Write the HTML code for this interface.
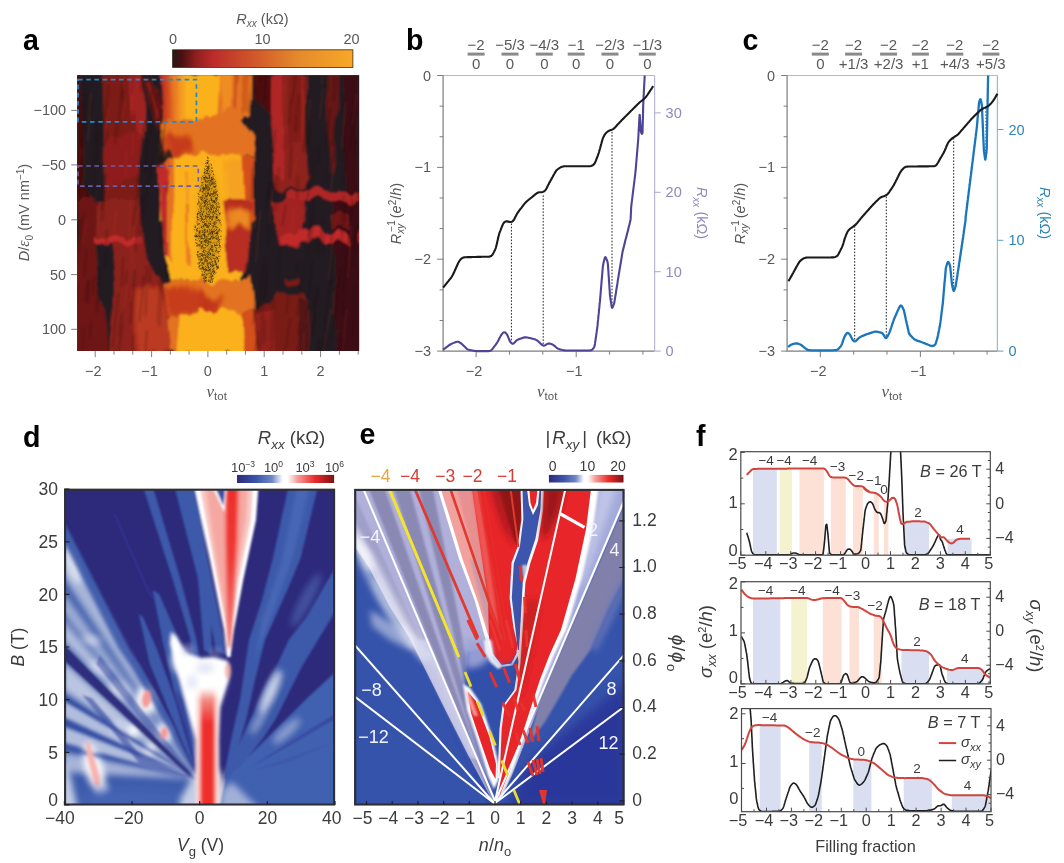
<!DOCTYPE html>
<html lang="en"><head><meta charset="utf-8"><title>Figure</title>
<style>
html,body{margin:0;padding:0;background:#fff;}
body{width:1064px;height:863px;overflow:hidden;}
svg{display:block;font-family:"Liberation Sans",sans-serif;}
</style></head><body>
<svg width="1064" height="863" viewBox="0 0 1064 863">
<rect width="1064" height="863" fill="#fff"/>
<g id="pa"><text transform="translate(23.0 49.5) scale(0.97 1)" font-size="29.5" font-weight="bold" fill="#000">a</text><defs><linearGradient id="cba" x1="0" x2="1" y1="0" y2="0"><stop offset="0" stop-color="#241a1b"/><stop offset="0.05" stop-color="#4a0f10"/><stop offset="0.13" stop-color="#8f1f1f"/><stop offset="0.22" stop-color="#bb2a2b"/><stop offset="0.45" stop-color="#d1572a"/><stop offset="0.7" stop-color="#e58a2c"/><stop offset="1" stop-color="#f8a827"/></linearGradient></defs><rect x="172.6" y="49.8" width="180.3" height="17.6" fill="url(#cba)" stroke="#3a2a1a" stroke-width="0.8"/><text x="262.5" y="23.5" text-anchor="middle" font-size="14.5" fill="#58595b"><tspan font-style="italic">R</tspan><tspan font-style="italic" dy="3.5" font-size="10">xx</tspan><tspan dy="-3.5"> (kΩ)</tspan></text><text x="173" y="44.3" text-anchor="middle" font-size="14.5" fill="#58595b">0</text><text x="262.5" y="44.3" text-anchor="middle" font-size="14.5" fill="#58595b">10</text><text x="351.5" y="44.3" text-anchor="middle" font-size="14.5" fill="#58595b">20</text><defs><clipPath id="ca"><rect x="77.2" y="75.2" width="281.90000000000003" height="275.90000000000003"/></clipPath><filter id="ba1" x="-20%" y="-20%" width="140%" height="140%"><feGaussianBlur stdDeviation="0.9"/></filter><filter id="bat" x="-5%" y="-5%" width="110%" height="110%"><feTurbulence type="fractalNoise" baseFrequency="0.09 0.012" numOctaves="2" seed="4" result="n"/><feDisplacementMap in="SourceGraphic" in2="n" scale="14" xChannelSelector="R" yChannelSelector="G" result="d"/><feGaussianBlur in="d" stdDeviation="0.8"/></filter><filter id="ba2" x="-20%" y="-20%" width="140%" height="140%"><feGaussianBlur stdDeviation="2.2"/></filter><filter id="ba3" x="-30%" y="-30%" width="160%" height="160%"><feGaussianBlur stdDeviation="4"/></filter><linearGradient id="ga_l" x1="0" x2="1" y1="0" y2="0"><stop offset="0" stop-color="#c02a2a"/><stop offset="0.35" stop-color="#d5501f"/><stop offset="0.7" stop-color="#f19422"/><stop offset="1" stop-color="#fbb11e"/></linearGradient></defs><g clip-path="url(#ca)"><rect x="76.2" y="74.2" width="283.90000000000003" height="277.90000000000003" fill="#241f20"/><g filter="url(#bat)"><rect x="40" y="40" width="360" height="350" fill="#241f20"/><path d="M76.3 73 L83.2 73 L83.7 189.8 L87.8 193.5 L95.2 220 L76.3 220Z" fill="#4e1011"/><path d="M76.3 200 L95.2 200 L94.3 242.6 L100.8 292.7 L106.3 329.8 L108.2 353.9 L76.3 353.9Z" fill="#6e1917"/><path d="M104.5 73 L141.6 73 L141.6 134.2 L138.8 163.8 L141.6 189.8 L141.6 220 L104.5 220 L106.3 143.4Z" fill="#7d1b19"/><path d="M131.4 73 L141.6 73 L141.6 134.2 L134.2 134.2Z" fill="#a22421"/><path d="M107.3 137.9 L139.7 134.2 L137.9 174.9 L106.3 189.8Z" fill="#8f1f1d"/><path d="M95.2 200 L141.6 200 L143.4 237.1 L147.1 261.2 L160.1 283.4 L178.7 313.1 L178.7 353.9 L108.2 353.9 L115.6 283.4 L111.9 242.6 L93.4 242.6Z" fill="#8c201d"/><path d="M89.7 237.1 L141.6 238 L141.6 244.5 L91.5 243Z" fill="#c02a2a"/><path d="M134.2 289 L156.4 285.3 L171.2 314.9 L174.9 353.9 L134.2 353.9Z" fill="#bf3d20" opacity="0.9" filter="url(#ba2)"/><path d="M93.7 243.6 L112.8 244.5 L116 283.4 L114.1 305.7 L107.5 334.4 L101.9 305.7 L96.7 277.9Z" fill="#241f20"/><path d="M143 79 L151 77 L162 112 L161 130 L153 122 L146 100Z" fill="#6b1414" opacity="0.85"/><path d="M146 82 L149 82 L158 118 L156 120Z" fill="#8e1f1c" opacity="0.8"/><path d="M160.1 73 L240 73 L240 123 L163.8 121.2Z" fill="#fbb11e"/><path d="M159.7 73 L187.9 73 L187.9 122.1 L164.7 121.2 L161 106.3Z" fill="url(#ga_l)"/><path d="M200 73 L219.5 73 L217.6 110.1 L222.2 123 L200 126.7Z" fill="#fbb11e"/><path d="M219.5 73 L250.1 73 L249.7 113.8 L242.6 119.3 L251.9 134.2 L253.8 156.4 L200 156.4 L200 125.8 L217.6 111.9Z" fill="#e37320"/><path d="M220.4 73 L232.4 73 L231.5 108.2 L222.2 111.9Z" fill="#f19422" opacity="0.8"/><path d="M234.3 73 L238 73 L237.1 111.9 L234.3 108.2Z" fill="#c5481f" opacity="0.8"/><path d="M241.7 73 L248.6 73 L248.6 110.1 L243.6 113.8Z" fill="#cf5a1f" opacity="0.9"/><path d="M161 121.2 L208.3 122.1 L240 124.9 L240 153.6 L200.9 155.5 L171.2 160.1 L165.7 149Z" fill="#e37320"/><path d="M163.8 134.2 L189.8 139.7 L193.5 152.7 L171.2 160.1 L165.7 150.8Z" fill="#c2351f" opacity="0.9" filter="url(#ba2)"/><path d="M160.1 163.8 L171.2 159.2 L200.9 154.9 L240 153.6 L240 220 L160.1 220Z" fill="#fbb11e"/><path d="M200 153.6 L242.6 155.5 L244.5 220 L200 220Z" fill="#fbb11e"/><path d="M224.1 160.1 L243.6 157.3 L244.5 220 L226 220Z" fill="#f19422" opacity="0.55" filter="url(#ba2)"/><path d="M241.7 156.4 L253.8 157.3 L254.1 220 L243.6 220Z" fill="#d5501f"/><path d="M160.1 200 L240 200 L240 281.6 L200.9 282.5 L171.2 277.9 L163.8 255.6Z" fill="#fbb11e"/><path d="M200 200 L224.1 200 L227.8 224.1 L244.5 226 L246.3 270.4 L237.1 281.6 L200 281.6Z" fill="#fbb11e"/><path d="M224.1 200 L253.8 200 L251.9 211.1 L248.2 270.4 L227.8 274.2 L223.2 246.3 L227.8 226Z" fill="#b82d20"/><path d="M226 209.3 L250.1 210.2 L249.1 227.8 L227.8 227.8Z" fill="#f19422" opacity="0.9" filter="url(#ba2)"/><path d="M159.7 163.8 L166.6 161 L167.5 220 L161 220Z" fill="#c02a2a"/><path d="M166.6 161 L173.1 159.2 L173.5 220 L167.5 220Z" fill="#e37320"/><path d="M160.1 200 L167.5 200 L168.5 253.8 L163.8 255.6Z" fill="#c02a2a"/><path d="M167.5 200 L173.5 200 L174 261.2 L168.5 253.8Z" fill="#e37320"/><path d="M184.6 171.2 L188.3 171.2 L188.3 220 L184.6 220Z" fill="#f19422" opacity="0.8"/><path d="M185.3 200 L189 200 L189 266.7 L186.1 266.7Z" fill="#e37320" opacity="0.8"/><path d="M160.1 282.5 L171.2 277.9 L200.9 282.5 L240 281.6 L240 311.2 L182.4 314 L171.2 318.7Z" fill="#e37320"/><path d="M200 281.6 L237.1 281.6 L251.9 276 L255.6 311.2 L242.6 311.2 L200 311.2Z" fill="#e37320"/><path d="M160.1 283.4 L189.8 287.1 L219.4 303.8 L208.3 313.1 L178.7 313.1 L171.2 318.7Z" fill="#c3361f" opacity="0.85" filter="url(#ba2)"/><path d="M200 296.4 L222.2 298.3 L218.5 311.2 L207.4 313.1 L200 307.5Z" fill="#c3361f" opacity="0.85" filter="url(#ba2)"/><path d="M178.7 313.5 L208.3 313.5 L240 310.9 L240 353.9 L175.9 353.9Z" fill="#fbb11e"/><path d="M200 310.9 L239.9 311.2 L244.5 329.8 L245.4 353.9 L200 353.9Z" fill="#fbb11e"/><path d="M168.5 318.7 L179.6 313.5 L177.7 353.9 L171.2 353.9Z" fill="#e37320"/><path d="M239.9 311.2 L253.8 311.2 L257.5 353.9 L245.4 353.9 L244.5 329.8Z" fill="#d5501f"/><path d="M252.8 73 L271.4 73 L271.4 115.6 L261.2 106.3 L253.8 97.1Z" fill="#4e1011"/><path d="M272.3 73 L305.7 73 L306.6 143.4 L309.4 178.7 L303.8 189.8 L277.9 189.8 L274.2 174.9 L271.4 134.2Z" fill="#8e201d"/><path d="M272.3 73 L284.4 73 L285.3 137.9 L281.6 178.7 L274.2 171.2 L271.4 134.2Z" fill="#b02826"/><path d="M289 73 L300.1 73 L300.1 139.7 L290.8 141.6Z" fill="#7d1b19" opacity="0.8"/><path d="M271.4 200 L303.8 200 L305.7 222.2 L300.1 246.3 L281.6 246.3 L274.2 222.2Z" fill="#a22421"/><path d="M281.6 237.1 L296.4 233.4 L311.2 229.7 L329.8 233.4 L344.6 230.6 L361.3 232.4 L361.3 243.6 L329.8 242.3 L311.2 240.4 L296.4 244.5 L283.4 246.3Z" fill="#c02a2a"/><path d="M283.4 193.5 L318.7 189.8 L329.8 193.5 L348.3 189.8 L361.3 193.5 L361.3 201.3 L318.7 199.4 L283.4 202.8Z" fill="#b02826"/><path d="M272.3 200.9 L303.8 202.8 L303.8 220 L272.3 220Z" fill="#a22421"/><path d="M329.8 73 L337.2 73 L336.8 163.8 L333.5 178.7 L330.7 163.8Z" fill="#651314"/><path d="M342.8 73 L359.1 73 L359.1 220 L346.5 220 L344.6 152.7Z" fill="#3d1112"/><path d="M333.5 200 L359.1 200 L359.1 353.9 L337.2 353.9 L333.5 274.2Z" fill="#3d1112"/><path d="M329.8 213 L348.3 211.1 L350.2 226 L333.5 227.8Z" fill="#7d1b19" opacity="0.8"/><path d="M311.2 230.6 L329.8 233.7 L344.6 231 L348.3 231.5 L350.2 243 L329.8 241.9 L311.2 240Z" fill="#c02a2a"/><path d="M318.7 190.1 L329.8 193.5 L348.3 189.8 L361.3 193.5 L361.3 200.9 L318.7 199Z" fill="#b02826"/><path d="M253.8 311.2 L263 308.5 L274.2 296.4 L281.6 292.7 L300.1 292.7 L307.5 303.8 L308.5 353.9 L257.5 353.9Z" fill="#7a1b19"/><path d="M255.6 314.9 L270.4 311.2 L277.9 353.9 L257.5 353.9Z" fill="#9a2320" opacity="0.8"/><path d="M296.4 296.4 L306.6 303.8 L307.5 353.9 L300.1 353.9Z" fill="#4a1213" opacity="0.8"/><path d="M287.1 277.9 L296.4 276.9 L298.3 282.5 L287.1 283.4Z" fill="#7d1b19"/></g><path d="M87.8 184.8l-0.5 15M319.2 145.1l-0.7 18.2M307.3 115.1l-4.1 37M269 183.2l-2.6 25.5M353.5 97.8l-3.8 30M259.6 339.2l-2.8 47.3M265.7 71.4l-1.4 31.9M93.8 277.2l-1 17.6M308.2 303.6l-1.9 24M326.5 329.4l-0.8 18.5M143 199l-2.1 37.3M271.9 207.4l-4.4 38.6M330.8 280.4l-6.5 49.6M96.2 122.8l-1.3 19M77.3 106.9l-1.2 16.4M323.7 234.6l-1 18.4M317.6 287.6l-5.8 47.2M156 136.7l-6.4 41.8M341.3 337.8l-3.8 53.1M314.1 197.5l-5.3 40.1M263.4 316.2l-5.7 45.6M118.4 293.2l-6.1 54.2M310.1 123.4l-1.4 22.8M298.3 94.5l-2 36.1M343.1 297l-0.7 17.9M330.1 107.8l-4.8 42.8M326.1 332.1l-3.3 21.4M167 264.4l-1.3 12.8M82.3 156.7l-3.6 38.8M354.9 282.7l-1.9 53.8M88.4 280.1l-0.9 23.6M152.7 100.9l-1.9 34.7M122.7 79.1l-1.3 20.7M291.3 145.2l-1.5 33.5M311.8 260.2l-3 39.3M92.5 101l-1.9 15M156.7 132l-2.1 24.6M151.7 90l-0.8 29.2M262.6 262.7l-3.7 49.8M354.8 106.4l-4.7 43.1M142 73.8l-1.2 17.7M135.1 269.3l-4.8 54M163 221.8l-0.4 12.5M133.4 335.1l-1.2 52.3M308.3 332.3l-1.8 31.3M275.5 129l-4.5 50.6M78.2 200.9l-2 31.4M147.5 138.5l-1.6 34M91 320.9l-1.5 17.5M162 219l-1.3 29M358.1 189.3l-0.8 18M254.7 303.3l-1.2 21.3M338.5 293l-7.6 48.8M108.8 84.6l-3.5 34.6M140.2 231l-0.8 12.4M347.5 243l-4.3 50M146.8 330.2l-2.7 42.3M265.3 320.5l-0.5 21.8M285.6 204.5l-3.2 20.8M308.4 128.9l-2.7 21.5M345.5 202l-1 20.1M264.7 327l-1.4 18.3M351.8 104.4l-0.4 14.2M86.2 248.5l-2 28.3M308.9 184.5l-1.2 14.1M336.4 118.5l-4 27.7M151.1 262.9l-1.5 25.6M290.2 318.1l-6 39.3M143.1 196.3l-8.2 53.1M148 183.8l-5 33.2M99.5 119.6l-2.4 44.4M355.7 138.3l-0.5 15.6M267.2 271.6l-5.5 48.4M335 76.3l-0.9 24.6M107 229.7l-2 38.7M134.6 68.3l-3 26.1M165.2 121.3l-4.5 46.2M105.8 174.3l-3.9 35.7M123.3 257.1l-1.8 29.6M345.9 151.4l-2.5 36.4M81.4 217.4l-5.8 39.5M252.6 167.5l-1.4 33.7M352.2 198.4l-2.1 14.3M139.8 176.8l-6.6 48.4M138.7 175.5l-2.5 34.3M143.5 275.9l-3.8 45.5M100.4 267.6l-4.2 45.4M318.8 340l-5.8 43.5M353.9 200.9l-7.9 53.1M122 312.6l-3.2 23.8M122.7 323.6l-6 41.2M298.5 97l-3.8 34.8M323.3 218.4l-5.3 36.9M357.1 239l-3.8 29M356.4 224.5l-3.5 27.5M127 270.4l-1.9 14.1M257.4 336.7l-4.2 37.2M77.7 74.5l-2 18.4M261.3 71.3l-0.8 12.1M341.4 267.6l-3.3 22.7M296.8 68.6l-5.4 35.7M258.2 331.5l-3.1 21.3M137 237l-2.3 15.3M84.8 94.6l-3.5 51.9M343.4 94.8l-0.7 20.8M158.2 92.8l-2 16.2M167.2 182.1l-0.7 12.9M317.2 235.8l-1 13.3" stroke="#1c0808" stroke-width="1.8" opacity="0.22" fill="none" filter="url(#ba1)"/><path d="M161.7 284.4l-2.3 42.1M343.5 196l-1.2 40.6M83.7 327.6l-1.4 34.7M84.8 210.9l-7.6 54.1M150.8 166.4l-2.5 19.2M78.3 285.7l-1.7 19.4M274.3 307l-3 52.5M97.7 131.6l-1.7 15.1M271.2 182.5l-2.3 15.1M82.3 134.3l-1.6 12.7M123.2 88.5l-6.8 48.2M163 129.4l-3.5 37.2M310.2 226.3l-5.8 50.4M312.8 219.3l-4.2 39M284.9 134.8l-0.9 15.2M258.4 86.6l-1 18.3M266.6 256.2l-2.5 41.1M343.8 123.3l-1.5 37M288.8 296.7l-2.6 17.2M342.4 216.7l-1.2 42.9M161.1 269.1l-3 54M94.7 141.8l-2 53.6M280.7 243.8l-3.8 44.9M88.3 281l-3.3 22M162.8 100.5l-2.5 22.8M87 82.5l-2.9 51.6M330.5 158.7l-3.7 23.7M303.4 268.9l-6.1 47.4M277.3 188.5l-1.7 22.1M314.2 146.3l-2.6 36.4M117.1 121.5l-2.4 23M320.8 340.2l-1.3 27.6M332.1 236.4l-2 47.5M146.8 265.2l-1.3 50.6M290.7 75.7l-1.8 48M103.1 187.1l-0.9 33.9M299.4 321.9l-1 14.8M297.7 176.1l-0.5 23.4M297.9 262.6l-1.7 12.3M106.9 129.3l-0.9 13.7M273.2 298.4l-2.4 42.6M150.6 130.3l-6.7 44M85.3 76.7l-4.5 41.8M316.2 289.2l-5.3 39.3M279 166.7l-4 25.8" stroke="#2a0c0c" stroke-width="3" opacity="0.16" fill="none" filter="url(#ba1)"/><path d="M310.3 99.4l-2.3 21.6M322.9 87.4l-3 31.3M296.8 156.2l-2.9 21.6M141.1 119.5l-2.2 20.8M127.5 282.9l-3.5 26.3M125.1 100.2l-2.7 18.5M260.3 210.5l-4.2 52.1M333.7 162.8l-3.2 31.7M294.9 205.3l-4.6 36.2M272.5 190l-3 34.9M334.1 291.2l-0.9 23.1M303.2 88.3l-1.4 48.8M130.6 196.2l-1.8 52.2M312.7 311.3l-4.8 39M116.5 209.7l-4.6 33.7M345.8 101.8l-4.3 47.3M331.4 145.2l-2.1 28M90.8 93.3l-2.9 47.9M346.7 309.2l-5.1 46.9M135.8 315.2l-1.7 33.4M323.3 71.2l-1.6 13.4M107.9 107.8l-4 34.5M330.4 309l-6.9 43.5M124.9 66l-1.7 24M112.1 331.2l-1.5 20.9M86.7 217.7l-4.1 26M133.4 133.5l-0.9 22.5M356.6 93.4l-4.4 32.4M351.5 226.1l-3.7 52M134.6 66.8l-4 50.8M304.1 332l-0.8 20.5M134.8 237.3l-1.3 32.4M145.9 106.4l-1.8 16.1M133.4 233l-3.7 33.8M126.4 150.6l-0.7 24.9M333 239.2l-4.7 41.8M284.9 83.3l-2.7 37.4M308.2 311.1l-2.1 14.8" stroke="#d84a30" stroke-width="1.6" opacity="0.14" fill="none" filter="url(#ba1)"/><ellipse cx="208.5" cy="225" rx="11" ry="56" fill="#8a6a10" opacity="0.3" filter="url(#ba2)"/><path d="M209.2 185.6l-0 0.5M216.4 215l0.1 -1.3M218.2 235.8l0.3 0.6M218.9 245.8l0.5 -0.2M213.8 273.9l-1.2 -1M208.6 193.6l-0.7 0.3M219.2 229.4l0.8 1.3M210 280.9l0.6 1.7M200.8 207.4l0.4 1.3M209 161.1l0.3 -0.6M217.7 266.9l1 -0.7M209.2 165.2l-1.1 -0.3M199.3 232.7l0.7 -0.7M213.2 276.8l-0.4 0.1M211 237l0 1.6M206.8 219.6l-1 -0.7M204.8 241.4l0.3 -1.7M207.8 187.3l-0.8 -0.5M206 195.1l-0.8 -0.4M197.4 253.2l0.3 -0.7M213.1 183.7l-1.1 -0.2M198.5 243.8l-0.7 1.2M216.6 211l-0.7 0.5M207.6 267.4l-1.3 0.1M216.5 236.7l-1.3 -0.7M203.2 255.9l-0.5 -0.3M217.7 207.3l-1.6 1.6M217.8 266.8l0.9 1.5M209 239.4l-0.7 -1M219.1 243.3l0.7 0.3M211.6 193.4l-0.5 1.6M204.3 232.9l0.6 -0.1M205 254.5l-0.2 1.1M215.9 257.5l0 1.3M206.6 222.2l0.4 -1.8M206.5 162.4l-1.4 1.7M199.6 263.6l-0.8 -0.7M211.5 199.9l-0.7 -1.1M201.1 197.1l0.3 -0.4M216.1 232l0.5 0.4M205.6 210.1l0.2 -0.3M207.5 243.3l-0.2 0.7M216.9 266.8l0.7 1M207.9 188.7l0.5 0.6M213.9 267.7l0.3 0.2M209.3 168.5l-1.2 1M206.6 161.1l0.7 -1.2M198.8 246l0.8 -1.6M203.3 186.1l0 0.9M205.7 205.3l-0.7 -0.3M213.9 207.7l0.2 0.9M208.9 240.7l0.1 1.4M208.8 271.5l0.3 -1.1M203.3 189.3l-0.8 -1M219.9 242.9l0.2 -0.3M210.3 263.5l-1 -1.7M205.7 216.2l-0.7 -0.6M210.9 216.2l0.6 1.2M208 226l0.6 -0.4M219.7 248.3l-1 -1M202.9 263.5l-0.9 -1.1M217.4 244.6l-0.9 1.3M205.8 192.4l0.2 -1.8M207.2 197.9l-1.1 0.3M214.6 253.2l0.2 0.6M203.1 257.5l0.9 0.6M198.7 223.3l-0.7 0.8M210.2 241.3l0.1 0.5M212.9 171.1l-0.7 0.8M210 231.1l-0.4 -0.7M209.5 250.9l-0.7 -0.8M216.4 204l-0.3 -0.9M205.1 252.8l-0.6 0.1M205 253.1l-1.3 -0.8M200.8 247.5l-0.5 0.9M214.1 258.7l-1.2 -0.4M212 229.3l0.2 -0.7M208.2 264.3l0.3 -1.8M212.3 253l-0.2 -0.1M208.9 180l-0.3 0.5M196.6 234.3l-1 -1.5M219.4 223.7l0.7 0.7M207.2 264.5l-0.3 -1.4M206.5 223.5l-0.8 -0.1M206.1 251.3l0.7 0.8M205.8 201.9l-0 -1M208.1 173.6l-1.1 -1.2M201.3 206.6l-1.3 -1.2M197.9 217.5l-0.4 -0.3M197.3 244.5l-0.6 -1.7M205.3 277.6l-0.4 -1.2M204.4 234.2l-1.5 0.8M213.6 190.3l0.8 -0.7M204.4 235.1l0.2 1.7M195.2 230.4l-1.4 -1.2M202.2 274.4l-0 1.6M207.4 170l0.2 1.5M206.7 201.4l0.4 -0.1M214.2 232.1l-0.3 -1.2M196.7 245.4l0.4 0.6M218.4 236.8l-0.4 1.4M204.5 248.2l-1.4 -0.4M201.3 185.9l0.1 0.3M209.4 183.3l0.4 0.4M209.3 255.3l-1.1 -1.5M199.8 259.9l0.9 -1.1M201.1 268.5l-1 1.2M212.3 233.4l0.7 -0.6M207 231.8l0.6 0.3M201.8 258.6l-0.4 0.8M211.8 209l-1 -0.5M206.4 166.1l0.8 0.8M218.1 266.2l0.8 0.1M216.6 192.4l-1.4 0.8M208.9 192.7l-1.5 0.9M207.3 190.4l0.3 0.9M201.2 191.8l-0.5 -1.5M201.4 202.6l-0.4 0.1M204.9 224.1l-0.9 -0.1M214.2 267.7l-1 1.1M200 223.3l-1.1 1M219.7 214.4l0.9 -1.7M202 178.9l-0.7 -1.6M198.1 224.6l-1 1.1M203.2 208.4l-0.5 0.5M219 240.9l-1 -1.3M215.4 251.4l0.6 0.2M202.5 190.9l0.1 1.4M208.9 207.9l-1.1 0.7M219.1 212.7l-0.8 0.1M210.1 273.3l-0.1 0.2M203.2 217.2l0.8 -1.4M205.2 240.1l0.7 1.7M200.5 236.9l-1.1 -0.4M204.4 260.3l0.9 1.6M206.4 195.7l-1.3 -0.9M204.4 279.5l-1.1 -1.5M214.6 222.1l0 1.1M209.3 189.4l-1 1.6M213 173.7l1 0.6M199.2 237.3l0.4 -1.2M200.2 203.9l1 -0.8M204.8 172.1l-0.7 1.5M212.5 281.6l-0.7 1.6M213.4 216.9l-1.5 -0.6M215.3 250.1l-0.4 0.1M209.3 211.4l-1.1 0.3M213.5 273.5l0.9 1.2M205.6 176.7l-1.5 1.7M216.7 207.3l-1.6 1.3M219.9 255.9l-0.2 1M209.6 174l-0.3 -0.5M205.7 195.7l0.9 1.6M215.5 264.6l0.9 -0.8M211.4 198.6l0.9 -0.2M209.2 215.9l1 0.1M211.2 211.4l-0.5 1.3M198.2 253.8l-0.6 1.7M202.6 201.9l0.7 -0.2M212.8 265.2l-0.8 0M205.7 206l0.7 0.3M205.3 174l-0 -1.3M214.5 223.1l0.6 1.5M212.7 211.3l0.7 -0.4M217.7 215.6l-1.1 1.2M197.3 231.3l-0.7 -1.8M201.4 260.8l-0.6 0M211.4 210.2l-0.5 -1.5M210.4 279.4l-0.5 0.9M204.7 281l-0.4 -0.3M214.3 268.6l-0.5 0.3M202.9 267.3l-1.4 0.5M197.6 228.1l-0.4 1.3M209.2 239.2l-0.8 1.4M213.6 264l-1.4 -0.2M203.9 182.3l-0.3 -0.4M215.8 263.2l-0.6 -0.4M205.3 178l0.2 -0.6M201.9 227l-1 0.6M199.8 232.6l-0.6 0.1M212 231.1l-1.5 1M208.3 264.2l-0.9 1.4M201.5 242.2l1 -0.6M208.4 281.4l0.3 -0.6M210.5 248.1l-0.2 1.3M209.4 215.9l-0.4 -0M217.1 229.2l-1.4 0.9M203.4 225.4l0.7 0.1M199.4 192.3l0.3 -0.5M210.1 216.1l0.2 0.2M200.2 204.3l-0.8 0.8M207.2 177.3l-0.5 0.3M208.6 181l-1.3 0.1M214.1 272.3l-0.6 -1.6M213.7 196.8l0.1 -0.8M205.4 219.9l0.3 0M206.7 242.4l-0.9 0.2M205.5 229.6l-1.2 0.5M212.3 182.2l0.9 1.3M205.4 247.5l-0.2 0.9M203.9 272l0.9 0.9M214.2 216.8l-0.2 0.6M199.4 231.9l0 1.4M203.1 173l0.4 -0.4M219.9 213.2l-0.9 0.7M217.8 197l0.5 -0.4M207.2 257.4l-0.8 -1M215.4 212.7l-1 -0.3M211 224.5l-1.5 -1.7M202.4 198.4l-0.9 0.9M212.9 231.6l-0.2 -0.3M211.8 229.1l-1.3 1.8M215.5 186.8l-1.6 -0.1M208 194l-0.8 -1.3M197.6 234.7l-1.5 1.7M215.3 222.7l0 -1.5M205.7 226.4l-0 -1.7M213.1 194.2l-0.4 -0.9M211.6 200.7l0.9 -0.1M206.2 181.1l-1 0.3M201.6 232.8l-1.3 -1.2M202.5 218.9l-0.1 -0.6M198.2 210l0.4 -0.5M202.9 247.3l-1 -1.1M212.3 232.1l-1.3 1M205.6 216l-0.5 -1.1M211.6 205.5l0.8 -1.1M201.9 269.3l0.9 -0.7M217.2 263.7l-1.2 -1M206.8 260.5l-0.4 1.5M214.7 184.5l-0.8 -1M210 224.1l-0.3 -0.7M218.2 261.5l0.5 -1.5M203.6 187.2l0.9 1.5M209.4 271.1l-0.5 -1.6M204.5 269.9l0.9 -1.1M211.6 199.1l-0.9 -1.4M196 228.3l-0.7 -1.2M200.9 197l-0.2 -0.3M204.3 197.8l0.4 -0.2M208.1 252.6l-1.2 1.3M205.7 216.1l0.6 -0.4M205.7 201.2l-0.2 -0.1M207.3 218.2l0.3 -1.1M212.3 177.6l-1.4 0.1M218.1 241.1l-1.4 1.4M211.4 191l-1.1 0.8M215.6 233.9l-1.6 -1.1M220.4 223.4l-0.1 -1.3M207.3 262.6l0.1 -1.3M215.8 247.7l-0.9 -1M213.4 176.4l-0.6 0.1M203.9 243.9l0.4 1M210.8 247.8l0.9 -0.2M202.6 182.9l-0 -0.5M210.4 275.3l0.1 0.4M208.4 233.6l-0.3 1.2M212.4 179.8l0.6 -1.5M207.1 216.9l-1.1 -0.9M195.7 240.4l-0.3 -1.6M204.3 255.4l0 0.3M217.2 218.3l-0.7 -1.6M205 225.4l-0.7 -1.8M207 160.3l0.6 0.3M205.5 281.7l-1 1.3M210.3 259.1l-0.5 0.7M206.1 278.8l-1.3 -1.2M199.2 256.5l-0.6 1.4M212.9 251.6l-1.5 -0.8M207 202.1l0.7 0.9M211.4 273l-0.3 0.9M205.5 258.6l-0 -1M199 267.2l-0.3 -1.1M207.8 227.6l0.7 0.3M216.2 265.7l0.6 1.2M210.7 181.6l0.4 0.3M205.3 260l0.8 0.6M209.8 203.3l0.1 0.1M203.2 251.5l0.3 1.2M201.1 238.1l-0.2 -0.5M207.1 230l0.4 1.7M210.6 238.6l-1.5 1.1M210.7 234.3l0 -1.3M207.9 257.3l-0.6 0.1M198.6 251.6l-1.6 0.2M197.9 217.2l0.7 0.4M214.6 195.3l0.7 -0.4M211.8 165.3l-0.9 1M204.4 230.1l0.5 0.3M203.8 234.8l1 1.7M201.6 255.8l0.4 -1.2M201.9 259.2l-0.5 -1M214.9 193.9l-0.4 -1.5M216.3 199.8l-1.2 -0.9M202.7 237l-1.4 1.3M217.1 234.2l-1.4 -1.2M196 234.8l0.4 1.4M215.7 263.8l0.7 0.7M206.6 226l-1.4 -0.9M214.8 228.4l-1 1.4M205.7 276.7l0.5 1.4M206.4 256.5l-1.3 -1M213.9 208.5l0.8 -1.7M218.8 259l0.2 -0.7M196.8 230.4l-0.8 -1.6M200.5 188.3l0.2 1.8M217.8 235.4l0.3 -0.4M202.8 187.4l-1.1 0.9M210 196l0 -1.2M211.7 187.9l0.1 1.7M218.4 204.7l0.9 0.1M212.9 250.7l-0.3 0.3M215.7 256.1l0.2 0.5M201.7 274.2l0.9 -0.5M210.8 244.8l-0.5 0.2M212.5 193.9l0.3 1.4M207.9 188.4l-1 1.2M217.6 245.5l-1.3 -0.4M213.6 218.2l0.3 0.3M213.8 192l-0.1 -1.1M205.2 233l0.4 -1.2M211.5 255.8l-0.8 0.5M210.8 237.6l0.4 -1.1M220.3 245.7l-0.9 1.7M209.3 164.3l0.6 -0.7M214.5 272.4l-0.6 -1.3M198.9 251.4l-1.3 1.3M205.6 186.8l-0.2 -0.3M206.4 275.3l0.6 -0.9M212.8 177.5l0.7 1.2M205 202.7l0.7 -0.2M202 198.8l0.7 -1.3M211.7 225.7l-0.3 -0.4M202 226.8l-1.1 -1.2M217.3 234.7l-1.3 1.7M214.4 255.7l0.6 -0.4M212.9 264.1l0.2 0.3M210.1 216.6l-1.1 1.5M212.8 220.1l-1.2 -0.6M216.1 194l-0.4 -1.3M208.8 174.3l-0.2 -1M205.2 169.2l-0.5 1.3M208.7 166.7l-0 1.3M203.3 212.8l0.2 -1.6M206.5 185.8l-0.9 0.6M215.3 187.8l-1 -1.5M211.5 277.8l-0.7 0M205.9 188.2l-1 0.9M207 231.8l-0 0.7M198.8 199.8l-0.5 -0.5M209.1 167.9l0.4 0.1M214.6 192.5l-1.4 -0.8M210.6 274.5l-1 -1.1M211.4 202.7l-0.3 -0.3M216.9 239.2l-0 -0.8M211.6 213l-0.3 0M202.3 199.7l-0.2 -0.4M204.9 199.9l-0.3 0.4M212.9 279.3l0.2 -0.6M213 225.8l0.6 1.3M202.9 194l-0.1 -0.5M215.8 264.4l-0.2 0.7M212.7 180.2l0.7 0.5M203 190.6l-0.4 0.7M213.9 211.1l-0.4 -0.7M197.5 214.4l0.5 -1.4M210.7 222.5l-0.8 1M203.3 234.6l-0.6 0.4M213.9 193.1l-0.4 -1.4M213.7 238l-1.5 -1.5M212.9 268.8l-0.6 1.6M215 245.4l-0.5 -1.7M199.1 195l-0.1 -0.8M201.9 186.9l-0.3 0.3M202.8 274.8l-1.4 1.5M212.6 235.4l-1.6 1.5M211.1 197.5l0.3 -0.7M200.5 213.2l-0.1 -0.5M217.7 230.5l0.5 -0.7M217.4 265.5l-1.5 -1.5M217.3 251.3l-0.3 0.1M204.6 237.7l0.3 1.5M205.7 258.1l-0.6 -1.1M211.8 181.9l-0.1 0.2M215.7 199.6l-0.3 0.6M209.6 250.6l0 -0.7M210.7 281.8l-1 1.4M215.7 224.2l0.6 -0.8M218.7 260.1l-1.6 -1.1M206.6 237.9l0.1 0.7M214.8 271.5l-0.3 1.7M205.1 166.9l0.3 -0.6M216.6 245l-1.5 0.7M198.5 224.4l0.8 -0.6M217.3 215.1l0.5 -0.1M198.1 219.7l-1.2 0.1M197.8 222.1l-1.3 -0.4M204.6 211.4l-0.9 0.1M221.5 236.4l-1.5 -0.2M212.9 276l-1.3 -0.8M209.1 189.5l0.9 -0.8M218.4 217.1l-0.3 -0.1M207.9 180.6l-0.6 1M212.8 280.3l-0.6 1.6M205.5 166l0.9 0M203.6 227.3l-0.8 -1.3M199.1 202.1l0.7 1.3M205.1 258.6l-0.2 1M208.7 193.9l0.6 -0.5M210.1 177.6l-0.9 0.4M211 230.9l0.3 0.7M217.7 214l-0.2 0.2M200 231.8l-1.3 0.1M208.6 215.2l0.6 -1M205 190.6l-0.8 -0.8M205 222.9l0.8 1.6M212.3 203l0.3 -0.4M211.9 199.9l0.4 1.4M200.1 254.4l-1.1 -1M216.4 229.7l-1.2 1.3M211.1 268.8l-1.1 -0.2M203.5 202.6l0.1 -0.9M212.1 239.7l0.4 -0.2M212.5 249.8l-1.2 -0.4M214.7 246.3l-0.2 -1.5M207.1 231.1l0.6 -1.6M205.9 280.1l-1.2 1.5M219.6 251.2l-0.7 1M205 200.6l0.2 -0.7M210.3 226.4l-0.4 -0.3M207.5 225.8l-1.3 -1.2M212.2 231.4l0.5 -0.7M209.1 183.6l-0 -1.5M213.3 204.9l-1.2 0.9M209.1 267.9l-0.9 -1.6M205 276.1l0.8 0.1M219.6 229l-0.9 -0.8M213.2 238.5l-1 0M213.8 213.1l1 0.6M195.8 226.1l-1.6 -0.2M205.2 177.9l-1.2 -0.8M199.6 219.2l0.9 0.8M215.5 186l0.3 1M207 259.1l-1.5 1.1M205.3 243.4l0.5 -1.8M220 249.8l0.7 -0.2M198.1 232.2l0.1 -0.3M205.2 179.2l-0.9 1.1M204.8 202.1l-0.4 1.4M216.8 243.5l-0.6 -0.2M198.2 217.9l-0 -0.3M204.4 189.5l-0.3 -1.8M198.2 203.8l-1.1 1M215.9 184.3l-1.1 -1.7M208.9 217.7l0.1 0.2M203.7 238.3l-1.6 0.3M199.1 245.5l0.4 0.8M201.3 261.1l-1.1 -1.4M209.3 267.5l-0.6 -0M213.6 210.8l0.7 1.2M213.6 265.3l-0.5 1.2M210 200.6l0.5 -0.6M215.1 201.3l-1.6 -0.3M199.6 211.8l0.4 1.4M213 272.1l-0.6 -0.2M212.6 254.2l-0.7 -0.2M201.8 180.2l-1 -0.9M214.1 255.1l-1.5 0.9M204.4 270l0.7 0.1M201.5 199.6l0.7 1.1M210.4 178.5l0.3 -0.4M209.4 243.6l-0.1 0.6M220.2 246.8l0.6 0.8M208.6 216.5l-1.2 -0.1M210.2 221.3l-0.9 -0.1M199.3 213.8l0.9 0.2M205.6 207.5l-0.6 -0.8M206.8 275.5l0.1 -1.8M207.2 280.4l-0.9 -0.4M203.1 248.4l0.8 -1M196.5 231.7l-0.2 -0.6M206.2 269.9l-0.5 1.2M209.6 269.9l-0.2 -0.9M198.3 201.2l0.8 1M210.4 186.3l0.6 0.4M206.8 246.6l0.5 -0.7M200.7 190.6l-1.3 -0.3M202.2 253.3l0.8 1.3M213.4 171.1l-1.4 -0.1M210.8 232.5l-1.3 0.8M217.4 196.1l0.2 -1.3M205.1 271.1l-0.5 1M207.9 196.3l-1 -1.4M213.1 206.9l-1 0.6M213 261.3l-1.5 1.7M202.9 245.3l-0.1 0.5M212 200.9l-0.6 -0.6M217.2 248.7l-1.4 -0.9M205.1 251.1l0.6 -0.2M212.2 218.1l0 -1.5M201.7 264.4l0.6 1.2M206.9 263.7l1 -0.7M206.6 264.9l-0.2 0.2M210.5 254.2l-0.2 -1.5M201.5 263.5l-0.1 -0.6M213.7 268.7l-0.5 0.9M211.9 220.1l-0.1 0.3M205.4 182.6l0.8 -1.5M198.7 239.2l0.3 -1.3M211.8 170.9l-1.4 -1.1M205.1 261.1l-0.2 1.4M198.9 236.7l-0.1 -1.6M209.7 184.6l1 0.2M202 200.2l0.4 0.8M207.9 255.4l0.4 -0.7M214.1 206.1l-0.7 0.1M213.5 187l-0.8 0.1M208.9 256l-1.6 0.7M207.6 242.2l-0.9 -0.5M211 208.4l-0.7 -1M219.8 239.1l0.4 0.5M204.1 174.3l0.5 -0.4M200.2 215.6l0.2 -0.8M203.7 195.8l-0 -0.8M217.2 239.1l-0.9 -0.5M197.8 215.7l-0.8 -1.4M212.9 261l-1.4 0.8M216.6 203.5l-1 0.9M204.6 230.3l-0.7 -1.3M217.7 234.3l-0.8 -0.4M204.8 268.9l-1.5 0.2M217.1 194.3l-0.6 0.8M217.4 232.3l0.7 1.7M210.6 264.6l-0.2 -1M208.8 187.7l-0.6 -1.5M207.9 201.9l0.9 -1.3M212.6 184l-1.4 -0.5M207.4 214.2l-0.7 -0.8M208.6 177.7l-1.1 1.5M206.3 267.6l-1.3 -1.7M219.5 220.4l-0.4 1.1M216.2 250.9l0.4 -1.5M210 238.6l-1.1 -0.1M214 184.7l0.2 -0.2M208 205.3l-1 -0.3M213.7 235.1l-1.6 -1.5M206.2 196.5l0.6 -0.3M205.1 216.6l0.8 1.5M214.3 214.2l-1.4 0.9M212.4 168.9l-0.7 -1.8M210.7 183.3l-1.3 -1.6M212.8 250.7l0.8 1.7M213.8 194.4l-1.1 1M213.6 237.9l-0.5 -1.4M217.5 266.8l0.7 1.5M208.6 158.1l-1.4 -0.2M200.5 244.7l-0.3 0.2M205.2 171.1l-0.8 1.8M214.9 264.3l-0.7 1.2M217.8 237.2l0.6 -0.4M210.4 255.2l-0.2 -1.7M214.7 237.3l-1 0.5M206.2 176.3l-0.1 1.4M210.7 234l-1.1 -0.8M201.6 242.4l-1.5 -1.7M202.4 183.4l-1.6 -1.3M201.6 198l0 -1.3M211.4 172.7l0 -0.8M196.2 243.6l0.6 -0.7M200.9 236l-0.5 -0.2M204.2 207.1l0.4 0M204.3 233.2l-0.1 1.3M216.5 229.6l0.4 -0.5M210.9 264.9l-1.2 -1.5M205.7 184.6l0 1.7M212.8 226.8l0.2 0.1M205 253.9l-0.3 1M208.5 222.5l-0.3 1.7M211.2 254.4l-1 -0.1M210.7 270.3l-1.1 -1.5M204.4 210l-0.9 -0.6M205.1 204.7l0.6 -0.4M203.8 258.9l0.5 -1.5M214.9 202.4l0.7 -0.3M198.2 204.3l-0.6 -1.4M221.3 239.1l0.4 0.3M215.9 233.8l0.6 -1.2M209.2 241.8l-1 1.6M208.4 236l0.6 0.5M213.4 254.3l-0.8 1.7M200.2 245.6l-0.5 -1.6M203.3 267.1l-1.4 0.1M211.7 267.5l0.8 -1M209.8 195.5l-0.1 -1.4M200.7 186.5l-1 1.1M209.6 194.4l0.9 1.8M208.7 208.5l-1.6 -1.7M206.7 269l-0.1 0.9M201 268.3l-1.6 0.2M208 258.7l0.6 0.7M209.2 271.2l0.2 -0M196.3 237.1l0.4 -1.6M208.2 245.5l-0.4 0.5M208 257.3l0.8 1.5M213.9 193.6l-1.5 -0.1M215.1 262l0.8 -1.5M198.3 219.4l0.7 1.1M215.6 198.5l0.5 -1.1M204.1 277.4l-0.1 1M206.2 245.4l-1.1 -0.6M203.5 192l-1 0.2M204.1 232.4l-0.7 1.1M209.4 247l-0.5 -0.1M200.1 266.4l-1.4 1.2M213.6 188.7l0 0M201.5 198.8l0.3 1.5M220.7 230.5l0.7 1M202.5 182.6l-0.5 -0M201.8 246.7l-0.7 -1.2M210.8 211.3l-1.2 0.8M201 242.8l-0.9 0.3M209.6 277.6l-1 -0.3M215.2 260.5l-0.1 -0.5M204.7 202.6l-1 -1.4M216 211.8l-0.9 -0.8M202.3 231.8l-0.3 -1.7M214.8 196.2l0.4 -1.5M206.6 217.3l-1.6 -1.4M217.6 206.6l0.6 0.1M203.8 187.9l-0.5 1.8M211.6 273.9l-1 -0.2M203 196.1l-0.9 -0.7M202.9 274.3l-0.7 0.1M203 255.8l0.7 -1.5M207.8 238.7l-1.2 0.6M207.1 199.4l1 -0.3M205.1 218.5l-1.2 1.6M213.6 179.7l-0 -1M202.2 259l0.1 1.4M211.2 280.6l0.5 -1.4M218.1 258.1l-1.5 1.1M212.9 270.8l0.8 -0.3M206.5 269.5l-1.5 -1.4M213.8 215.5l-1.2 -0.7M199.5 235.8l-1.4 0.2M213.1 265.7l-1.3 0.7M199.7 207.3l0.1 -1.7M216.6 192.1l0.6 -1.7M215.5 227.3l0.3 -1.4M197.7 213.4l-0.6 -0.1M217.4 268.3l-0.6 1.3M202.2 262.3l0.9 1.7M208.3 271.1l0.7 -1.1M205.5 231.7l-0.6 -0.4M218 218.4l-1.5 -0.1M200.4 264.8l-1.1 1.7M209.7 180.9l-1.5 -0.8M204.9 272.5l0.2 -0.7M214 201.3l-0.8 -0.8M203.2 184.4l0.5 0.6M206.9 281.1l-1 -0M209.3 281.8l-1.5 -0.6M207.3 185.9l-0.9 -1.2M215.9 244.9l-0.7 1.1M203.8 268.9l-1.6 -0.9M204.6 178.4l-0.8 -1.2M203.5 277l0.8 -0.4M204.2 250.1l-1.5 1.5M205.3 237l-1 0.1M210.2 281.6l0.4 -1.2M214.5 222.3l-1.4 1.2M212 179.4l-1.1 1.3M206.8 186.4l0.2 -0.3M212.2 209.7l-1.4 -0M203.1 265l0.8 -1.2M206.2 276.9l0.3 1.4M203.1 214.5l-1.6 0.7M204 249.2l0.4 0.7M219.1 241.6l0.9 0.5M212 195.9l-0.5 1.2M210.7 257.5l0.7 -0.4M211.5 165.1l-0.4 -1.4M215.6 223.6l-0.3 -0.3M218.7 240.2l-1.4 -0.5M200.6 214.3l-0.7 -0.5M208.5 169.6l-1.4 -0.4M219.2 244.4l0.2 1.4M213.8 264.9l-0.9 1.3M208.5 192.6l0.1 1.2M219 207.7l-0.3 -1.2M202.5 242.6l-1.4 1.5M202.6 254.7l-0.7 -0.1M218.1 208.8l0.7 0.3M205.9 273.3l0.4 0.6M204.6 180.3l0.7 0.6M210.1 210.1l-0.6 -1.1M196.6 243.5l-1.4 -1.3M217.1 251.6l0.9 0.8M211.2 223.7l-1.3 0.9M218.3 202.9l-0.9 -1M209.2 273.2l-1.4 0.3M217.1 251.9l-0.1 0.7M209.6 187.9l-0.1 1.7M213.6 205.5l-0.6 -0.4M205.2 266.9l-0.2 0.3M207.7 232.1l0.3 -0.9M203 188.6l-1.1 0.6M207.6 205.7l-0.9 0.7M212.2 178.4l-1 -1.5M213.3 201.4l0.6 -1.1M206.9 192.9l-0.4 0.2M204.9 264.1l-0.9 -0.2M218.4 230.3l-0.9 1.6M201.9 206.4l0.2 -0.8M202 185l-0.6 1.1M209.8 175.7l-1.1 -1.4M214.5 237.1l0.5 1.1M211.5 265l-0.5 1.1M204.3 192.9l0.8 0.9M205.6 189.5l0.7 -0.8M212.4 228.3l0.6 -1M199.7 264.8l0.3 1.4M212.1 199.4l-1.5 0.9M200.5 261.4l-0.5 1.6M204.7 276.6l-1.3 -1.6M216.5 212.1l-0.9 -1.4M213.4 270.6l-1.4 1.3M208.3 239.5l-1.2 1.2M217.3 206.3l-1 -0M211.8 200.4l-0.3 -1.5M201.8 264.4l0.5 -0.2M208.8 161.8l-1.2 -1.1M218.8 211.3l-0.7 -0.6M212.8 223.5l-0.5 -0.4M213 208.4l0.7 0.5M199.6 191.4l0.7 -0.4M205.4 203.4l-1.1 -0.8M207.5 215l-1.3 -1.7M210.8 206.1l-0.2 0.1M211.6 193.8l-1.3 -0.6M205.6 224.7l0.9 0.7M210.7 277.9l-0.4 -0.4M199.5 228.6l0.2 -0.8M204.4 234.5l-0.4 1.7M197.8 214.4l0.2 -1.5M208.4 252.2l-0.5 1.2M206.4 223.8l-0.1 -0.2M206.2 245.3l-1.3 -0.2M204.5 178.5l-0.7 1.5M203 220.2l-0.4 -1.6M205.4 169.6l-1.2 -1.3M202.3 269.4l-1.2 -0.7M207.5 167l0.3 1.8M208.5 206.6l0.2 -0.4M210.3 258.5l-1.1 -1.1M216.8 258.2l-0.1 -1.5M207 209.8l-0.6 -0.8M206.8 177.9l-1.2 0.4M198.1 227.7l-0.8 1.1M219 207.9l0.7 -1.2M212.7 243.4l0.7 -1M209.1 170.6l0.9 1.5M215.8 216.3l0.8 0.2M215.5 181.4l-1.3 1M218 238l0.8 1.2M195.8 236.8l-0.6 -1.3M217.3 196.9l-0.4 1.4M205.3 245.5l-0.2 0.1M212 247.2l0.7 1.1M199.9 218.9l0.6 -0.8M206.2 260.7l-1 -1.6M201.9 242.7l-0.8 -0.6M199.4 197.1l-1.3 -0.9M210 219l1 -1.3M206.4 169l0.7 -1.2M208.2 170.6l-1.4 0M206 185.7l1 0.4M203.3 227.4l-0.9 1.2M213.4 273.1l0.3 -0.7M218.9 255.7l-1.4 1.8M216 227.9l0.5 -1.4M201.6 248l0.5 1.4M208 158.4l-0.5 -1.7M201.5 204.5l0.9 -1.3M211.8 272.8l-0.6 -0.5M209.8 190.3l-0.1 -0M214.6 179.3l0 0.8M210.4 248.8l-0.5 0.9M208.1 212.8l0.4 -0.6M217 231.6l-1.1 1.8M211.5 198.9l0.2 0.2M204 270.3l-0.7 -0.3M203.7 242.1l0.6 -1.7M204.5 280.2l-1.4 1.1M211.5 277.5l-0.4 1.5M208.2 265.8l-1.4 -0.4M198 257.5l-0.1 -1.7M211.8 178.2l-0.3 1.6M213.2 222.1l-0.2 0.1M208 216.6l0 -0.5M202.4 244.5l-0.4 1.2M203.1 221.5l-0.9 0.1M211.5 259.4l-0.3 1.1M208 163.7l-0.1 -1.7M200.1 211.1l0.9 -1M214.9 202.6l-1 -0.3M200.6 233.1l-1.4 -0.8M210.5 204.9l-0.2 1M205.4 236.2l-1.1 -0.5M195.9 236.8l-1.5 -1.1M197.1 216.1l0.2 1.7M206.7 237.3l-0.8 0.5M201.5 260.8l0.1 -1M203.1 245.2l-1.1 1.6M201.7 219.6l-0.4 0.2M200.9 211.7l-0.7 1.1M215.8 197.9l0.1 1.7M214.3 193.4l-1.6 0.3M219.5 243.7l-0.7 0.3M200.9 199.2l-0.5 -0M206.7 211.3l0.2 -0.9M216.7 216.3l0.4 1.5M216.6 217.2l-0.7 1M210.1 216.8l0.3 -0.6M209.1 209.9l0.9 1.3M203.2 239.8l0 -0.5M205.4 270.4l0.9 -1M213.1 211.7l-1.4 1.5M216.7 266.2l-0.2 1.2M216.1 264.1l0.2 -0.6M208.6 173.3l-0.8 -0.2M204.7 206.1l-0.3 -1.3M205.9 184.8l-0.2 1.4M214.8 186.7l-0.4 1M209.7 218.3l-0.8 1.5M198.2 256.2l-0.4 -0.6M205.3 241.8l-1.3 -0.9M200 215.3l0.2 -0.9M211.8 233l0.8 1M209.4 257.5l-0.4 -0.4M199 234.3l-0.2 -1.3M209 176l0.5 1.7M212.2 225.8l-0 -0.4M208.7 265.7l-0.5 1.2M203.1 219.2l-0.7 0.8M208.5 235.3l-0.5 -1.3M212.5 203.1l0.9 -1.7M203.8 212l-0.9 0.4M212.5 265.7l0 0.3M207.6 256.4l-0.8 -1.7M214.3 175.2l-1.2 -1.2M212.3 276.1l-1.5 1.1M198.5 200.9l0.7 -0.2M202.3 266.3l-0.5 -1.1M208.6 280.7l0.1 -1.3M215 200.2l-0.9 1.3M216.2 188.8l-1.4 1.8M210 233.5l-0.8 1.3M215 191l0.7 1.7M200.3 256.7l0.8 -0.2M208 182l-1.4 0.3M205.3 256.4l0.1 -1.2M201.2 216l0.5 1.6M212.2 275.9l-0.5 -0.5M207.7 203.1l-1.6 0.3M209 216.4l-1.6 -0.6M212.7 235.2l-0.6 -0.6M207 166.6l-0.5 -0.5M218 194.4l-0.6 1.2M199.2 201.6l-0.7 1.1M205.2 197.4l0 -1.3M206.8 165.5l-0.1 0.2M205.1 247.3l0.7 0.7M219 219.3l-1.6 1.4M210.7 263.9l1 1.4M206.7 237l0.7 0.7M200.9 253.3l-1 0.5M211.1 243l-1.4 -0.6M205.7 229.7l-1.1 -0.7M206.6 207.3l-0.2 1.4M203.9 226.9l0.2 -1.3M220 245.1l0.2 1.2M207.1 178.5l0.2 -1.4M209.2 185.1l-0.8 -0.3M208.3 159.9l-0.5 1M213.2 181.5l0 1.7M201.9 218.6l-0.4 -1.7M196.5 235l-1 0M207.3 221.1l-0.3 0.3M203.2 195.3l-1.1 0.5M214.6 225.2l0 -1M199.7 208.3l0.8 0.6M204 219.5l0.4 -0M197.3 229.8l-0.2 1.4M208.6 191.1l-1.3 -0.8M205.2 241.9l-0.2 0.4M213.6 233.6l0.1 0.2M207.6 270.2l-1.4 0.5M219.9 229.5l-1 0.9M212.5 254.9l0.8 0.2M215.7 262.1l-0.3 0.6M212.4 232.8l0.1 -1.3M215 261.4l-0.2 -1.4M206.4 186.7l0.4 1.6M204.1 251.2l-1.4 0.2M209.8 203.7l0.1 0.9M208.4 208.5l-1.1 0.5M205.8 218.1l-0.9 1.1M201.3 247.4l0.3 0.2M218.2 232.1l-1.1 1.8M210.7 194.6l-1.3 1.1M203.5 251l0.4 -0.8M206.7 172.9l0 1M213.3 205.5l-0.8 1.4M207.7 256.9l-1.3 1.3M209 227.6l-1.6 -1.1M211.2 208.1l0.9 1.7M214.4 200.9l0.5 1.4M207.6 161.8l-0.1 1.8M216.4 217.8l-0.5 1.7M205.6 277.4l-0.9 1.6M206.1 170.7l-0.4 1M215.8 220.8l0.5 -0.5M205.1 231.8l-1.1 1.3M217.4 199.6l-1.3 1.4M210.6 262.6l0.6 -0.8M214.7 270.4l-0.7 1.7M202.4 256.9l0.7 -1.7M210.9 174.4l0.1 -0.3M212.5 218.7l-1.3 0.3M213.2 279l-0.2 -1.1M217.6 206.4l-0.2 0.4M211.7 259.7l-0.4 -0.9M208.9 188.9l-1.6 0.6M210.9 277.4l-1.3 -1.6M215.2 230.5l-1.5 1.6M200.9 254.2l0.8 -0.7M195.7 226.2l-1.1 1.6M202.4 248l-1.3 -1.6M204.4 193.5l-0.6 0.7M202.5 215.3l-0.2 -1.5M204.5 177.6l-1.5 0.1M203 235l-0.8 -0M212.1 236.9l-1.5 -1.5M215.4 224.5l-0.1 0.1M201.9 212.2l-0.7 -1.4M201.8 234.6l-0.7 0.9M203.8 188.7l-0.2 1.7M202.6 177l0.6 -1.6M216.8 199.4l-0.6 -1.8M217.1 220.9l0 0.4M201.5 208.2l-0.5 1.6M202.4 214.1l0.3 1.3M208.1 171.1l-0.8 -0.1M212.3 182.6l-1.2 -1.1M199.1 258.1l-0 -0.2M204.5 267.1l0.2 -0.3M202.6 254.2l-1.3 1.7M207.5 172.4l-0.3 0.4M216 184.9l-0.1 1.6M198.9 194.4l-1.3 -1.5M210.9 270.3l-0.6 -0.5M206.2 170.1l0.8 -0.2M216.8 222.1l-0.4 0.8M204.2 222.3l-1.4 0.3M208.6 176l-0.2 -0.5M203.9 242.3l-0 -0.3M211.8 247.6l-0.1 -1.7M209.7 270.4l-0.7 -1.6M204.6 194.2l0.9 -0.9M202 219.9l-1.3 1.7M205.5 176.4l-0.8 -1.5M198.1 255.7l-1.6 -1.6M209.8 203l-0.4 -0.5M197.1 245.4l0.7 1.3M199.8 230.5l-1 1.4M201.1 238l-0.2 1.8M211.4 210.2l-0.5 -0.7M214.2 187.2l-0.8 -1.7M201.5 218.1l0.4 1.6M215.4 263.3l-0.3 -1.6M212.7 180.7l-0.4 0.7M203.4 206.7l0.8 -0.2M212.9 249.9l-0.6 0M210.8 221.1l-0.5 0.9M210.6 238.2l0.2 0.9M215.4 213.6l0.7 0.3M211.4 184.1l-1 1.8M206.8 173.7l-0.3 -0.4M207.8 187.6l0.1 -1.4M212.1 245.1l-1.2 1.5M204.9 221l-1 1.7M201.8 243.7l-0.3 -0.8M217.8 209.9l-0.1 1.3M217.1 237.9l-1.1 0.4M213.1 249.6l-1.5 0.3M217.3 258.4l-0.3 -1M212.8 180l-0.5 -0.8M219.3 206.3l0.3 0.8M203.4 230.6l-0.8 -0M209.7 210.7l-0 -0.3M206.3 200.3l-1.5 0.5M201.1 237.5l0.1 1.2M218.7 209.7l-0.2 0.1M213.6 223.6l0.6 1.1M208.8 244.7l-1.1 -0.7M214.1 220.9l0.1 0.5M215.9 202.5l0.4 -1M207.3 252l0.6 -0.4M208.4 254.6l-0.8 -1M213.1 218.7l-1.5 1.3M216.6 250.1l-0.9 1.6M208.8 165.7l-0.8 1.6M208.6 267.1l-0.3 1.5M199.2 263.9l-0.3 -1.6M209.9 203.2l0.4 1.6M199.5 246.2l-0.3 0.2M210.4 216.8l-0.5 1.3M206.6 181.2l-1.6 -1.5M220 214.4l-1 -1.7M216.6 191.3l0.6 0.4M199.4 233.7l0.8 1.2M208.8 279.9l0.8 0.6M212 168.7l-0.5 -0.3M210.5 174.5l-1.2 1.5M210.1 181.7l0.9 -1.6M211.7 180l0.1 -0.6M212.2 237.6l0.8 -1.2M207.4 162.7l-0.6 1.7M206.6 183.2l0.3 -0.3M219.4 222.3l0 -0.9M215.5 273.5l0.8 -1.2M205.9 180.8l-0.7 0.7M198.6 219.8l-1.3 -0.8M213.3 246.8l-1.5 0.3M207.5 225.2l-1.4 -0.3M207.2 226l0.9 -1.3M201.7 184.6l-0.2 -0.5M196.2 237.7l-0.4 -0.7M211.5 208l-1.5 -1.5M207.4 261.4l-0.1 -1.5M205.5 237.2l-1 0M209.6 214.5l0.3 -1.5M203.1 268.8l-0.9 -1.8M203.5 266.7l0.2 1M208 271.1l-1.4 -1.1M208.1 168.8l0.6 -1.3M203.2 232.7l-1.1 -0.3M209.3 254.8l-1 -0.7M199.1 262l0.5 0.1M203.1 198l0.1 -1.2M214.7 197.2l0.7 0.4M214.6 181.3l0.1 -0.1M206.8 172.8l0.3 1.6M206.4 227.8l1 -1.3M208.5 251.2l1 1.4M218.7 202.9l0.5 1.1M213.6 238.6l-0.2 -0.5M206.9 192.8l0.5 -0.2M211.1 271.1l-1.3 1.6M206.6 239.6l-1.4 1.2M197.7 263.2l0.9 1.4M217.3 227l-0.2 1.5M204.6 178l0.7 -1.4M220.4 220.7l-0.6 -1.3M213.2 177.3l-0.4 -0M214 254.6l0.5 1.5M214.9 242.3l-0 0.6M211.5 181.2l0.4 -0.4M208.8 204.4l-1.4 -0.1M214 212l-1.5 1.2M196.7 246.4l0.5 -0.6M196.4 239.9l1 0.5M213.2 230.8l-1.5 1.3M208 179l-1.5 -1.2M213.8 216.1l-0.5 1.2M212.9 233.1l-0.9 1.6M214.2 212.4l-1 -0.4M207.2 200l-1.6 -1.1M208.3 243.5l0.4 -1M217.4 267.8l-0.5 1.4M197 236.5l0.6 0.9M205.2 251.4l-0.5 -1M216.8 232.6l0.5 1.7M219 253.6l-0.8 -0.6M206 200.8l-1.4 0.2M204.4 230.1l1 1.1M213.2 257.3l-0.8 0.8M200.8 254.6l0.3 1.2M212.6 275.3l-0.5 1.7M207.4 228l-0.3 -1.5M211 181.3l0.2 -1.6M213.7 202.3l-0.6 -1.2M210.1 257.7l0.6 0.8M206.7 240.8l-1.3 -1M206.8 240.3l-1.6 -1.1M197.8 252.2l-0.6 -0.4M215.8 216.5l0.5 1.7M210.2 196.4l0.3 -0.9M218.2 262.3l0.1 -1.6M201.8 210.9l0.5 -0.1M219.1 239.2l1 0.9M209 184l0.3 0.3M207.6 185l0.5 -1.1M206.1 189l0.3 -1.5M211.1 265.8l-0.9 1.1M202.9 263.5l0.9 -1M219.7 239.8l-1.2 0.2M215.4 181.1l0.8 0.7M203.9 189.6l-0.4 1.6M205.2 188.8l0.4 0.7M200 230.3l-0.2 1.1M207.2 254.1l-0.8 0.4M217.3 266.7l0.6 1.2M211.1 274.6l0 0.3M199.7 240.1l-0.7 1.8M202.5 238.5l0.7 0.2M209.5 226.6l-1.5 0.1M214.3 183.2l-0.7 1.5M216.3 238.6l0.2 1.1M209.2 201.5l0.6 -0.3M212.3 205l-1.5 1.4M209.7 176.7l-0.4 -0.9M196.4 236.2l0.5 0.8M202.3 226.4l-1.3 1.6M215.9 210.5l0.7 -1.7M200.9 216l-0.6 1M213.2 227l-0 -1.8M217 266.1l-0.8 -0.4M211.1 253.3l0.1 0.1M207.6 194.7l-0.6 1.7M207.5 166.6l0.8 0.4M207.8 236.5l-1.6 -0.3M207.2 202.3l-1 -1.1M205.3 178.3l-0.6 0.1M203.3 270.3l0.7 -1.3M202.5 219.2l0.3 0.6M202.8 178.9l0.2 -0M207.1 161.8l0.2 1.6M204.2 200.3l-1 -0.6M216.5 205.6l0.5 -1.3M217.5 236.8l0.2 -0.3M206.3 212.5l0.9 0.5M214.7 258l0.1 1.7M201 236.5l0.9 -0.3M206.6 200.5l-1.3 1.2M217.6 198.7l-1.6 -0.1M209.2 250.9l0.9 -0.2M209.5 200.2l-0.7 0.6M207.7 195l0.7 -1.5M209.7 187.3l-1 -0M197.2 235.8l0.5 1.5M209.2 228.8l0.6 1.2M217.5 267.3l0.8 0.5M207.9 249.7l0.8 -1.2M211.5 232.4l0.5 -0.5M219.4 251.6l0.8 -0.4M215.1 226.8l-1.2 -1.3M203 224.6l0.7 1.1M203.7 187l0.4 1.5M216.6 209.5l-1.4 1.2M205.4 205.2l0.9 -1.2M200.8 216.8l0.4 -0.3M202.5 221.8l-0.2 0.9M209.8 190.5l-0.1 -0M217.9 242.4l0.9 -0.4M209.1 231.5l1 0.9M205.1 198.5l-1.2 -0M207.4 241.9l-0.7 -0.5M206.6 271.8l-0 0.2M219.2 232.1l-0.5 -1.2M198.1 225l-1 -1.7M205.4 274.2l-1.3 0.6M207.8 244.9l-0.9 1.5M205.9 270.5l-0 -1.6M198.5 213.6l-1.5 1.1M202.8 272.2l-1.4 -0.9M208 166l-0.3 1M220.9 225.6l0.8 -0.7M217.2 220.1l-0.1 0.7M211.5 274.1l-0.4 0.4M212.1 185l-1 -1.5M201.6 207.5l0.8 -0.5M203.3 182.3l-0.7 -0.1M209.4 166.7l0.2 -1M213.7 230.8l0.7 0.5M206.4 196.1l1 1M200.6 258.6l0.9 1.3M208.7 232.9l-0.6 0M208.3 211.2l0.8 0.7M200.1 257.3l-0.7 -1.4M199.1 211.5l-1.2 -0.3M209.4 169.2l-0.8 -1M205.2 234.1l-0.2 0.4M215.5 261.1l-1.2 1.1M216.3 194.8l-0.2 -0.5M211.6 229.4l0.5 -0.2M205.1 279.7l0.5 1.5M212.7 233l1 -1.8M208.9 177.7l0.9 1.8M197.2 217.7l0.5 -1.1M215.6 237.8l-0.7 1.2M204 273.8l-0.7 1.2M203.5 262.9l-0.6 -0.6M199.4 254.7l0.2 0M202.3 213.1l-0.3 1.4M213.4 266.1l0.1 0.3M210 252.4l-0.4 1.5M207.6 170.8l-1.5 -0.2M201.9 259.3l0.5 1M212.7 275.4l-1 -0.7M218 250.9l1 1.1M213.3 196.7l0.7 0.6M210.5 238.5l0 1.4M205.4 223.1l-0.8 1.5M198.5 258.9l0.7 1.6M207.9 240.5l0.5 1.7M213.2 223l0.5 -0.2M211.7 242.1l-1.5 -0.1M203.1 184.9l-0.8 0.7M211.8 206.6l0.4 1.5M206.7 209.9l-0.8 -1.7M204.6 204.2l-0 -1.8M211.1 248.4l-0.3 1.6M213.6 275.8l0.5 0.2M212.5 246.2l-0.4 -1.2M198.7 259.1l0.6 -0.7M219.1 214.6l0 0.8M205.6 184l-0 1.7M198.3 213.1l0.5 -0.2M201.2 242l1 -1.2M204.7 206.5l-1.3 -0.5M219.2 220.8l-1.1 -1.6M195.6 236l-1.3 0.3M208.8 214.7l-0.7 -0.5M200.5 198.2l-1 -0.3M212.2 278.6l0.2 1.3M204.2 231.6l0.1 0.4M197.7 244.9l0.4 0.6M208.6 208.2l0.2 1M205.3 188l0.4 -1.7M205.7 235.3l-1.6 -1.4M201.9 235.6l-1.4 1M209.7 263.4l0.3 0.8M201.8 199.9l-0.9 -1.2M200.9 197.1l-0.7 0.9M203.4 231.2l0.5 0.7M209.4 225.6l0.9 -1.5M197.4 218.8l0.4 0.2M215.1 201.8l-0.7 1.7" stroke="#2a2006" stroke-width="0.7" opacity="0.85" fill="none"/></g><rect x="78" y="79.6" width="118.4" height="42.2" fill="none" stroke="#2389c9" stroke-width="1.7" stroke-dasharray="4.6 3.6"/><rect x="78" y="166" width="120.3" height="20.1" fill="none" stroke="#6c5fa9" stroke-width="1.6" stroke-dasharray="4.6 3.6"/><path d="M77.2 110.4h-6M77.2 164.9h-6M77.2 219.8h-6M77.2 274.6h-6M77.2 329.3h-6M95.2 351.1v6M114 351.1v3.5M132.8 351.1v3.5M151.6 351.1v6M170.3 351.1v3.5M189.1 351.1v3.5M207.9 351.1v6M226.7 351.1v3.5M245.5 351.1v3.5M264.2 351.1v6M283 351.1v3.5M301.8 351.1v3.5M320.6 351.1v6M339.4 351.1v3.5M358.2 351.1v3.5" stroke="#7d7d7d" stroke-width="1" fill="none"/><text x="66.2" y="115.4" text-anchor="end" font-size="14.5" fill="#58595b">−100</text><text x="66.2" y="169.9" text-anchor="end" font-size="14.5" fill="#58595b">−50</text><text x="66.2" y="224.8" text-anchor="end" font-size="14.5" fill="#58595b">0</text><text x="66.2" y="279.6" text-anchor="end" font-size="14.5" fill="#58595b">50</text><text x="66.2" y="334.3" text-anchor="end" font-size="14.5" fill="#58595b">100</text><text x="93.2" y="375.5" text-anchor="middle" font-size="14.5" fill="#58595b">−2</text><text x="149.6" y="375.5" text-anchor="middle" font-size="14.5" fill="#58595b">−1</text><text x="207.9" y="375.5" text-anchor="middle" font-size="14.5" fill="#58595b">0</text><text x="264.2" y="375.5" text-anchor="middle" font-size="14.5" fill="#58595b">1</text><text x="320.6" y="375.5" text-anchor="middle" font-size="14.5" fill="#58595b">2</text><text x="206.5" y="396.5" font-size="14" fill="#58595b"><tspan font-family="Liberation Serif, serif" font-style="italic" font-size="17">ν</tspan><tspan dy="3.5" font-size="11.5">tot</tspan></text><text transform="translate(29 212.5) rotate(-90)" text-anchor="middle" font-size="14.5" fill="#58595b"><tspan font-style="italic">D</tspan>/<tspan font-family="Liberation Serif, serif" font-style="italic" font-size="16">ε</tspan><tspan dy="3.5" font-size="10">0</tspan><tspan dy="-3.5"> (mV nm</tspan><tspan dy="-5" font-size="10">−1</tspan><tspan dy="5">)</tspan></text></g>
<g id="pb"><text transform="translate(406.0 49.5) scale(0.97 1)" font-size="29.5" font-weight="bold" fill="#000">b</text><text x="476.1" y="49.6" text-anchor="middle" font-size="15" fill="#58595b" >−2</text><rect x="467.6" y="52.6" width="17" height="3" fill="#8a8a8a"/><text x="476.1" y="68.6" text-anchor="middle" font-size="15" fill="#58595b" >0</text><text x="510" y="49.6" text-anchor="middle" font-size="15" fill="#58595b" >−5/3</text><rect x="501.5" y="52.6" width="17" height="3" fill="#8a8a8a"/><text x="510" y="68.6" text-anchor="middle" font-size="15" fill="#58595b" >0</text><text x="544.3" y="49.6" text-anchor="middle" font-size="15" fill="#58595b" >−4/3</text><rect x="535.8" y="52.6" width="17" height="3" fill="#8a8a8a"/><text x="544.3" y="68.6" text-anchor="middle" font-size="15" fill="#58595b" >0</text><text x="576.2" y="49.6" text-anchor="middle" font-size="15" fill="#58595b" >−1</text><rect x="567.7" y="52.6" width="17" height="3" fill="#8a8a8a"/><text x="576.2" y="68.6" text-anchor="middle" font-size="15" fill="#58595b" >0</text><text x="610" y="49.6" text-anchor="middle" font-size="15" fill="#58595b" >−2/3</text><rect x="601.5" y="52.6" width="17" height="3" fill="#8a8a8a"/><text x="610" y="68.6" text-anchor="middle" font-size="15" fill="#58595b" >0</text><text x="647.3" y="49.6" text-anchor="middle" font-size="15" fill="#58595b" >−1/3</text><rect x="638.8" y="52.6" width="17" height="3" fill="#8a8a8a"/><text x="647.3" y="68.6" text-anchor="middle" font-size="15" fill="#58595b" >0</text><path d="M443.1 75.5 H654.6" stroke="#b9b9b9" stroke-width="1" fill="none"/><path d="M443.1 75.5 V351.1 H654.6" stroke="#7d7d7d" stroke-width="1.2" fill="none"/><path d="M654.6 75.5 V351.1" stroke="#b9b6d6" stroke-width="1.2" fill="none"/><path d="M443.1 75.5h-6M443.1 106.1h-3.5M443.1 136.7h-3.5M443.1 167.4h-6M443.1 198h-3.5M443.1 228.6h-3.5M443.1 259.2h-6M443.1 289.9h-3.5M443.1 320.5h-3.5M443.1 351.1h-6M476.1 351.1v6M509.5 351.1v3.5M542.8 351.1v3.5M576.2 351.1v6M609.6 351.1v3.5M642.9 351.1v3.5" stroke="#7d7d7d" stroke-width="1" fill="none"/><path d="M654.6 351.1h6M654.6 271.7h6M654.6 192.3h6M654.6 112.9h6" stroke="#a9a5cf" stroke-width="1" fill="none"/><text x="431.1" y="80.5" text-anchor="end" font-size="14.5" fill="#58595b" >0</text><text x="431.1" y="172.4" text-anchor="end" font-size="14.5" fill="#58595b" >−1</text><text x="431.1" y="264.2" text-anchor="end" font-size="14.5" fill="#58595b" >−2</text><text x="431.1" y="356.1" text-anchor="end" font-size="14.5" fill="#58595b" >−3</text><text x="665.6" y="356.1" text-anchor="start" font-size="14.5" fill="#8e89be" >0</text><text x="665.6" y="276.7" text-anchor="start" font-size="14.5" fill="#8e89be" >10</text><text x="665.6" y="197.3" text-anchor="start" font-size="14.5" fill="#8e89be" >20</text><text x="665.6" y="117.9" text-anchor="start" font-size="14.5" fill="#8e89be" >30</text><text x="474.1" y="375.5" text-anchor="middle" font-size="14.5" fill="#58595b" >−2</text><text x="574.2" y="375.5" text-anchor="middle" font-size="14.5" fill="#58595b" >−1</text><text x="537" y="396.5" font-size="14" fill="#58595b"><tspan font-family="Liberation Serif, serif" font-style="italic" font-size="17">ν</tspan><tspan dy="3.5" font-size="11.5">tot</tspan></text><text transform="translate(400.5 213.5) rotate(-90)" text-anchor="middle" font-size="14.5" fill="#58595b"><tspan font-style="italic">R</tspan><tspan font-style="italic" dy="3.5" font-size="10">xy</tspan><tspan dy="-9" dx="-8" font-size="10">−1</tspan><tspan dy="5.5" dx="2">(</tspan><tspan font-style="italic">e</tspan><tspan dy="-5" font-size="10">2</tspan><tspan dy="5">/</tspan><tspan font-style="italic">h</tspan>)</text><text transform="translate(696.5 213) rotate(90)" text-anchor="middle" font-size="14.5" fill="#8e89be"><tspan font-style="italic">R</tspan><tspan font-style="italic" dy="3.5" font-size="10">xx</tspan><tspan dy="-3.5"> (kΩ)</tspan></text><path d="M511.4 223.5V344" stroke="#222" stroke-width="1" stroke-dasharray="1.6 1.6" fill="none"/><path d="M543.2 195.3V345.5" stroke="#222" stroke-width="1" stroke-dasharray="1.6 1.6" fill="none"/><path d="M612 131.9V304.6" stroke="#222" stroke-width="1" stroke-dasharray="1.6 1.6" fill="none"/><path d="M443.1 349.7 444.1 348.9 445.2 348.2 446.2 347.4 447.2 346.7 448.2 345.9 449.2 345.2 450.3 344.5 451.4 343.9 452.5 343.4 453.7 342.9 454.9 342.4 456 342 457.2 341.7 458.3 341.8 459.4 342.3 460.4 343 461.5 343.7 462.4 344.5 463.3 345.4 464.2 346.2 465.1 347.1 465.9 347.9 466.8 348.8 467.8 349.4 468.9 349.8 470.1 350.1 471.3 350.3 472.5 350.5 473.7 350.7 474.9 350.9 476.1 351 477.3 351.1 478.6 351.1 479.8 351.1 481 351.1 482.2 351.1 483.5 351.1 484.7 351.1 485.9 351.1 487.1 351.1 488.3 351.1 489.5 351 490.6 350.7 491.5 350 492.3 349.1 493.1 348.1 493.8 347.1 494.6 346.1 495.4 345.1 496.1 344.1 496.8 343.1 497.5 342 498.1 340.9 498.7 339.8 499.2 338.7 499.8 337.6 500.4 336.4 501 335.3 501.7 334.3 502.5 333.3 503.4 332.5 504.3 332.2 505.2 332.5 506.1 333.3 506.9 334.3 507.5 335.4 508 336.5 508.4 337.7 508.9 338.9 509.3 340 509.8 341.2 510.5 342.2 511.4 343.1 512.3 343.7 513.2 343.7 514 343.1 514.9 342.2 515.7 341.3 516.7 340.4 517.7 339.7 518.8 339.2 520 338.8 521.2 338.4 522.4 338 523.6 337.6 524.8 337.4 526 337.3 527.2 337.5 528.4 337.7 529.6 338 530.8 338.3 532 338.6 533.2 338.9 534.4 339.2 535.5 339.6 536.6 340.1 537.7 340.8 538.6 341.7 539.6 342.6 540.5 343.5 541.4 344.4 542.4 345.1 543.3 345.6 544.3 345.6 545.4 345.1 546.4 344.4 547.5 343.8 548.6 343.5 549.8 343.6 551 343.9 552.1 344.3 553.2 344.9 554.1 345.7 555.1 346.4 556 347.2 557 348 558 348.6 559.1 349.1 560.2 349.4 561.4 349.7 562.6 350 563.8 350.2 564.9 350.4 566.1 350.5 567.4 350.5 568.6 350.5 569.8 350.5 571 350.5 572.2 350.5 573.5 350.5 574.7 350.5 575.9 350.5 577.1 350.5 578.3 350.5 579.5 350.5 580.8 350.5 582 350.5 583.2 350.5 584.4 350.5 585.6 350.5 586.8 350.5 588.1 350.5 589.3 350.5 590.5 350.4 591.5 350.1 592.5 349.4 593.3 348.4 594 347.4 594.5 346.2 594.8 345.1 595 343.9 595.1 342.7 595.3 341.5 595.5 340.3 595.6 339.1 595.8 337.9 596 336.7 596.2 335.5 596.3 334.3 596.5 333.1 596.7 331.9 596.8 330.7 597 329.5 597.2 328.3 597.3 327.1 597.5 325.9 597.6 324.7 597.7 323.5 597.8 322.3 597.9 321.1 598.1 319.9 598.2 318.7 598.3 317.5 598.4 316.3 598.5 315.1 598.7 313.9 598.8 312.7 598.9 311.5 599 310.3 599.1 309.1 599.3 307.9 599.4 306.7 599.5 305.5 599.6 304.3 599.7 303.1 599.9 301.9 600 300.7 600.1 299.5 600.2 298.3 600.3 297.1 600.4 295.9 600.5 294.7 600.6 293.5 600.7 292.3 600.8 291.1 600.9 289.9 601 288.7 601.1 287.5 601.2 286.3 601.3 285 601.4 283.8 601.5 282.6 601.6 281.4 601.7 280.2 601.8 279 601.9 277.8 602 276.6 602.1 275.4 602.2 274.2 602.3 273 602.4 271.8 602.5 270.5 602.6 269.3 602.7 268.1 602.8 266.9 603 265.7 603.2 264.5 603.4 263.3 603.7 262.1 604 260.9 604.3 259.7 604.6 258.5 605 257.5 605.3 257.1 605.7 257.4 606.2 258.4 606.6 259.5 607.1 260.6 607.5 261.7 607.7 262.9 607.9 264.1 608 265.3 608.1 266.5 608.1 267.7 608.2 268.9 608.3 270.1 608.4 271.4 608.5 272.6 608.5 273.8 608.6 275 608.7 276.2 608.8 277.4 608.9 278.6 608.9 279.8 609 281 609.1 282.2 609.2 283.4 609.3 284.6 609.4 285.9 609.4 287.1 609.5 288.3 609.6 289.5 609.7 290.7 609.8 291.9 609.8 293.1 609.9 294.3 610 295.5 610.2 296.7 610.3 297.9 610.5 299.1 610.7 300.3 610.9 301.6 611.1 302.8 611.3 304 611.4 305.2 611.6 306.4 611.8 307.4 612.1 307.8 612.5 307.5 612.9 306.5 613.4 305.4 613.8 304.3 614.2 303.1 614.4 302 614.6 300.8 614.8 299.6 615 298.4 615.2 297.2 615.4 296 615.6 294.8 615.8 293.6 616 292.5 616.1 291.3 616.3 290.1 616.5 288.9 616.7 287.7 616.9 286.5 617.1 285.3 617.3 284.1 617.5 282.9 617.6 281.7 617.8 280.6 618 279.4 618.2 278.2 618.4 277 618.6 275.8 618.8 274.6 619 273.4 619.2 272.2 619.4 270.9 619.6 269.7 619.8 268.5 620 267.3 620.2 266.1 620.4 264.9 620.6 263.7 620.8 262.5 621 261.3 621.2 260.1 621.4 258.9 621.6 257.7 621.8 256.4 622 255.2 622.2 254 622.4 252.8 622.6 251.6 622.9 250.4 623.2 249.2 623.5 248 623.8 246.9 624.1 245.7 624.4 244.5 624.7 243.3 624.9 242.1 625.2 240.9 625.5 239.7 625.9 238.5 626.2 237.3 626.5 236.1 626.8 235 627.1 233.8 627.4 232.6 627.7 231.4 628 230.2 628.3 229 628.6 227.8 628.9 226.6 629.2 225.4 629.5 224.2 629.8 223 630.1 221.8 630.4 220.6 630.6 219.4 630.7 218.2 630.7 217 630.8 215.7 630.8 214.5 630.9 213.3 631 212.1 631 210.9 631.1 209.6 631.1 208.4 631.2 207.2 631.3 206 631.4 204.8 631.6 203.6 631.7 202.4 631.9 201.2 632 200 632.2 198.7 632.3 197.5 632.5 196.3 632.6 195.1 632.8 193.9 632.9 192.7 633.1 191.5 633.2 190.3 633.4 189.1 633.5 187.9 633.7 186.7 633.8 185.5 634 184.2 634.1 183 634.3 181.8 634.4 180.6 634.6 179.4 634.7 178.2 634.9 177 635 175.8 635.2 174.6 635.3 173.4 635.4 172.2 635.6 171 635.7 169.8 635.8 168.5 635.9 167.3 636 166.1 636.1 164.9 636.2 163.7 636.3 162.5 636.4 161.3 636.5 160.1 636.6 158.9 636.7 157.7 636.8 156.5 636.9 155.3 637 154 637.1 152.8 637.2 151.6 637.3 150.4 637.4 149.2 637.5 148 637.6 146.8 637.7 145.6 637.8 144.4 637.9 143.2 638 142 638.1 140.8 638.2 139.5 638.3 138.3 638.3 137.1 638.4 135.9 638.5 134.7 638.5 133.5 638.6 132.3 638.7 131.1 638.7 129.9 638.8 128.7 638.9 127.5 638.9 126.3 639 125 639.1 123.8 639.1 122.6 639.2 121.4 639.3 120.2 639.3 119 639.4 117.8 639.5 116.6 639.5 115.5 639.6 114.7 639.7 114.7 639.8 115.5 639.9 116.7 639.9 117.9 640 119.1 640.1 120.4 640.2 121.6 640.3 122.8 640.4 124.1 640.5 125.3 640.6 126.5 640.7 127.8 640.7 129 640.8 130.2 640.9 131.4 641.2 132.6 641.6 133.5 642.1 133.8 642.4 133.3 642.5 132.3 642.6 131.1 642.6 129.9 642.6 128.7 642.6 127.5 642.7 126.3 642.7 125.1 642.7 123.9 642.8 122.7 642.8 121.5 642.8 120.3 642.9 119.1 642.9 117.9 642.9 116.7 643 115.5 643 114.3 643 113.1 643.1 111.9 643.1 110.7 643.1 109.5 643.1 108.3 643.2 107.1 643.2 105.9 643.2 104.7 643.3 103.5 643.3 102.3 643.4 101.1 643.4 99.9 643.5 98.6 643.6 97.4 643.6 96.2 643.7 95 643.8 93.8 643.8 92.5 643.9 91.3 643.9 90.1 644 88.9 644.1 87.7 644.1 86.5 644.2 85.2 644.3 84 644.3 82.8 644.4 81.6 644.5 80.4 644.5 79.2 644.6 77.9 644.6 76.7 644.7 75.5" stroke="#4d4496" stroke-width="2.1" fill="none" stroke-linejoin="round"/><path d="M653.2 86.2 652.5 87.2 651.8 88.3 651.1 89.3 650.4 90.3 649.7 91.4 649.1 92.4 648.4 93.4 647.7 94.5 647 95.5 646.3 96.5 645.5 97.4 644.6 98.3 643.7 99.2 642.7 100 641.7 100.8 640.7 101.5 639.7 102.3 638.8 103.2 637.9 104 637.1 104.9 636.2 105.7 635.4 106.6 634.5 107.4 633.7 108.3 632.8 109.1 632 110 631.1 110.8 630.2 111.7 629.4 112.5 628.5 113.4 627.7 114.3 626.8 115.1 626 116 625.1 116.8 624.2 117.7 623.4 118.6 622.5 119.4 621.6 120.3 620.8 121.2 619.9 122.1 619.1 123 618.2 123.9 617.4 124.8 616.6 125.7 615.8 126.7 614.9 127.6 614 128.4 613.1 129.1 612 129.7 610.8 130.1 609.6 130.5 608.5 131.1 607.5 131.7 606.5 132.5 605.7 133.4 604.9 134.4 604.3 135.4 603.7 136.5 603.2 137.6 602.7 138.8 602.4 139.9 602 141.1 601.7 142.3 601.4 143.5 601 144.7 600.7 145.9 600.4 147.1 600.1 148.3 599.7 149.5 599.4 150.6 599.1 151.8 598.7 153 598.3 154.1 597.9 155.3 597.5 156.4 597.1 157.5 596.6 158.7 596.2 159.8 595.8 160.9 595.3 162 594.8 163.1 594.1 164.1 593.2 164.9 592.2 165.6 591.1 166 589.9 166.2 588.7 166.3 587.5 166.3 586.3 166.3 585.1 166.3 583.9 166.3 582.6 166.3 581.4 166.3 580.2 166.3 579 166.3 577.8 166.3 576.6 166.3 575.4 166.3 574.2 166.3 573 166.3 571.8 166.3 570.6 166.3 569.4 166.3 568.2 166.3 566.9 166.3 565.7 166.3 564.5 166.3 563.4 166.4 562.2 166.7 561.1 167.1 560.1 167.7 559 168.3 558.1 169 557.1 169.8 556.3 170.6 555.6 171.6 555 172.6 554.4 173.7 553.8 174.7 553.2 175.8 552.7 176.8 552.1 177.9 551.5 178.9 550.9 180 550.3 181.1 549.7 182.1 549.1 183.2 548.6 184.3 548 185.5 547.4 186.6 546.9 187.7 546.3 188.8 545.6 189.8 544.9 190.7 543.9 191.5 542.9 191.9 541.7 192.2 540.6 192.2 539.4 192.3 538.3 192.5 537.3 193 536.3 193.6 535.3 194.3 534.4 195.1 533.4 195.9 532.5 196.7 531.6 197.5 530.6 198.2 529.7 199 528.7 199.7 527.8 200.5 526.9 201.3 526 202.1 525.2 202.9 524.4 203.9 523.6 204.8 522.9 205.8 522.1 206.8 521.4 207.8 520.7 208.7 519.9 209.7 519.2 210.7 518.5 211.7 517.8 212.7 517.1 213.7 516.5 214.8 515.9 215.9 515.3 217 514.7 218.2 514.2 219.3 513.5 220.3 512.7 221.2 511.8 221.8 510.6 222 509.4 221.9 508.3 221.6 507.1 221.4 506 221.4 505 221.8 504.1 222.5 503.4 223.4 502.9 224.4 502.4 225.5 501.9 226.6 501.5 227.7 501 228.9 500.6 230 500.2 231.1 499.7 232.3 499.3 233.4 499 234.6 498.7 235.8 498.4 236.9 498.2 238.1 497.9 239.3 497.6 240.5 497.3 241.7 497.1 242.9 496.8 244 496.5 245.2 496.2 246.4 495.9 247.6 495.5 248.7 495 249.9 494.4 251 493.9 252.1 493.3 253.3 492.7 254.3 492 255.3 491.2 256 490.3 256.4 489.2 256.6 488 256.7 486.8 256.7 485.6 256.8 484.4 256.8 483.2 256.8 481.9 256.8 480.7 256.9 479.5 256.9 478.3 256.9 477.1 256.9 475.9 257 474.7 257 473.5 257 472.3 257 471.1 257.1 469.8 257.1 468.6 257.1 467.4 257.1 466.2 257.2 465 257.2 463.9 257.4 462.8 257.7 461.8 258.3 460.9 259.1 460.1 260 459.4 261 458.8 262 458.2 263.1 457.7 264.2 457.2 265.3 456.7 266.4 456.2 267.5 455.7 268.6 455.2 269.7 454.7 270.8 454.2 272 453.7 273.1 453.1 274.2 452.6 275.2 452 276.3 451.4 277.3 450.6 278.3 449.9 279.2 449.1 280.1 448.4 281.1 447.6 282 446.9 283 446.1 283.9 445.4 284.8 444.6 285.8 443.9 286.7 443.1 287.7" stroke="#1a1a1a" stroke-width="2.1" fill="none" stroke-linejoin="round"/></g>
<g id="pc"><text transform="translate(742.5 49.5) scale(0.97 1)" font-size="29.5" font-weight="bold" fill="#000">c</text><text x="820.3" y="49.6" text-anchor="middle" font-size="15" fill="#58595b" >−2</text><rect x="811.8" y="52.6" width="17" height="3" fill="#8a8a8a"/><text x="820.3" y="68.6" text-anchor="middle" font-size="15" fill="#58595b" >0</text><text x="853.6" y="49.6" text-anchor="middle" font-size="15" fill="#58595b" >−2</text><rect x="845.1" y="52.6" width="17" height="3" fill="#8a8a8a"/><text x="853.6" y="68.6" text-anchor="middle" font-size="15" fill="#58595b" >+1/3</text><text x="888.6" y="49.6" text-anchor="middle" font-size="15" fill="#58595b" >−2</text><rect x="880.1" y="52.6" width="17" height="3" fill="#8a8a8a"/><text x="888.6" y="68.6" text-anchor="middle" font-size="15" fill="#58595b" >+2/3</text><text x="920.4" y="49.6" text-anchor="middle" font-size="15" fill="#58595b" >−2</text><rect x="911.9" y="52.6" width="17" height="3" fill="#8a8a8a"/><text x="920.4" y="68.6" text-anchor="middle" font-size="15" fill="#58595b" >+1</text><text x="954.8" y="49.6" text-anchor="middle" font-size="15" fill="#58595b" >−2</text><rect x="946.3" y="52.6" width="17" height="3" fill="#8a8a8a"/><text x="954.8" y="68.6" text-anchor="middle" font-size="15" fill="#58595b" >+4/3</text><text x="990.9" y="49.6" text-anchor="middle" font-size="15" fill="#58595b" >−2</text><rect x="982.4" y="52.6" width="17" height="3" fill="#8a8a8a"/><text x="990.9" y="68.6" text-anchor="middle" font-size="15" fill="#58595b" >+5/3</text><path d="M787.1 75.5 H997.4" stroke="#b9b9b9" stroke-width="1" fill="none"/><path d="M787.1 75.5 V351.1 H997.4" stroke="#7d7d7d" stroke-width="1.2" fill="none"/><path d="M997.4 75.5 V351.1" stroke="#8fbfcf" stroke-width="1.2" fill="none"/><path d="M787.1 75.5h-6M787.1 106.1h-3.5M787.1 136.7h-3.5M787.1 167.4h-6M787.1 198h-3.5M787.1 228.6h-3.5M787.1 259.2h-6M787.1 289.9h-3.5M787.1 320.5h-3.5M787.1 351.1h-6M820.3 351.1v6M853.7 351.1v3.5M887 351.1v3.5M920.4 351.1v6M953.8 351.1v3.5M987.1 351.1v3.5" stroke="#7d7d7d" stroke-width="1" fill="none"/><path d="M997.4 351.1h6M997.4 240.3h6M997.4 129.5h6" stroke="#5aa0c8" stroke-width="1" fill="none"/><text x="775.1" y="80.5" text-anchor="end" font-size="14.5" fill="#58595b" >0</text><text x="775.1" y="172.4" text-anchor="end" font-size="14.5" fill="#58595b" >−1</text><text x="775.1" y="264.2" text-anchor="end" font-size="14.5" fill="#58595b" >−2</text><text x="775.1" y="356.1" text-anchor="end" font-size="14.5" fill="#58595b" >−3</text><text x="1008.4" y="356.1" text-anchor="start" font-size="14.5" fill="#2d86b8" >0</text><text x="1008.4" y="245.3" text-anchor="start" font-size="14.5" fill="#2d86b8" >10</text><text x="1008.4" y="134.5" text-anchor="start" font-size="14.5" fill="#2d86b8" >20</text><text x="818.3" y="375.5" text-anchor="middle" font-size="14.5" fill="#58595b" >−2</text><text x="918.4" y="375.5" text-anchor="middle" font-size="14.5" fill="#58595b" >−1</text><text x="881.5" y="396.5" font-size="14" fill="#58595b"><tspan font-family="Liberation Serif, serif" font-style="italic" font-size="17">ν</tspan><tspan dy="3.5" font-size="11.5">tot</tspan></text><text transform="translate(744.6 213.5) rotate(-90)" text-anchor="middle" font-size="14.5" fill="#58595b"><tspan font-style="italic">R</tspan><tspan font-style="italic" dy="3.5" font-size="10">xy</tspan><tspan dy="-9" dx="-8" font-size="10">−1</tspan><tspan dy="5.5" dx="2">(</tspan><tspan font-style="italic">e</tspan><tspan dy="-5" font-size="10">2</tspan><tspan dy="5">/</tspan><tspan font-style="italic">h</tspan>)</text><text transform="translate(1040 213) rotate(90)" text-anchor="middle" font-size="14.5" fill="#2d86b8"><tspan font-style="italic">R</tspan><tspan font-style="italic" dy="3.5" font-size="10">xx</tspan><tspan dy="-3.5"> (kΩ)</tspan></text><path d="M854.7 226V341" stroke="#222" stroke-width="1" stroke-dasharray="1.6 1.6" fill="none"/><path d="M886.3 196.7V338" stroke="#222" stroke-width="1" stroke-dasharray="1.6 1.6" fill="none"/><path d="M953.7 138V290.5" stroke="#222" stroke-width="1" stroke-dasharray="1.6 1.6" fill="none"/><path d="M986 108V152" stroke="#222" stroke-width="1" stroke-dasharray="1.6 1.6" fill="none"/><path d="M787.9 346.9 789 346.2 790 345.5 791.1 344.8 792.2 344.3 793.4 343.9 794.7 343.7 795.9 343.5 797.2 343.5 798.4 343.7 799.6 344.2 800.8 344.8 801.9 345.5 802.9 346.3 803.9 347.1 804.8 347.9 805.8 348.6 806.7 349.4 807.8 349.9 808.9 350.2 810.1 350.2 811.3 350.3 812.5 350.3 813.7 350.3 814.9 350.3 816.1 350.3 817.3 350.3 818.5 350.3 819.7 350.3 821 350.3 822.2 350.3 823.4 350.3 824.6 350.3 825.8 350.3 827 350.3 828.2 350.3 829.4 350.3 830.6 350.3 831.8 350.3 833 350.3 834.2 350.2 835.4 350.2 836.6 350 837.6 349.6 838.5 348.8 839.4 347.9 840.2 346.9 841 345.9 841.6 344.8 842.1 343.6 842.5 342.4 842.9 341.2 843.3 340 843.7 338.8 844.2 337.6 844.7 336.5 845.3 335.4 845.9 334.4 846.6 333.5 847.3 333 848.3 333.2 849.3 333.9 850.1 334.9 850.7 336 851.2 337.1 851.8 338.3 852.3 339.4 853 340.4 853.9 341.2 854.9 341.4 855.9 341 856.8 340.2 857.6 339.3 858.5 338.4 859.4 337.6 860.5 336.9 861.6 336.3 862.8 335.8 863.9 335.4 865.1 334.9 866.3 334.4 867.5 334 868.7 333.6 869.9 333.2 871.1 332.8 872.3 332.4 873.5 332 874.7 331.7 876 331.6 877.3 331.8 878.5 332 879.8 332.3 881 332.6 882.1 333.1 882.9 333.9 883.6 334.8 884.2 335.9 884.8 336.9 885.4 337.7 886 338.1 886.7 337.6 887.3 336.7 887.9 335.6 888.5 334.5 889.1 333.3 889.6 332.2 890 331 890.4 329.9 890.8 328.7 891.2 327.6 891.5 326.4 891.9 325.3 892.3 324.1 892.7 323 893.1 321.8 893.5 320.7 893.9 319.5 894.4 318.3 894.9 317.2 895.4 316 895.9 314.9 896.4 313.7 896.9 312.5 897.4 311.4 897.9 310.2 898.5 309.1 899 308 899.6 306.9 900.1 305.9 900.8 305.5 901.4 305.8 902.1 306.7 902.8 307.8 903.3 308.9 903.7 310 904.1 311.2 904.3 312.4 904.6 313.6 904.9 314.8 905.1 316.1 905.4 317.3 905.7 318.5 905.9 319.7 906.2 320.9 906.5 322.1 906.7 323.3 907 324.5 907.3 325.7 907.5 326.9 907.8 328.1 908.1 329.3 908.4 330.6 908.6 331.8 908.9 332.9 909.4 334 910.1 335 910.9 335.9 911.8 336.8 912.6 337.6 913.5 338.5 914.4 339.3 915.5 339.9 916.6 340.4 917.8 340.8 919 341.2 920.2 341.6 921.4 342 922.6 342.5 923.8 342.9 924.9 343.4 926.1 343.9 927.2 344.3 928.3 344.8 929.5 345.3 930.6 345.7 931.8 346 933.1 345.9 934.2 345.4 935.1 344.7 935.6 343.7 936 342.5 936.4 341.3 936.8 340.2 937.1 339 937.4 337.8 937.7 336.6 938 335.3 938.2 334.1 938.5 332.9 938.7 331.7 938.9 330.4 939.2 329.2 939.4 328 939.7 326.8 939.9 325.5 940.1 324.3 940.3 323.1 940.5 321.9 940.6 320.7 940.8 319.4 940.9 318.2 941.1 317 941.2 315.8 941.4 314.6 941.5 313.3 941.7 312.1 941.8 310.9 942 309.7 942.2 308.5 942.3 307.2 942.5 306 942.6 304.8 942.8 303.6 942.9 302.4 943 301.2 943.1 299.9 943.2 298.7 943.3 297.5 943.4 296.3 943.5 295.1 943.6 293.9 943.7 292.7 943.8 291.5 943.9 290.3 944 289.1 944.1 287.9 944.2 286.7 944.3 285.4 944.4 284.2 944.5 283 944.6 281.8 944.8 280.6 944.9 279.4 945 278.2 945.1 277 945.2 275.8 945.3 274.6 945.4 273.4 945.5 272.2 945.6 270.9 945.7 269.7 945.8 268.5 946.1 267.3 946.4 266.2 946.7 265 947.1 263.8 947.5 262.7 947.9 262 948.4 262 948.9 262.8 949.4 263.9 949.8 265.1 950.1 266.3 950.3 267.5 950.4 268.7 950.5 269.9 950.6 271.1 950.8 272.3 950.9 273.5 951 274.7 951.1 275.9 951.2 277.1 951.4 278.3 951.5 279.5 951.6 280.7 951.7 281.9 951.8 283 952 284.2 952.2 285.4 952.4 286.6 952.7 287.8 953 289 953.3 290 953.6 290.8 954 290.7 954.4 289.9 954.8 288.8 955.2 287.5 955.6 286.3 955.8 285 956 283.8 956.2 282.6 956.4 281.4 956.6 280.1 956.8 278.9 957 277.7 957.2 276.5 957.4 275.3 957.6 274 957.7 272.8 957.9 271.6 958.1 270.4 958.3 269.2 958.5 267.9 958.7 266.7 958.9 265.5 959 264.3 959.2 263.1 959.4 261.9 959.6 260.7 959.8 259.5 959.9 258.3 960.1 257.1 960.3 255.9 960.5 254.7 960.7 253.5 960.8 252.3 961 251.1 961.2 249.9 961.4 248.7 961.6 247.5 961.7 246.3 961.9 245.1 962.1 243.9 962.3 242.7 962.5 241.5 962.6 240.3 962.8 239.1 963 237.9 963.2 236.7 963.3 235.5 963.5 234.4 963.7 233.2 963.8 232 964 230.8 964.2 229.6 964.3 228.4 964.5 227.2 964.7 226 964.9 224.8 965 223.6 965.2 222.4 965.4 221.2 965.5 219.9 965.6 218.6 965.6 217.3 965.8 216.1 965.9 214.9 966.1 213.7 966.2 212.5 966.4 211.3 966.5 210.1 966.7 208.9 966.8 207.7 967 206.5 967.1 205.2 967.3 204 967.4 202.8 967.6 201.6 967.7 200.4 967.9 199.2 968 198 968.2 196.8 968.3 195.6 968.5 194.4 968.6 193.2 968.8 192 968.9 190.8 969.1 189.6 969.2 188.4 969.4 187.2 969.5 186 969.7 184.8 969.8 183.6 970 182.4 970.1 181.2 970.3 180 970.4 178.8 970.6 177.6 970.7 176.4 970.9 175.2 971 174 971.2 172.8 971.3 171.6 971.5 170.4 971.6 169.2 971.8 168 971.9 166.8 972.1 165.6 972.2 164.4 972.4 163.1 972.5 161.9 972.7 160.7 972.8 159.5 973 158.3 973.1 157.1 973.3 155.9 973.4 154.7 973.6 153.5 973.7 152.3 973.9 151.1 974 149.9 974.2 148.7 974.3 147.5 974.5 146.3 974.6 145.1 974.8 143.9 974.9 142.7 975.1 141.5 975.2 140.3 975.4 139.1 975.5 137.9 975.7 136.7 975.8 135.5 976 134.3 976.1 133.1 976.3 131.9 976.4 130.7 976.6 129.5 976.7 128.3 976.9 127.1 977 125.9 977.1 124.6 977.2 123.4 977.3 122.2 977.4 121 977.5 119.8 977.6 118.6 977.7 117.4 977.8 116.2 977.9 115 978.1 113.8 978.2 112.6 978.3 111.4 978.4 110.1 978.5 108.9 978.6 107.7 978.7 106.5 978.8 105.3 978.9 104.1 979.1 102.9 979.3 101.7 979.7 100.5 980.1 99.5 980.4 99.1 980.7 99.6 981 100.6 981.3 101.9 981.5 103.2 981.7 104.5 981.9 105.7 982 106.9 982 108.1 982.1 109.3 982.1 110.5 982.2 111.7 982.2 112.9 982.3 114.1 982.3 115.3 982.4 116.5 982.4 117.7 982.5 118.9 982.6 120.1 982.6 121.3 982.7 122.6 982.7 123.8 982.8 125 982.8 126.2 982.9 127.4 982.9 128.6 983 129.8 983 131 983.1 132.2 983.1 133.4 983.2 134.6 983.2 135.8 983.3 137 983.3 138.2 983.4 139.4 983.4 140.6 983.5 141.8 983.6 143 983.6 144.2 983.7 145.4 983.7 146.6 983.8 147.8 983.8 149 983.9 150.2 984 151.4 984.2 152.7 984.4 153.9 984.5 155.1 984.7 156.4 984.9 157.6 985 158.7 985.2 159.5 985.4 159.5 985.5 158.7 985.7 157.6 985.9 156.4 986 155.1 986.2 153.9 986.4 152.7 986.5 151.4 986.6 150.2 986.7 149 986.7 147.8 986.8 146.6 986.8 145.4 986.8 144.2 986.8 143 986.8 141.8 986.9 140.6 986.9 139.4 986.9 138.2 986.9 137 987 135.8 987 134.6 987 133.3 987 132.1 987.1 130.9 987.1 129.7 987.1 128.5 987.1 127.3 987.1 126.1 987.2 124.9 987.2 123.7 987.2 122.5 987.2 121.3 987.3 120.1 987.3 118.9 987.3 117.7 987.3 116.5 987.3 115.3 987.4 114.1 987.4 112.9 987.4 111.7 987.4 110.5 987.5 109.2 987.5 108 987.5 106.8 987.5 105.6 987.6 104.4 987.6 103.2 987.6 102 987.6 100.8 987.6 99.6 987.7 98.4 987.7 97.2 987.7 96 987.7 94.8 987.8 93.6 987.8 92.4 987.8 91.2 987.8 90 987.8 88.8 987.9 87.6 987.9 86.4 987.9 85.1 987.9 83.9 988 82.7 988 81.5 988 80.3 988 79.1 988.1 77.9 988.1 76.7 988.1 75.5" stroke="#1b75bb" stroke-width="2.3" fill="none" stroke-linejoin="round"/><path d="M997.4 93.8 996.8 94.9 996.1 95.9 995.5 97 994.9 98.1 994.2 99.1 993.6 100.2 992.9 101.2 992.1 102.2 991.3 103.2 990.4 104.1 989.5 105 988.4 105.9 987.4 106.6 986.2 107.1 985 107.6 983.8 108.1 982.6 108.7 981.6 109.4 980.6 110.1 979.6 110.9 978.7 111.8 977.8 112.6 976.9 113.5 976 114.4 975.1 115.2 974.3 116.1 973.4 117 972.5 117.9 971.6 118.8 970.8 119.7 970 120.6 969.2 121.6 968.4 122.5 967.6 123.4 966.8 124.4 965.9 125.3 965.1 126.3 964.3 127.2 963.5 128.1 962.7 129.1 961.9 130 961.1 130.9 960.3 131.9 959.5 132.8 958.7 133.7 957.8 134.6 956.8 135.3 955.8 136 954.7 136.7 953.6 137.4 952.5 138.1 951.6 138.9 950.7 139.7 949.8 140.6 949 141.5 948.3 142.5 947.7 143.6 947.2 144.7 946.7 145.8 946.2 147 945.8 148.1 945.3 149.3 944.8 150.4 944.3 151.6 943.7 152.7 943.1 153.8 942.4 154.9 941.8 156 941.2 157 940.5 158.1 939.9 159.2 939.3 160.3 938.7 161.4 938.1 162.5 937.4 163.5 936.8 164.5 936 165.3 935.1 165.9 934 166.2 932.9 166.3 931.7 166.3 930.5 166.3 929.3 166.3 928 166.4 926.8 166.4 925.6 166.4 924.4 166.4 923.2 166.4 922 166.4 920.7 166.4 919.5 166.4 918.3 166.4 917.1 166.5 915.9 166.5 914.7 166.5 913.4 166.5 912.2 166.5 911 166.5 909.8 166.5 908.6 166.5 907.4 166.6 906.2 166.8 905.1 167.1 904.2 167.7 903.3 168.5 902.4 169.5 901.6 170.4 900.9 171.4 900.2 172.5 899.6 173.5 899.1 174.6 898.5 175.7 898 176.8 897.4 177.9 896.9 179 896.4 180 895.8 181.1 895.3 182.2 894.7 183.3 894.2 184.4 893.6 185.4 892.9 186.5 892.2 187.6 891.5 188.6 890.8 189.7 890.1 190.7 889.4 191.8 888.7 192.8 887.9 193.7 887 194.6 886.1 195.3 885 195.8 883.9 196.2 882.8 196.5 881.7 196.9 880.6 197.5 879.7 198.2 878.7 199 877.8 199.9 877 200.7 876.1 201.6 875.2 202.5 874.3 203.4 873.4 204.3 872.6 205.2 871.7 206.1 870.9 207 870.1 207.9 869.3 208.8 868.5 209.7 867.7 210.6 866.9 211.5 866.1 212.4 865.3 213.3 864.5 214.3 863.6 215.2 862.8 216.1 862 217 861.3 217.9 860.5 218.8 859.7 219.8 859 220.7 858.2 221.6 857.5 222.6 856.7 223.5 855.9 224.4 855 225.2 854 225.9 853.1 226.6 852.1 227.3 851.1 228 850.1 228.8 849.2 229.6 848.4 230.5 847.6 231.6 847 232.8 846.5 234 846 235.1 845.6 236.3 845.1 237.5 844.7 238.7 844.4 239.9 844 241.1 843.7 242.3 843.3 243.5 843 244.7 842.5 245.9 842 247.1 841.5 248.2 840.9 249.3 840.4 250.4 839.8 251.6 839.2 252.7 838.7 253.8 838 254.9 837.3 255.8 836.4 256.4 835.4 256.9 834.2 257.2 833 257.4 831.8 257.4 830.6 257.5 829.4 257.5 828.1 257.5 826.9 257.5 825.7 257.5 824.5 257.5 823.2 257.5 822 257.5 820.8 257.5 819.6 257.5 818.3 257.5 817.1 257.5 815.9 257.5 814.6 257.5 813.4 257.5 812.2 257.5 811 257.5 809.7 257.5 808.5 257.5 807.3 257.5 806.1 257.6 805 257.9 803.9 258.3 802.8 258.9 801.8 259.6 800.9 260.3 800 261.1 799.3 262 798.6 263.1 798 264.1 797.4 265.2 796.8 266.2 796.2 267.3 795.6 268.4 795 269.5 794.5 270.5 793.9 271.6 793.3 272.7 792.7 273.7 792.1 274.8 791.5 275.9 790.9 276.9 790.3 278 789.7 279.1 789.1 280.1 788.5 281.2" stroke="#1a1a1a" stroke-width="2.1" fill="none" stroke-linejoin="round"/></g>
<g id="pd"><text transform="translate(23.0 446.5) scale(0.97 1)" font-size="29.5" font-weight="bold" fill="#000">d</text><defs><linearGradient id="cbd" x1="0" x2="1" y1="0" y2="0"><stop offset="0" stop-color="#2d2a7c"/><stop offset="0.2" stop-color="#3a55a8"/><stop offset="0.36" stop-color="#6f86c4"/><stop offset="0.47" stop-color="#ffffff"/><stop offset="0.52" stop-color="#ffffff"/><stop offset="0.62" stop-color="#f4a19c"/><stop offset="0.8" stop-color="#ea2c2a"/><stop offset="1" stop-color="#7c1216"/></linearGradient></defs><rect x="237" y="474.9" width="97.1" height="8.1" fill="url(#cbd)"/><text x="291.5" y="444" text-anchor="middle" font-size="18.5" fill="#3c3c3c"><tspan font-style="italic">R</tspan><tspan font-style="italic" dy="5" font-size="13.5">xx</tspan><tspan dy="-5"> (kΩ)</tspan></text><text x="243" y="471.5" text-anchor="middle" font-size="13" fill="#3c3c3c">10<tspan dy="-5" font-size="8.5">−3</tspan></text><text x="273.5" y="471.5" text-anchor="middle" font-size="13" fill="#3c3c3c">10<tspan dy="-5" font-size="8.5">0</tspan></text><text x="305" y="471.5" text-anchor="middle" font-size="13" fill="#3c3c3c">10<tspan dy="-5" font-size="8.5">3</tspan></text><text x="334.5" y="471.5" text-anchor="middle" font-size="13" fill="#3c3c3c">10<tspan dy="-5" font-size="8.5">6</tspan></text><defs><clipPath id="cd"><rect x="64.4" y="489.2" width="270.6" height="315.7"/></clipPath><filter id="bd0" x="-20%" y="-20%" width="140%" height="140%"><feGaussianBlur stdDeviation="0.8"/></filter><filter id="bd1" x="-20%" y="-20%" width="140%" height="140%"><feGaussianBlur stdDeviation="1.5"/></filter><filter id="bd2" x="-30%" y="-30%" width="160%" height="160%"><feGaussianBlur stdDeviation="3"/></filter><filter id="bd3" x="-40%" y="-40%" width="180%" height="180%"><feGaussianBlur stdDeviation="6"/></filter><linearGradient id="gdc1" x1="0" x2="0" y1="0" y2="1"><stop offset="0" stop-color="#fff" stop-opacity="0"/><stop offset="0.12" stop-color="#fbd3cf"/><stop offset="1" stop-color="#f9c4c0"/></linearGradient><linearGradient id="gdc2" x1="0" x2="0" y1="0" y2="1"><stop offset="0" stop-color="#f7a8a3" stop-opacity="0"/><stop offset="0.1" stop-color="#f48680"/><stop offset="0.28" stop-color="#ee2d2a"/><stop offset="1" stop-color="#ee2d2a"/></linearGradient><linearGradient id="gdw" gradientUnits="userSpaceOnUse" x1="0" x2="0" y1="489" y2="645"><stop offset="0" stop-color="#ee2d2a"/><stop offset="0.45" stop-color="#ee3a36"/><stop offset="0.75" stop-color="#f0605c"/><stop offset="1" stop-color="#f38a86"/></linearGradient></defs><g clip-path="url(#cd)"><rect x="63.400000000000006" y="488.2" width="272.6" height="317.7" fill="#2d2a7c"/><g filter="url(#bd0)"><path d="M60 515 L64.4 523 L129 650 L143 670 L170.4 719 L197 779 L199 810 L60 810Z" fill="#3c5aaa"/><path d="M62 535 L62 575 L197 779.6 L197 778.4Z" fill="#ffffff" opacity="0.55" filter="url(#bd2)"/><path d="M62 590 L62 612 L197 779.6 L197 778.4Z" fill="#ffffff" opacity="0.5" filter="url(#bd2)"/><path d="M62 618 L62 640 L197 779.6 L197 778.4Z" fill="#ffffff" opacity="0.6" filter="url(#bd2)"/><path d="M62 660 L62 690 L197 779.6 L197 778.4Z" fill="#ffffff" opacity="0.65" filter="url(#bd2)"/><path d="M62 700 L62 716 L197 779.6 L197 778.4Z" fill="#ffffff" opacity="0.6" filter="url(#bd1)"/><path d="M62 726 L62 742 L197 779.6 L197 778.4Z" fill="#ffffff" opacity="0.6" filter="url(#bd1)"/><path d="M62 752 L62 772 L197 779.6 L197 778.4Z" fill="#ffffff" opacity="0.55" filter="url(#bd2)"/><ellipse cx="72" cy="565" rx="6" ry="20" fill="#ffffff" opacity="0.6" filter="url(#bd2)" transform="rotate(-22 72 565)"/><ellipse cx="92" cy="640" rx="10" ry="4" fill="#ffffff" opacity="0.5" filter="url(#bd2)" transform="rotate(10 92 640)"/><ellipse cx="100" cy="668" rx="12" ry="5" fill="#ffffff" opacity="0.5" filter="url(#bd2)" transform="rotate(25 100 668)"/><ellipse cx="146.5" cy="700" rx="11" ry="14" fill="#ffffff" opacity="0.95" filter="url(#bd2)" transform="rotate(0 146.5 700)"/><ellipse cx="133" cy="731" rx="6.5" ry="6.5" fill="#ffffff" opacity="0.95" filter="url(#bd2)" transform="rotate(0 133 731)"/><ellipse cx="150" cy="749" rx="5.5" ry="5.5" fill="#ffffff" opacity="0.9" filter="url(#bd2)" transform="rotate(0 150 749)"/><ellipse cx="164" cy="733" rx="8" ry="10" fill="#ffffff" opacity="0.9" filter="url(#bd2)" transform="rotate(0 164 733)"/><ellipse cx="94" cy="768" rx="9" ry="26" fill="#ffffff" opacity="0.95" filter="url(#bd2)" transform="rotate(-16 94 768)"/><ellipse cx="102.5" cy="791" rx="6.5" ry="6.5" fill="#ffffff" opacity="0.95" filter="url(#bd2)" transform="rotate(0 102.5 791)"/><ellipse cx="120" cy="690" rx="12" ry="8" fill="#ffffff" opacity="0.5" filter="url(#bd2)" transform="rotate(30 120 690)"/><ellipse cx="118" cy="728" rx="10" ry="6" fill="#ffffff" opacity="0.5" filter="url(#bd2)" transform="rotate(30 118 728)"/><path d="M64.4 523 L129 650 L143 670 L170.4 719 L197 779 L160 715 L132 668 L118 648 L64.4 543Z" fill="#3c5aaa" opacity="0.85" filter="url(#bd1)"/><path d="M60 641 L64 644 L197 779 L194 781 L60 657Z" fill="#2d2a7c" opacity="0.95"/><path d="M62 694 L62 699 L197 779.6 L197 778.4Z" fill="#3548a0" opacity="0.8" filter="url(#bd0)"/><path d="M62 719 L62 724 L197 779.6 L197 778.4Z" fill="#3548a0" opacity="0.7" filter="url(#bd0)"/><path d="M62 745 L62 750 L197 779.6 L197 778.4Z" fill="#3a50a6" opacity="0.6" filter="url(#bd0)"/><path d="M82 695 L92 698 L143 758 L197 780 L139 763Z" fill="#3548a0" opacity="0.6"/><path d="M100 655 L150 720 L197 779 L146 726 L96 664Z" fill="#3548a0" opacity="0.5"/><ellipse cx="146.5" cy="699" rx="4.6" ry="9" fill="#f59a96" opacity="1" filter="url(#bd0)" transform="rotate(8 146.5 699)"/><ellipse cx="164.2" cy="733" rx="3.6" ry="6" fill="#f59a96" opacity="1" filter="url(#bd0)"/><path d="M85.6 742.5 L89.6 742.5 L100.4 778 L99.4 787 L94.5 785 L87.6 758Z" fill="#f7b3ae" opacity="1" filter="url(#bd0)"/><path d="M76 812 L84 794 L110 787 L150 788 L185 792 L192 812Z" fill="#4463b3" opacity="1" filter="url(#bd3)"/><path d="M60 760 L70 775 L78 810 L60 810Z" fill="#ffffff" opacity="0.7" filter="url(#bd2)"/><path d="M127 640 L165 640 L190 720 L198 780 L170 719 L143 670Z" fill="#2d2a7c"/><path d="M138.8 614 L143 617 L157 650 L175 700 L197 776 L168 708 L150 664Z" fill="#3c5aaa"/><path d="M152.6 590 L159 594 L178.3 637.7 L184 665 L192 720 L197 770 L186 730 L174 690 L162.5 640Z" fill="#3c5aaa"/><path d="M176 690 L184 700 L196 765 L190 750Z" fill="#32409a" opacity="0.8"/><path d="M113.2 513.5 L115.2 513.5 L152.6 598.3 L150.6 598.3Z" fill="#3238a0" opacity="0.6"/><path d="M142.8 486 L152.6 486 L180.2 578.6 L196 637.7 L200 660 L192 655 L190 637.7 L172.4 578.6Z" fill="#3c5aaa"/><path d="M174.3 486 L194 486 L206 558.8 L210 598 L212 655 L204 650 L198 578.6Z" fill="#3c5aaa"/><path d="M190 486 L196 486 L207.7 558.8 L223.5 637.7 L226 655 L216 650 L201.8 578.6 L190 515Z" fill="#3c5aaa"/><path d="M171 632 L176 636 L186 652 L200 658 L214 657 L228 661 L229 680 L220 708 L218 740 L219 810 L196 810 L197 785 L195.5 740 L186 705 L176 668 L170 644Z" fill="#ffffff" opacity="1" filter="url(#bd1)"/><ellipse cx="180" cy="662" rx="8" ry="12" fill="#ffffff" opacity="0.9" filter="url(#bd2)" transform="rotate(-15 180 662)"/><ellipse cx="228" cy="671" rx="3" ry="8" fill="#f7b0aa" opacity="0.9" filter="url(#bd0)"/><ellipse cx="188" cy="650" rx="6" ry="5" fill="#b9c0e6" opacity="0.6" filter="url(#bd2)"/><ellipse cx="205" cy="668" rx="9" ry="5" fill="#c8cdec" opacity="0.55" filter="url(#bd2)"/><ellipse cx="192" cy="682" rx="5" ry="7" fill="#c8cdec" opacity="0.5" filter="url(#bd2)"/><ellipse cx="216" cy="652" rx="5" ry="4" fill="#aab4e0" opacity="0.5" filter="url(#bd2)"/><path d="M180 800 L196 770 L219 770 L240 805 L240 810 L180 810Z" fill="#ffffff" opacity="0.7" filter="url(#bd2)"/><path d="M194.3 486 L258.5 486 L256 520 L243.5 578.6 L234 630 L230.5 657 L227 657 L224 630 L209.7 558.8Z" fill="#ffffff"/><path d="M199.5 486 L253 486 L251 520 L239 578.6 L231 630 L229 648 L227 630 L213.3 558.8Z" fill="#f9cbc7"/><path d="M205 486 L248 486 L246 520 L236 578.6 L230 630 L228.5 640 L227.5 630 L216 558.8Z" fill="#f5a8a2" opacity="1" filter="url(#bd1)"/><path d="M224.5 480 L239.5 480 L238 539 L234.5 598 L230.5 648 L228 648 L226.5 598 L224.8 539Z" fill="#f2706c" opacity="1" filter="url(#bd1)"/><path d="M227.3 480 L237 480 L235.8 539 L232.5 598 L230 640 L228.7 640 L228 598 L227 539Z" fill="url(#gdw)" filter="url(#bd0)"/><path d="M212 486 L226.5 486 L224.3 512Z" fill="#ffffff"/><path d="M214.6 486 L225.5 486 L223.5 506Z" fill="#3a50a8"/><rect x="196.5" y="684" width="22" height="130" fill="url(#gdc1)" filter="url(#bd1)"/><rect x="200.8" y="688" width="13.6" height="126" fill="url(#gdc2)" filter="url(#bd1)"/><path d="M225 779 L248.3 756.8 L281.7 723.4 L306.8 698.4 L334.6 672.7 L340 667 L340 810 L219 810Z" fill="#4160b0"/><path d="M288.6 486 L318 486 L300.4 558.8 L288.6 587 L265 640 L255 680 L246 720 L229.4 779 L223.5 779 L231 740 L240 700 L249 640 L262 600 L272.8 558.8Z" fill="#3c5aaa"/><path d="M297 486 L310 486 L292 560 L270 620 L255 660 L262 620 L282 560Z" fill="#4d6cba" opacity="0.7" filter="url(#bd1)"/><path d="M340 560 L333 571.6 L306.4 617.4 L288.7 640 L278 663 L267.8 681.7 L248.3 723.4 L224.5 778 L225 779 L241 766 L263.6 737.4 L276.2 717.9 L287.3 695.6 L301.2 667.8 L317.9 640 L335 612 L340 605Z" fill="#3c5aaa"/><path d="M340 712 L335 714 L290 742 L249 768 L290 745 L340 716Z" fill="#34409c" opacity="0.75"/><path d="M340 740 L335 742 L288.6 762 L249 772Z" fill="#3850a4" opacity="0.5"/><ellipse cx="270.5" cy="692" rx="5.5" ry="24" fill="#ffffff" opacity="0.75" filter="url(#bd2)" transform="rotate(24 270.5 692)"/><ellipse cx="258" cy="722" rx="4" ry="14" fill="#ffffff" opacity="0.4" filter="url(#bd2)" transform="rotate(30 258 722)"/><ellipse cx="286.7" cy="731" rx="5" ry="18" fill="#ffffff" opacity="0.4" filter="url(#bd2)" transform="rotate(48 286.7 731)"/><ellipse cx="306" cy="600" rx="6" ry="30" fill="#5a78c4" opacity="0.5" filter="url(#bd2)" transform="rotate(28 306 600)"/><path d="M219 810 L222 790 L232 782 L250 800 L262 810Z" fill="#ffffff" opacity="0.5" filter="url(#bd2)"/></g></g><rect x="65.1" y="489.7" width="269" height="314.8" fill="none" stroke="#2e2e33" stroke-width="2.1"/><path d="M64.4 804.9h5M64.4 752.3h5M64.4 699.7h5M64.4 647h5M64.4 594.4h5M64.4 541.8h5M64.4 489.2h5M64.4 804.9v-4M132.1 804.9v-4M199.7 804.9v-4M267.4 804.9v-4M335 804.9v-4" stroke="#222" stroke-width="1.2" fill="none"/><text x="57.9" y="806.1" text-anchor="end" font-size="17.5" fill="#3c3c3c">0</text><text x="57.9" y="758.5" text-anchor="end" font-size="17.5" fill="#3c3c3c">5</text><text x="57.9" y="705.9" text-anchor="end" font-size="17.5" fill="#3c3c3c">10</text><text x="57.9" y="653.2" text-anchor="end" font-size="17.5" fill="#3c3c3c">15</text><text x="57.9" y="600.6" text-anchor="end" font-size="17.5" fill="#3c3c3c">20</text><text x="57.9" y="548" text-anchor="end" font-size="17.5" fill="#3c3c3c">25</text><text x="57.9" y="495.4" text-anchor="end" font-size="17.5" fill="#3c3c3c">30</text><text x="59.9" y="824.3" text-anchor="middle" font-size="17.5" fill="#3c3c3c">−40</text><text x="128.6" y="824.3" text-anchor="middle" font-size="17.5" fill="#3c3c3c">−20</text><text x="199.7" y="824.3" text-anchor="middle" font-size="17.5" fill="#3c3c3c">0</text><text x="267.4" y="824.3" text-anchor="middle" font-size="17.5" fill="#3c3c3c">20</text><text x="331.8" y="824.3" text-anchor="middle" font-size="17.5" fill="#3c3c3c">40</text><text x="200.5" y="851" text-anchor="middle" font-size="17.5" fill="#3c3c3c"><tspan font-style="italic">V</tspan><tspan dy="4.5" font-size="13">g</tspan><tspan dy="-4.5"> (V)</tspan></text><text transform="translate(24 647) rotate(-90)" text-anchor="middle" font-size="17.5" fill="#3c3c3c"><tspan font-style="italic">B</tspan> (T)</text></g>
<g id="pe"><text transform="translate(359.5 444.0) scale(0.97 1)" font-size="29.5" font-weight="bold" fill="#000">e</text><defs><linearGradient id="cbe" x1="0" x2="1" y1="0" y2="0"><stop offset="0" stop-color="#2d2a7c"/><stop offset="0.2" stop-color="#3a55a8"/><stop offset="0.36" stop-color="#6f86c4"/><stop offset="0.47" stop-color="#ffffff"/><stop offset="0.52" stop-color="#ffffff"/><stop offset="0.62" stop-color="#f4a19c"/><stop offset="0.8" stop-color="#ea2c2a"/><stop offset="1" stop-color="#7c1216"/></linearGradient></defs><rect x="548.9" y="474.9" width="74.6" height="7.6" fill="url(#cbe)"/><text x="588.5" y="444" text-anchor="middle" font-size="18.5" fill="#3c3c3c">|<tspan font-style="italic" dx="2">R</tspan><tspan font-style="italic" dy="5" font-size="13.5">xy</tspan><tspan dy="-5" dx="3">|</tspan><tspan dx="4"> (kΩ)</tspan></text><text x="552.6" y="471" text-anchor="middle" font-size="14" fill="#3c3c3c">0</text><text x="587.4" y="471" text-anchor="middle" font-size="14" fill="#3c3c3c">10</text><text x="618" y="471" text-anchor="middle" font-size="14" fill="#3c3c3c">20</text><text x="380.4" y="482" text-anchor="middle" font-size="17.5" fill="#e9a43e">−4</text><text x="409.9" y="482" text-anchor="middle" font-size="17.5" fill="#d83b33">−4</text><text x="445.3" y="482" text-anchor="middle" font-size="17.5" fill="#d83b33">−3</text><text x="472.5" y="482" text-anchor="middle" font-size="17.5" fill="#d83b33">−2</text><text x="506.9" y="482" text-anchor="middle" font-size="17.5" fill="#d83b33">−1</text><defs><clipPath id="ce"><rect x="354.4" y="489.4" width="269.9" height="315.5"/></clipPath><filter id="be0" x="-20%" y="-20%" width="140%" height="140%"><feGaussianBlur stdDeviation="0.7"/></filter><filter id="be1" x="-20%" y="-20%" width="140%" height="140%"><feGaussianBlur stdDeviation="1.2"/></filter><filter id="be2" x="-30%" y="-30%" width="160%" height="160%"><feGaussianBlur stdDeviation="3"/></filter><filter id="be3" x="-40%" y="-40%" width="180%" height="180%"><feGaussianBlur stdDeviation="6"/></filter></defs><g clip-path="url(#ce)"><rect x="353.4" y="488.4" width="271.9" height="317.5" fill="#3553ab"/><g filter="url(#be0)"><path d="M350 690 L400 700 L450 740 L490 810 L350 810Z" fill="#2f3a9c" opacity="0.85" filter="url(#be3)"/><path d="M350 760 L470 780 L490 812 L350 812Z" fill="#2c3294" opacity="0.7" filter="url(#be3)"/><path d="M530 760 L580 720 L630 680 L630 810 L505 810Z" fill="#2c3698" opacity="0.9" filter="url(#be3)"/><path d="M350 485 L438.7 485 L448.6 519.4 L460.4 558.8 L476.2 598.3 L488 637 L486 648 L468 652 L465 690 L478 740 L490 790 L494.5 803.5 L492 800 L466.9 752.8 L444.3 707.7 L410.5 640 L389.4 606 L369.7 568.7 L354 545 L350 540Z" fill="#b0b0da"/><path d="M369 489.4 L385 489.4 L495 803.5 L494 803.5Z" fill="#8080ab" opacity="0.8" filter="url(#be1)"/><path d="M394 489.4 L410 489.4 L495 803.5 L494 803.5Z" fill="#8080ab" opacity="0.8" filter="url(#be1)"/><path d="M419 489.4 L433 489.4 L495 803.5 L494 803.5Z" fill="#8080ab" opacity="0.8" filter="url(#be1)"/><path d="M340 489.4 L352 489.4 L495 803.5 L494 803.5Z" fill="#8080ab" opacity="0.35" filter="url(#be1)"/><path d="M350 552 L356 554 L369 577 L387 614 L408 647 L441 712 L464 758 L489 806 L350 806Z" fill="#3553ab" opacity="1" filter="url(#be1)"/><path d="M354 528 L360 536 L368 552 L374 570 L368 570 L360 556 L354 548Z" fill="#ffffff" opacity="0.8" filter="url(#be2)"/><path d="M376 576 L392 606 L410 636 L404 638 L386 612 L372 584Z" fill="#ffffff" opacity="0.3" filter="url(#be2)"/><path d="M400 622 L418 640 L432 658 L426 660 L410 645Z" fill="#ffffff" opacity="0.5" filter="url(#be2)"/><path d="M356 540 L372 552 L392 590 L414 630 L432 660 L422 662 L398 632 L376 598 L358 562Z" fill="#ffffff" opacity="0.45" filter="url(#be2)"/><path d="M370 610 L395 625 L416 645 L410 650 L390 640 L372 626Z" fill="#ffffff" opacity="0.45" filter="url(#be2)"/><path d="M412 640 L427 640 L456 708 L478 760 L470 757 L446 710Z" fill="#d6d8f0" opacity="0.7" filter="url(#be1)"/><path d="M436.5 485 L441.8 485 L452 515 L466 560 L480.5 605 L492 641 L486 641 L474.5 600 L459 558.8 L447 519.4Z" fill="#ffffff" opacity="1" filter="url(#be0)"/><path d="M439.5 485 L472 485 L481 545 L489 600 L494 641 L490 641 L478 602 L462.5 559 L450 518Z" fill="#f2a29e" opacity="1" filter="url(#be0)"/><path d="M456 485 L472 485 L481 545 L489 600 L494 641 L488 620 L476 570 L466 525Z" fill="#e58f90" opacity="0.9" filter="url(#be1)"/><path d="M470 560 L481 560 L489 600 L494 641 L491 641 L482 606Z" fill="#c99aa8" opacity="0.9" filter="url(#be1)"/><path d="M471.5 485 L520.4 485 L521.4 519.4 L517.5 547 L511.5 562.8 L509.6 598.3 L513.5 627.8 L517.5 645 L516.5 652 L511.5 662 L501.7 664.5 L493 655 L489 641 L488 600 L480 545Z" fill="#e8262a"/><path d="M471 485 L478 485 L487 545 L495 600 L499 630 L490 610 L480 545Z" fill="#f0605c" opacity="0.8" filter="url(#be1)"/><path d="M497 485 L522 485 L522 515 L518.5 546 L514 540 L506 515Z" fill="#8f1519" opacity="1" filter="url(#be1)"/><path d="M490 485 L500 485 L510 525 L516 548 L504 530 L495 505Z" fill="#a0181c" opacity="0.8" filter="url(#be2)"/><path d="M487.5 636 L491.5 654 L501 666 L512 664.5 L518.5 652" fill="none" stroke="#fff" stroke-width="2.2" filter="url(#be0)"/><path d="M466 652 L488 650 L493 658 L501.7 667 L512 666 L518 655 L519.4 663.7 L515.5 689.3 L503.7 705 L500.7 728.7 L498.7 778 L497 798 L492 790 L478 740 L465 690Z" fill="#3350aa" opacity="1" filter="url(#be2)"/><path d="M464 640 L490 640 L492 655 L484 664 L474 668 L466 668Z" fill="#9ea4d8" opacity="0.9" filter="url(#be2)"/><path d="M484 640 L491 640 L494 657 L502 667 L498 669 L490 662 L485 652Z" fill="#ffffff" opacity="0.85" filter="url(#be1)"/><path d="M520.4 485 L521.4 519.4 L517.5 547 L511.5 562.8 L509.6 598.3 L513.5 627.8 L517.5 645 L516.5 652 L519.4 664 L520.4 650.1 L522.4 618 L524.4 582.5 L529.3 562.8 L537.2 539.1 L542.1 509.6 L543.1 485Z" fill="#eef0fa" opacity="1" filter="url(#be0)"/><path d="M522.4 485 L523.4 519 L519.8 547 L513.8 563.5 L511.8 598 L515.2 627 L517.8 650 L519 650 L520.8 618 L522.8 582 L527.6 562.5 L535.4 538.8 L540.4 509.5 L541.4 485Z" fill="#3a57ac" opacity="1" filter="url(#be0)"/><path d="M526.5 485 L540 485 L538 505 L533 515 L529 505Z" fill="#ffffff" opacity="1" filter="url(#be0)"/><path d="M529 485 L538 485 L536 503 L533 510 L530.5 503Z" fill="#e8262a" opacity="1" filter="url(#be0)"/><path d="M522 565 L529 565 L527 580 L524 585Z" fill="#d0d0dc" opacity="0.9" filter="url(#be1)"/><path d="M590 485 L626 485 L626 500 L600 560 L566 640 L545 690 L528 735 L512 775 L501 798 L509.6 770.1 L523.4 728.7 L539.1 679.4 L548 655 L558.8 629.8 L572.6 578.6 L582.5 529.3Z" fill="#a3aadb"/><path d="M600 485 L618 485 L585 580 L578 590 L588 545Z" fill="#c6caea" opacity="0.8" filter="url(#be2)"/><path d="M626 500 L626 575 L608 610 L590.4 650 L572 675 L560 696 L545 722 L529 742 L540.5 696 L560.8 650 L600 560Z" fill="#8080ab" opacity="1" filter="url(#be1)"/><path d="M626 568 L626 590 L610 625 L596 652 L590 648 L606 612Z" fill="#6a78b8" opacity="0.8" filter="url(#be2)"/><path d="M589.5 485 L584 529.3 L573.5 578.6 L559 629.8 L547.5 655 L538 679.4 L522 728.7 L508 770.1 L497.7 795.7 L501.7 795.7 L512.7 770.1 L527.4 728.7 L544.1 679.4 L554.2 655 L566.4 629.8 L581.6 578.6 L592.8 529.3 L599 485Z" fill="#ffffff" opacity="1" filter="url(#be1)"/><path d="M541.8 485 L540.9 510 L536 540 L528.1 563.5 L523.2 583 L521.2 618 L519.2 650 L518.2 664 L514.3 690 L502.5 706 L499.5 728.7 L497.5 778 L501.7 778 L503.7 728.7 L506.7 706 L518.5 690 L522.4 664 L523.4 650 L525.4 618 L527.4 583 L532.3 563.5 L540.2 540 L545.1 510 L546 485Z" fill="#ffffff" opacity="0.9" filter="url(#be0)"/><path d="M544 485 L543.1 510 L538.2 540 L530.3 563.5 L525.4 583 L523.4 618 L521.4 650 L520.4 664 L516.5 690 L504.7 706 L501.7 728.7 L499.7 778 L499.7 795.7 L510 770.1 L524 728.7 L540 679.4 L549.5 655 L561 629.8 L575.5 578.6 L586 529.3 L591.5 485Z" fill="#e8262a"/><path d="M544.5 485 L565 485 L560 510 L547 535 L542 540 L542.5 510Z" fill="#8f1519" opacity="0.8" filter="url(#be2)"/><path d="M525 600 L540 600 L532 650 L520 700 L518 660Z" fill="#b01c1e" opacity="0.5" filter="url(#be2)"/><path d="M463 684 L470 688 L481 704 L492 736 L498.5 764 L498.5 780 L494 789 L488 776 L477 740 L467 710Z" fill="#ffffff" opacity="1" filter="url(#be1)"/><path d="M468 692 L476 701 L489.5 737 L496 764 L495.5 779 L490 769 L480 740 L471 713Z" fill="#e8262a" opacity="1" filter="url(#be0)"/><path d="M466 690 L470 694 L478 716 L474 716 L468 702Z" fill="#f4a8a4" opacity="0.9" filter="url(#be1)"/></g><path d="M363.5 489.4L496 803.5" stroke="#ffffff" stroke-width="2.0" fill="none"/><path d="M354.4 644.6L494.5 803.5" stroke="#ffffff" stroke-width="2.0" fill="none"/><path d="M354.4 696.2L494.5 803.5" stroke="#ffffff" stroke-width="2.0" fill="none"/><path d="M565.3 489.4L494.5 803.5" stroke="#ffffff" stroke-width="2.0" fill="none"/><path d="M625 498.5L494.5 803.5" stroke="#ffffff" stroke-width="2.0" fill="none"/><path d="M625 653.8L494.5 803.5" stroke="#ffffff" stroke-width="2.0" fill="none"/><path d="M625 706L494.5 803.5" stroke="#ffffff" stroke-width="2.0" fill="none"/><path d="M559.8 513.5L584.5 527.3" stroke="#ffffff" stroke-width="3.2" fill="none"/><path d="M389.4 489.4L458.8 657" stroke="#f3e52a" stroke-width="3" fill="none"/><path d="M465 672L471 686.6" stroke="#e8dc2f" stroke-width="2.8" fill="none"/><path d="M477.3 701.7L483.3 716.2" stroke="#e8dc2f" stroke-width="2.8" fill="none"/><path d="M489.4 731L495.4 745.5" stroke="#e8dc2f" stroke-width="2.8" fill="none"/><path d="M501.6 760.5L507.6 775" stroke="#e8dc2f" stroke-width="2.8" fill="none"/><path d="M513.8 790L519.6 804" stroke="#e8dc2f" stroke-width="2.8" fill="none"/><path d="M415 489.4L478.1 637.7" stroke="#e03a30" stroke-width="2.8" fill="none"/><path d="M450.5 489.4L502 640" stroke="#e03a30" stroke-width="2.6" fill="none"/><path d="M478.1 489.4L505 640" stroke="#e5342c" stroke-width="1.8" fill="none" opacity="0.8"/><path d="M484 489.4L509 640" stroke="#e5342c" stroke-width="1.2" fill="none" opacity="0.6"/><path d="M510.6 489.4L518.4 547" stroke="#e03a30" stroke-width="2" fill="none"/><path d="M490 620L500 651" stroke="#ee3a32" stroke-width="2.6" fill="none" opacity="0.8"/><path d="M506 620L513 648" stroke="#ee3a32" stroke-width="2.6" fill="none" opacity="0.8"/><path d="M520 566L521.5 581" stroke="#e5342c" stroke-width="3" fill="none" opacity="0.95"/><path d="M524.5 597L525.5 613" stroke="#e5342c" stroke-width="3" fill="none" opacity="0.95"/><path d="M526 630L527 647" stroke="#e5342c" stroke-width="3" fill="none" opacity="0.95"/><path d="M467.8 620L477.1 639.7" stroke="#e5342c" stroke-width="3" fill="none" opacity="0.95"/><path d="M477.1 643.2L485.2 657.1" stroke="#e5342c" stroke-width="3" fill="none" opacity="0.95"/><path d="M489.8 672.1L496.8 687.2" stroke="#e5342c" stroke-width="3" fill="none" opacity="0.95"/><path d="M503.7 667.5L509.5 682.6" stroke="#e5342c" stroke-width="3" fill="none" opacity="0.95"/><path d="M515.3 664L520 680.3" stroke="#e5342c" stroke-width="3" fill="none" opacity="0.95"/><path d="M502.6 702.3L509.5 716.2" stroke="#e5342c" stroke-width="3" fill="none" opacity="0.95"/><path d="M514 698L518 710" stroke="#e5342c" stroke-width="3" fill="none" opacity="0.95"/><path d="M521 703L525 711" stroke="#e5342c" stroke-width="3" fill="none" opacity="0.95"/><path d="M533 694L536 707" stroke="#e5342c" stroke-width="3" fill="none" opacity="0.95"/><path d="M516 733L520 745" stroke="#e5342c" stroke-width="3" fill="none" opacity="0.95"/><path d="M523 730L528 743" stroke="#e5342c" stroke-width="3" fill="none" opacity="0.95"/><path d="M530 728L533 742" stroke="#e5342c" stroke-width="3" fill="none" opacity="0.95"/><path d="M537 726L539 741" stroke="#e5342c" stroke-width="3" fill="none" opacity="0.95"/><path d="M528 762L533 776" stroke="#e5342c" stroke-width="3" fill="none" opacity="0.95"/><path d="M533 760L537 775" stroke="#e5342c" stroke-width="3" fill="none" opacity="0.95"/><path d="M537 759L540 774" stroke="#e5342c" stroke-width="3" fill="none" opacity="0.95"/><path d="M541 758L543 772" stroke="#e5342c" stroke-width="3" fill="none" opacity="0.95"/><path d="M539 790 L547 790 L545 804 L543 804Z" fill="#e5342c"/></g><text x="370" y="543" text-anchor="middle" font-size="18" fill="#f4f4fa">−4</text><text x="371.5" y="695.5" text-anchor="middle" font-size="18" fill="#f4f4fa">−8</text><text x="373.5" y="743" text-anchor="middle" font-size="18" fill="#f4f4fa">−12</text><text x="593" y="536" text-anchor="middle" font-size="18" fill="#f4f4fa">2</text><text x="614.5" y="556.4" text-anchor="middle" font-size="18" fill="#f4f4fa">4</text><text x="611.5" y="694.5" text-anchor="middle" font-size="18" fill="#f4f4fa">8</text><text x="608.5" y="748.5" text-anchor="middle" font-size="18" fill="#f4f4fa">12</text><rect x="355.2" y="489.9" width="268.3" height="314.6" fill="none" stroke="#2e2e33" stroke-width="2.1"/><path d="M366.5 804.9v-4M392.2 804.9v-4M417.9 804.9v-4M443.6 804.9v-4M469.3 804.9v-4M495 804.9v-4M520.7 804.9v-4M546.4 804.9v-4M572.1 804.9v-4M597.8 804.9v-4M624.3 800.8h-5M624.3 754.1h-5M624.3 707.5h-5M624.3 660.8h-5M624.3 614.2h-5M624.3 567.5h-5M624.3 520.9h-5" stroke="#222" stroke-width="1.2" fill="none"/><text x="362.5" y="824.3" text-anchor="middle" font-size="17.5" fill="#3c3c3c">−5</text><text x="388.2" y="824.3" text-anchor="middle" font-size="17.5" fill="#3c3c3c">−4</text><text x="413.9" y="824.3" text-anchor="middle" font-size="17.5" fill="#3c3c3c">−3</text><text x="439.6" y="824.3" text-anchor="middle" font-size="17.5" fill="#3c3c3c">−2</text><text x="465.3" y="824.3" text-anchor="middle" font-size="17.5" fill="#3c3c3c">−1</text><text x="495" y="824.3" text-anchor="middle" font-size="17.5" fill="#3c3c3c">0</text><text x="520.7" y="824.3" text-anchor="middle" font-size="17.5" fill="#3c3c3c">1</text><text x="546.4" y="824.3" text-anchor="middle" font-size="17.5" fill="#3c3c3c">2</text><text x="572.1" y="824.3" text-anchor="middle" font-size="17.5" fill="#3c3c3c">3</text><text x="597.8" y="824.3" text-anchor="middle" font-size="17.5" fill="#3c3c3c">4</text><text x="619" y="824.3" text-anchor="middle" font-size="17.5" fill="#3c3c3c">5</text><text x="632.3" y="805.5" text-anchor="start" font-size="17.5" fill="#3c3c3c">0</text><text x="632.3" y="758.9" text-anchor="start" font-size="17.5" fill="#3c3c3c">0.2</text><text x="632.3" y="712.2" text-anchor="start" font-size="17.5" fill="#3c3c3c">0.4</text><text x="632.3" y="665.5" text-anchor="start" font-size="17.5" fill="#3c3c3c">0.6</text><text x="632.3" y="618.9" text-anchor="start" font-size="17.5" fill="#3c3c3c">0.8</text><text x="632.3" y="572.2" text-anchor="start" font-size="17.5" fill="#3c3c3c">1.0</text><text x="632.3" y="525.6" text-anchor="start" font-size="17.5" fill="#3c3c3c">1.2</text><text x="495" y="851" text-anchor="middle" font-size="18" fill="#3c3c3c" font-style="italic">n<tspan font-style="normal">/</tspan>n<tspan dy="4.5" font-size="13" font-style="normal">o</tspan></text><text transform="translate(671.5 653.5) rotate(90)" text-anchor="middle" font-size="19" letter-spacing="0.6" fill="#3c3c3c" font-style="italic">ϕ<tspan font-style="normal">/</tspan>ϕ<tspan dy="5" dx="1" font-size="13.5" font-style="normal">o</tspan></text></g>
<g id="pf"><text transform="translate(696.0 445.5) scale(0.97 1)" font-size="29.5" font-weight="bold" fill="#000">f</text><clipPath id="cf1"><rect x="740.8" y="451.7" width="249.5" height="103.5"/></clipPath><rect x="752.9" y="469.2" width="23.9" height="86" fill="#d9dff0"/><rect x="779.7" y="469.2" width="12.2" height="86" fill="#f5f2d0"/><rect x="799.5" y="469.2" width="24.4" height="86" fill="#fde0d6"/><rect x="830.8" y="477.6" width="15" height="77.6" fill="#fde0d6"/><rect x="853.1" y="486.2" width="9.7" height="69" fill="#fde0d6"/><rect x="873.8" y="493.5" width="4.9" height="61.7" fill="#fde0d6"/><rect x="883.9" y="501.7" width="4.5" height="53.5" fill="#fde0d6"/><rect x="904.6" y="522" width="24.4" height="33.2" fill="#d9dff0"/><rect x="947.6" y="538.7" width="24" height="16.5" fill="#d9dff0"/><g clip-path="url(#cf1)"><path d="M746.8 532.8 747.1 534 747.5 535.2 747.9 536.4 748.3 537.6 748.6 538.8 749 540 749.3 541.2 749.6 542.4 749.8 543.6 750.1 544.8 750.4 546 750.6 547.2 750.9 548.4 751.1 549.6 751.4 550.8 751.8 551.9 752.5 552.9 753.3 553.9 754.2 554.6 755.3 554.8 756.5 554.9 757.7 554.9 758.9 554.9 760.1 554.9 761.3 554.9 762.5 554.9 763.8 554.9 765 554.9 766.2 554.9 767.4 554.9 768.6 554.9 769.8 554.9 771 554.9 772.2 554.9 773.4 554.9 774.6 554.9 775.9 554.9 777.1 554.9 778.3 554.9 779.5 554.9 780.7 554.9 781.9 554.9 783.1 554.9 784.3 554.9 785.5 554.9 786.8 554.9 788 554.9 789.2 554.8 790.3 554.4 791.4 553.8 792.5 553.2 793.7 553 795 553 796.2 553.3 797.3 553.7 798.4 554.3 799.6 554.7 800.7 554.9 801.9 554.9 803.1 554.9 804.3 554.9 805.5 554.9 806.8 554.9 808 554.9 809.2 554.9 810.4 554.9 811.6 554.9 812.8 554.9 814 554.9 815.2 554.9 816.4 554.9 817.6 554.9 818.8 554.9 820 554.9 821.2 554.9 822.3 554.7 823 554.1 823.2 553 823.4 551.8 823.5 550.5 823.7 549.3 823.8 548.1 824 546.8 824.1 545.6 824.2 544.3 824.4 543.1 824.5 541.9 824.6 540.6 824.8 539.4 824.8 538.1 824.9 536.9 825 535.7 825.1 534.4 825.2 533.2 825.3 532 825.4 530.7 825.5 529.5 825.6 528.3 825.7 527 825.8 525.8 826.2 524.8 826.6 524.3 826.9 524.9 827 526.1 827.2 527.3 827.3 528.5 827.4 529.8 827.6 531 827.7 532.3 827.8 533.5 828 534.7 828.1 535.9 828.2 537.2 828.3 538.4 828.4 539.6 828.5 540.8 828.6 542 828.7 543.2 828.8 544.5 828.9 545.7 829 546.9 829.1 548.1 829.2 549.3 829.3 550.5 829.4 551.8 829.6 552.9 830.3 553.8 831.4 554.5 832.6 554.8 833.8 554.9 835 554.9 836.2 554.9 837.4 554.9 838.7 554.9 839.9 554.9 841.1 554.9 842.3 554.9 843.4 554.7 844.4 554.2 845 553.2 845.7 552.1 846.3 551 847.1 550 848 549.2 849 548.9 850 549.2 850.9 550 851.8 551 852.5 552.1 853.2 553.2 854 554 855.1 554.1 856.3 554 857.5 553.8 858.6 553.3 859.4 552.5 860.1 551.4 860.7 550.3 860.9 549.1 861.1 547.9 861.2 546.7 861.3 545.5 861.5 544.3 861.6 543 861.7 541.8 861.8 540.6 861.9 539.4 862.1 538.2 862.2 537 862.3 535.7 862.4 534.5 862.6 533.3 862.7 532.1 862.8 530.9 862.9 529.7 863.1 528.5 863.2 527.3 863.4 526.1 863.5 524.8 863.6 523.6 863.8 522.4 863.9 521.2 864.1 520 864.2 518.8 864.3 517.6 864.5 516.4 864.6 515.2 864.7 514 864.9 512.8 865 511.6 865.2 510.4 865.5 509.2 865.9 508 866.3 506.8 866.8 505.6 867.2 504.5 867.8 503.4 868.7 502.5 869.6 501.9 870.6 501.9 871.5 502.5 872.4 503.4 873 504.5 873.4 505.6 873.9 506.8 874.3 508 874.8 509.2 875.4 510.3 876.2 511.4 877 512.3 877.9 512.7 878.9 512.5 879.7 512.7 880.4 513.5 881 514.6 881.6 515.7 882 516.9 882.4 518 882.8 519.2 883.1 520.3 883.5 521.5 883.8 522.6 884.2 523.5 884.6 523.5 885.1 522.7 885.6 521.7 886 520.5 886.1 519.3 886.3 518.1 886.4 516.9 886.5 515.7 886.6 514.5 886.7 513.3 886.9 512.1 887 510.9 887.1 509.7 887.2 508.5 887.3 507.3 887.5 506.1 887.6 504.9 887.7 503.7 887.7 502.5 887.8 501.3 887.9 500 888 498.8 888.1 497.6 888.2 496.4 888.2 495.2 888.3 494 888.4 492.7 888.5 491.5 888.6 490.3 888.6 489.1 888.7 487.9 888.8 486.7 888.9 485.4 889 484.2 889 483 889.1 481.8 889.2 480.6 889.3 479.4 889.3 478.2 889.4 477 889.5 475.8 889.5 474.6 889.6 473.3 889.7 472.1 889.7 470.9 889.8 469.7 889.9 468.5 890 467.3 890 466.1 890.1 464.9 890.2 463.7 890.2 462.5 890.3 461.3 890.4 460.1 890.4 458.9 890.5 457.7 890.6 456.5 890.6 455.3 890.7 454.1 890.8 452.9 890.8 451.7 890.9 450.5 890.9 449.2 891 448 891 446.8 891.1 445.6 891.1 444.3 891.2 443.1 891.2 441.9 891.2 440.7 891.3 439.4 891.3 438.2 891.4 437 891.4 435.8 891.5 434.5 891.5 433.3 891.6 432.1 891.8 431 892.4 430.4 893.5 430.3 894.8 430.3 896 430.3 897.3 430.3 898.5 430.3 899.4 430.7 899.8 431.5 899.8 432.7 899.9 433.9 899.9 435.2 900 436.4 900 437.6 900.1 438.8 900.1 440.1 900.2 441.3 900.2 442.5 900.3 443.7 900.3 445 900.4 446.2 900.4 447.4 900.5 448.6 900.5 449.8 900.5 451.1 900.6 452.3 900.6 453.5 900.7 454.7 900.8 455.9 900.8 457.1 900.9 458.3 900.9 459.5 901 460.7 901 461.9 901.1 463.1 901.1 464.3 901.2 465.5 901.2 466.7 901.3 467.9 901.4 469.1 901.4 470.3 901.5 471.5 901.5 472.7 901.6 473.9 901.6 475.2 901.7 476.4 901.7 477.6 901.8 478.8 901.8 480 901.9 481.2 901.9 482.4 902 483.6 902 484.8 902.1 486 902.1 487.2 902.1 488.4 902.2 489.6 902.2 490.8 902.3 492 902.3 493.2 902.3 494.4 902.4 495.6 902.4 496.8 902.5 498 902.5 499.2 902.6 500.4 902.6 501.6 902.6 502.8 902.7 504 902.7 505.2 902.8 506.4 902.8 507.6 902.9 508.8 902.9 510 902.9 511.2 903 512.4 903 513.6 903.1 514.8 903.2 516 903.2 517.2 903.3 518.4 903.3 519.6 903.4 520.8 903.5 522 903.5 523.2 903.6 524.4 903.6 525.6 903.7 526.8 903.8 528 903.8 529.2 903.9 530.5 903.9 531.7 904 532.9 904.1 534.1 904.1 535.3 904.2 536.5 904.2 537.7 904.3 538.9 904.4 540.1 904.4 541.3 904.5 542.5 904.5 543.7 904.6 544.9 904.8 546.1 905 547.3 905.3 548.5 905.6 549.7 905.8 550.9 906.2 552.1 906.8 553.2 907.7 554 908.8 554.6 909.9 554.9 911.1 554.9 912.3 554.9 913.5 554.9 914.7 554.9 915.9 554.9 917.1 554.9 918.3 554.9 919.5 554.9 920.7 554.9 921.9 554.9 923.1 554.9 924.3 554.8 925.6 554.6 926.8 554.1 928 553.4 928.9 552.5 929.6 551.4 930.3 550.3 931 549.3 931.7 548.1 932.4 547 933.1 545.8 933.8 544.7 934.3 543.5 934.8 542.4 935.3 541.3 935.8 540.1 936.3 539 936.8 537.9 937.4 536.8 938.1 535.8 938.9 535 939.5 535.1 939.8 536 940 537.3 940.2 538.5 940.6 539.6 941.3 540.4 942 541.3 942.5 542.4 942.8 543.5 943.2 544.7 943.5 545.8 943.9 547 944.2 548.1 944.6 549.3 945 550.4 945.5 551.5 945.9 552.6 946.4 553.7 947.1 554.5 948.1 554.8 949.2 554.9 950.4 554.9 951.7 554.9 952.9 554.9 954.1 554.9 955.3 554.9 956.5 554.9 957.7 554.9 958.9 554.9 960.1 554.9 961.4 554.9 962.6 554.9 963.8 554.9 965 554.9 966.2 554.9 967.4 554.9 968.6 554.9 969.8 554.9 971 554.9 972.3 554.9 973.5 554.9 974.7 554.9 975.9 554.9 977.1 554.9 978.3 554.9 979.5 554.9 980.7 554.9 981.9 554.9 983.2 554.9 984.4 554.9 985.6 554.9 986.8 554.9 988 554.9 989.2 554.9 989.8 554.9" stroke="#1f1f1f" stroke-width="1.6" fill="none" stroke-linejoin="round"/><path d="M746.8 474.9 747.6 474 748.5 473 749.4 472.1 750.3 471.2 751.2 470.3 752.1 469.5 753.1 469.1 754.3 468.9 755.5 468.9 756.7 468.9 757.9 468.8 759.1 468.8 760.3 468.8 761.5 468.8 762.7 468.8 763.9 468.8 765.1 468.8 766.3 468.8 767.5 468.8 768.7 468.8 769.9 468.8 771.1 468.8 772.3 468.8 773.5 468.7 774.7 468.7 775.9 468.7 777.1 468.7 778.3 468.7 779.5 468.7 780.7 468.7 781.9 468.7 783.1 468.7 784.3 468.7 785.6 468.7 786.8 468.7 788 468.6 789.2 468.6 790.4 468.6 791.6 468.6 792.8 468.6 794 468.6 795.2 468.6 796.4 468.6 797.6 468.6 798.8 468.6 800 468.6 801.2 468.6 802.4 468.5 803.6 468.5 804.8 468.5 806 468.5 807.2 468.5 808.4 468.5 809.6 468.5 810.8 468.5 812 468.5 813.2 468.5 814.4 468.5 815.6 468.5 816.8 468.5 818 468.4 819.2 468.4 820.5 468.4 821.7 468.4 822.8 468.4 824 468.6 825 469.1 825.9 470 826.7 471.1 827.4 472.2 828.1 473.3 828.7 474.5 829.4 475.6 830.1 476.5 831.1 477.1 832.2 477.3 833.4 477.4 834.6 477.4 835.8 477.4 837 477.5 838.2 477.5 839.4 477.5 840.6 477.5 841.8 477.6 843 477.6 844.2 477.6 845.3 477.7 846.4 478 847.4 478.7 848.2 479.5 849 480.4 849.8 481.4 850.6 482.3 851.4 483.2 852.3 484.1 853.1 484.9 854.1 485.6 855.2 485.9 856.4 486 857.7 486.1 859 486.1 860.2 486.2 861.5 486.3 862.7 486.6 863.7 487.2 864.7 488.1 865.6 489 866.6 489.8 867.7 490.6 868.7 491.3 869.7 491.9 870.1 492.2 869.7 492 868.9 491.4 867.8 490.8 866.8 490.1 865.8 489.5 864.8 488.9 864.1 488.5 864.1 488.6 864.8 489.1 865.7 489.9 866.7 490.7 867.7 491.4 868.8 491.9 870 492.2 871.2 492.4 872.5 492.5 873.7 492.7 875 492.9 876.1 493.3 877.2 493.9 878.2 494.6 879.1 495.3 880.1 496.1 881 496.9 881.8 497.8 882.5 498.8 883.3 499.8 884.1 500.7 885.1 501.4 886.3 501.7 887.5 501.7 888.5 501.2 889.5 500.4 890.4 499.5 891.2 498.6 892.1 497.9 893.1 497.7 894.1 498 894.9 498.8 895.5 499.8 895.9 500.9 896.3 502.1 896.7 503.2 897.1 504.3 897.4 505.5 897.6 506.7 897.9 507.9 898.1 509 898.3 510.2 898.5 511.4 898.8 512.6 899 513.8 899.2 514.9 899.4 516.1 899.7 517.3 899.9 518.5 900.2 519.8 900.5 521 900.8 522.2 901.2 523.3 901.7 524 902.7 524 903.8 523.5 904.9 522.8 906 522.1 907.1 521.7 908.2 521.8 909.4 521.8 910.6 521.6 911.9 521.3 913.2 521.2 914.4 521.2 915.6 521.2 916.9 521.3 918.1 521.3 919.3 521.3 920.6 521.4 921.8 521.4 923.1 521.4 924.3 521.5 925.5 521.8 926.7 522.3 927.9 522.8 929.1 523.4 930.1 524.2 930.9 525.1 931.6 526.1 932.4 527.1 933.1 528.1 933.9 529.1 934.7 530 935.5 531 936.3 532 937.1 532.9 937.9 533.8 938.7 534.8 939.5 535.8 940.4 536.8 941.3 537.4 942.4 537.3 943.4 537.2 944.4 537.7 945.2 538.5 946 539.5 946.8 540.4 947.7 541.4 948.7 542.2 949.8 542.9 950.9 543.4 952.1 543.3 953.1 542.8 954.1 542.1 954.9 541.2 955.8 540.3 956.8 539.6 957.9 539.2 959.3 538.9 960.6 538.7 961.9 538.7 963.1 538.7 964.4 538.7 965.6 538.7 966.9 538.7 968.1 538.7 969.4 538.7 970 538.7" stroke="#d0463e" stroke-width="2" fill="none" stroke-linejoin="round"/></g><rect x="740.8" y="451.7" width="249.5" height="103.5" fill="none" stroke="#4a4a4a" stroke-width="1.2"/><path d="M740.8 555.2v-4M753.3 555.2v-2.5M765.8 555.2v-4M778.2 555.2v-2.5M790.7 555.2v-4M803.2 555.2v-2.5M815.6 555.2v-4M828.1 555.2v-2.5M840.6 555.2v-4M853.1 555.2v-2.5M865.5 555.2v-4M878 555.2v-2.5M890.5 555.2v-4M903 555.2v-2.5M915.4 555.2v-4M927.9 555.2v-2.5M940.4 555.2v-4M952.9 555.2v-2.5M965.3 555.2v-4M977.8 555.2v-2.5M990.3 555.2v-4M740.8 555.2h4M740.8 529.5h2.5M740.8 503.8h4M740.8 478.1h2.5M740.8 452.4h4M990.3 547.1h-2.5M990.3 538.4h-4M990.3 529.8h-2.5M990.3 521.1h-2.5M990.3 512.5h-2.5M990.3 503.8h-4M990.3 495.1h-2.5M990.3 486.5h-2.5M990.3 477.8h-2.5M990.3 469.2h-4M990.3 460.5h-2.5" stroke="#4a4a4a" stroke-width="1" fill="none"/><text x="737.3" y="568.7" text-anchor="middle" font-size="16.3" fill="#3c3c3c" >−5</text><text x="763.2" y="568.7" text-anchor="middle" font-size="16.3" fill="#3c3c3c" >−4</text><text x="788.2" y="568.7" text-anchor="middle" font-size="16.3" fill="#3c3c3c" >−3</text><text x="813.1" y="568.7" text-anchor="middle" font-size="16.3" fill="#3c3c3c" >−2</text><text x="838.1" y="568.7" text-anchor="middle" font-size="16.3" fill="#3c3c3c" >−1</text><text x="865.5" y="568.7" text-anchor="middle" font-size="16.3" fill="#3c3c3c" >0</text><text x="890.5" y="568.7" text-anchor="middle" font-size="16.3" fill="#3c3c3c" >1</text><text x="915.4" y="568.7" text-anchor="middle" font-size="16.3" fill="#3c3c3c" >2</text><text x="940.4" y="568.7" text-anchor="middle" font-size="16.3" fill="#3c3c3c" >3</text><text x="965.3" y="568.7" text-anchor="middle" font-size="16.3" fill="#3c3c3c" >4</text><text x="988.8" y="568.7" text-anchor="middle" font-size="16.3" fill="#3c3c3c" >5</text><text x="737.8" y="460.1" text-anchor="end" font-size="16.5" fill="#3c3c3c" >2</text><text x="737.8" y="507.9" text-anchor="end" font-size="16.5" fill="#3c3c3c" >1</text><text x="737.8" y="556.1" text-anchor="end" font-size="16.5" fill="#3c3c3c" >0</text><text x="995.3" y="473.6" text-anchor="start" font-size="16" fill="#3c3c3c" >4</text><text x="995.3" y="508.5" text-anchor="start" font-size="16" fill="#3c3c3c" >0</text><text x="995.3" y="542.9" text-anchor="start" font-size="16" fill="#3c3c3c" >−4</text><text x="766.2" y="465.2" text-anchor="middle" font-size="13.5" fill="#3c3c3c" >−4</text><text x="784.1" y="465.2" text-anchor="middle" font-size="13.5" fill="#3c3c3c" >−4</text><text x="809.7" y="465.2" text-anchor="middle" font-size="13.5" fill="#3c3c3c" >−4</text><text x="837.6" y="470.8" text-anchor="middle" font-size="13.5" fill="#3c3c3c" >−3</text><text x="856.3" y="479.8" text-anchor="middle" font-size="13.5" fill="#3c3c3c" >−2</text><text x="873.8" y="485.4" text-anchor="middle" font-size="13.5" fill="#3c3c3c" >−1</text><text x="883.9" y="493.5" text-anchor="middle" font-size="13.5" fill="#3c3c3c" >0</text><text x="918.1" y="517.1" text-anchor="middle" font-size="13.5" fill="#3c3c3c" >2</text><text x="960.1" y="533.8" text-anchor="middle" font-size="13.5" fill="#3c3c3c" >4</text><text x="950.9" y="477" text-anchor="middle" font-size="16.3" fill="#3c3c3c"><tspan font-style="italic">B</tspan> = 26 T</text><clipPath id="cf2"><rect x="741" y="581.7" width="249.3" height="102.2"/></clipPath><rect x="753" y="598.6" width="27.3" height="85.3" fill="#d9dff0"/><rect x="791.2" y="598.6" width="15.7" height="85.3" fill="#f5f2d0"/><rect x="822.8" y="598.6" width="18.8" height="85.3" fill="#fde0d6"/><rect x="849.4" y="606.9" width="9.6" height="77" fill="#fde0d6"/><rect x="873.7" y="616" width="8" height="67.9" fill="#fde0d6"/><rect x="901.4" y="651.2" width="27.6" height="32.7" fill="#d9dff0"/><rect x="946.9" y="669.1" width="36.5" height="14.8" fill="#d9dff0"/><g clip-path="url(#cf2)"><path d="M741.4 636.4 742 637.6 742.7 638.8 743.3 639.9 743.9 641.1 744.4 642.3 744.6 643.5 744.9 644.7 745.1 645.9 745.3 647.1 745.6 648.3 745.8 649.5 746 650.7 746.2 651.9 746.5 653.1 746.7 654.4 746.9 655.6 747 656.8 747.2 658 747.3 659.2 747.5 660.4 747.6 661.7 747.8 662.9 747.9 664.1 748 665.3 748.2 666.5 748.3 667.8 748.5 669 748.6 670.2 748.7 671.4 748.9 672.7 749 673.9 749.2 675.1 749.3 676.3 749.5 677.5 749.7 678.8 750.1 680 750.5 681.2 750.9 682.4 751.5 683.3 752.5 683.7 753.7 683.7 754.9 683.7 756.1 683.7 757.3 683.7 758.6 683.7 759.8 683.7 761 683.7 762.2 683.7 763.4 683.7 764.6 683.7 765.8 683.7 767.1 683.7 768.3 683.7 769.5 683.7 770.7 683.7 771.9 683.7 773.1 683.7 774.4 683.7 775.6 683.7 776.8 683.7 778 683.7 779.2 683.7 780.4 683.7 781.6 683.4 782.6 682.8 783.6 682 784.7 681.3 785.8 680.8 787 680.6 788.1 681 789 681.9 790 682.7 791 683.2 792.2 683.4 793.4 683.4 794.6 683.5 795.8 683.5 797 683.5 798.2 683.6 799.4 683.6 800.6 683.6 801.8 683.6 803 683.6 804 683.3 804.7 682.5 805.3 681.5 805.8 680.4 806.3 679.3 806.8 678.1 807.2 676.9 807.5 675.7 807.8 674.5 808.1 673.2 808.4 672 808.7 670.8 809 669.6 809.3 668.3 809.7 667.2 810.2 666 810.7 664.9 811.2 663.8 811.7 662.7 812.2 661.6 812.8 660.5 813.5 659.6 814.5 658.9 815.5 658.7 816.4 659.1 817.3 659.9 818 660.9 818.4 662 818.8 663.2 819.1 664.5 819.4 665.7 819.7 666.9 820 668.1 820.3 669.4 820.6 670.6 820.9 671.8 821.2 673 821.4 674.2 821.7 675.4 822 676.5 822.3 677.7 822.5 678.9 822.8 680.1 823.1 681.3 823.6 682.4 824.6 683.2 825.7 683.6 826.9 683.7 828.1 683.7 829.3 683.7 830.5 683.7 831.7 683.7 832.9 683.7 834.1 683.7 835.3 683.7 836.5 683.7 837.7 683.7 838.9 683.7 840 683.6 840.8 683 841.3 681.9 841.7 680.8 842 679.6 842.4 678.5 842.8 677.3 843.2 676.2 843.8 675.1 844.6 674.3 845.5 673.6 846.3 673.7 847 674.5 847.6 675.6 848 676.7 848.4 677.9 848.7 679 849.1 680.2 849.5 681.3 850 682.3 850.9 683 852 683.4 853.2 683.2 854.3 682.8 855.5 682.3 856.6 681.8 857.6 681.1 858.4 680.1 859.1 679.1 859.9 678.2 860.9 677.3 861.9 676.7 863 676.7 864 677.3 865 678.2 865.9 679 866.8 679.9 867.7 680.7 868.7 681.5 869.9 681.9 871.1 682.3 872.4 682.6 873.7 682.9 874.9 682.9 876 682.3 876.8 681.4 877.6 680.3 878.3 679.2 878.9 678.1 879.2 676.9 879.4 675.7 879.5 674.6 879.6 673.4 879.7 672.2 879.8 671 880 669.8 880.1 668.6 880.2 667.4 880.3 666.2 880.4 665 880.5 663.8 880.7 662.6 880.8 661.4 880.9 660.2 881 659 881 657.7 881.1 656.5 881.2 655.3 881.3 654.1 881.3 652.9 881.4 651.7 881.5 650.5 881.6 649.3 881.6 648.1 881.7 646.9 881.8 645.7 881.9 644.5 881.9 643.2 882 642 882.1 640.8 882.2 639.6 882.2 638.4 882.3 637.2 882.4 636 882.5 634.8 882.5 633.6 882.6 632.4 882.7 631.2 882.8 630 882.9 628.7 882.9 627.5 883 626.3 883.1 625.1 883.2 623.9 883.2 622.7 883.3 621.5 883.4 620.3 883.5 619.1 883.8 617.9 884.2 616.8 884.5 615.6 884.8 614.4 885.2 613.3 885.5 612.1 885.9 611 886.2 609.8 886.5 608.5 886.8 607.3 887.1 606.1 887.4 604.9 887.7 603.6 888.1 602.4 888.4 601.2 888.7 600 889.2 598.7 889.7 597.5 890.2 596.6 890.7 596.5 891.3 597.4 891.8 598.5 892.3 599.7 892.7 600.9 893 602.1 893.4 603.3 893.7 604.6 893.9 605.8 894 607 894.1 608.2 894.2 609.4 894.3 610.6 894.4 611.9 894.4 613.1 894.5 614.3 894.6 615.5 894.7 616.7 894.8 617.9 894.9 619.2 895 620.4 895.1 621.6 895.1 622.8 895.2 624 895.3 625.2 895.4 626.5 895.5 627.7 895.6 628.9 895.7 630.1 895.7 631.3 895.8 632.5 895.9 633.7 895.9 634.9 896 636.1 896.1 637.3 896.1 638.5 896.2 639.7 896.3 641 896.4 642.2 896.4 643.4 896.5 644.6 896.6 645.8 896.6 647 896.7 648.2 896.8 649.4 896.9 650.6 896.9 651.8 897 653 897.1 654.2 897.1 655.4 897.2 656.6 897.3 657.8 897.4 659 897.6 660.2 897.8 661.5 898 662.7 898.3 663.9 898.5 665.1 898.7 666.3 898.9 667.5 899.2 668.7 899.4 669.9 899.6 671.1 899.9 672.3 900.1 673.5 900.5 674.7 900.8 675.9 901.1 677.1 901.4 678.3 901.8 679.5 902.1 680.7 902.5 681.8 903.3 682.7 904.5 683.3 905.8 683.6 907 683.7 908.2 683.7 909.5 683.7 910.7 683.7 911.9 683.7 913.1 683.7 914.4 683.7 915.6 683.7 916.8 683.7 918.1 683.7 919.3 683.7 920.5 683.7 921.7 683.7 923 683.7 924.2 683.7 925.4 683.6 926.4 683.1 927.3 682.3 928.2 681.3 929 680.3 929.7 679.3 930.1 678.1 930.6 677 931 675.8 931.5 674.7 931.9 673.5 932.3 672.3 932.8 671.1 933.2 669.9 933.6 668.7 934.1 667.5 934.6 666.4 935.5 665.6 936.8 665.1 938.1 664.8 939.2 664.6 939.9 665.1 940.3 666.1 940.5 667.3 940.8 668.6 941 669.8 941.3 671.1 941.6 672.3 941.9 673.5 942.3 674.7 942.7 675.9 943.2 677.1 943.6 678.3 944 679.5 944.5 680.7 945 681.8 945.8 682.8 946.9 683.4 948.1 683.7 949.3 683.7 950.5 683.7 951.7 683.7 952.9 683.7 954.1 683.7 955.4 683.7 956.6 683.7 957.8 683.7 959 683.7 960.2 683.7 961.4 683.7 962.6 683.7 963.9 683.7 965.1 683.7 966.3 683.7 967.5 683.7 968.7 683.7 969.9 683.7 971.1 683.7 972.3 683.7 973.6 683.7 974.8 683.7 976 683.7 977.2 683.7 978.4 683.6 979.4 683.1 980.3 682.3 981.2 681.3 982 680.3 982.7 679.3 983.2 678.1 983.6 677 984.1 675.8 984.6 674.7 985 673.5 985.5 672.4 986.2 671.4 987.1 670.6 988.1 669.9 989.2 669.2 990.3 668.6" stroke="#1f1f1f" stroke-width="1.6" fill="none" stroke-linejoin="round"/><path d="M741.4 589.5 742.1 590.6 742.9 591.6 743.6 592.7 744.4 593.7 745.3 594.6 746.3 595.5 747.3 596.3 748.4 597 749.6 597.6 750.8 598 752 598.3 753.2 598.4 754.5 598.5 755.7 598.5 756.9 598.5 758.1 598.5 759.3 598.5 760.5 598.5 761.8 598.5 763 598.4 764.2 598.4 765.4 598.4 766.6 598.4 767.8 598.4 769 598.4 770.3 598.3 771.5 598.3 772.7 598.3 773.9 598.3 775.1 598.3 776.3 598.3 777.5 598.2 778.7 598.2 780 598.2 781.2 598.2 782.4 598.2 783.6 598.2 784.8 598.1 786 598.1 787.2 598.1 788.5 598.1 789.7 598.1 790.9 598.1 792.1 598 793.3 598 794.5 598 795.7 598 797 598 798.2 598 799.4 597.9 800.6 597.9 801.8 597.9 803 597.9 804.3 597.9 805.5 598 806.7 598.1 808 598.3 809.2 598.6 810.3 599.1 811.5 599.6 812.7 599.9 813.9 599.9 815.2 599.9 816.4 599.8 817.6 599.5 818.7 599.2 819.9 598.8 821.1 598.5 822.2 598.3 823.4 598.2 824.6 598.2 825.9 598.1 827.1 598.1 828.3 598.1 829.5 598.1 830.7 598.1 831.9 598 833.1 598 834.3 598 835.5 598 836.8 598 838 597.9 839.2 597.9 840.4 598 841.5 598.3 842.4 598.9 843.3 599.9 844.2 600.9 845 601.9 845.8 602.9 846.5 603.9 847.4 604.9 848.3 605.6 849.4 606.2 850.6 606.6 851.8 606.8 853.1 606.9 854.3 606.9 855.6 606.9 856.8 607 858.1 607.1 859.3 607.5 860.4 608.1 861.6 608.7 862.7 609.2 863.8 609.9 864.9 610.5 866 611.2 867.1 611.9 868.1 612.5 869.2 613.2 870.3 613.8 871.4 614.2 872.6 614.6 873.7 615 874.5 615.3 874.7 615.5 875 615.6 875.8 615.7 876.9 615.8 878.1 615.9 879.3 616.1 880.3 616.7 881.3 617.5 882.1 618.6 882.8 619.6 883.3 620.8 883.8 621.9 884.3 623 884.8 624.1 885.3 625.2 885.8 626.3 886.4 627.4 887 628.6 887.6 629.7 888.2 630.8 888.9 631.9 889.5 633 890.1 634.2 890.6 635.3 891 636.4 891.4 637.6 891.8 638.8 892.1 639.9 892.5 641.1 892.9 642.2 893.3 643.4 893.8 644.5 894.3 645.6 895 646.6 895.8 647.6 896.7 648.4 897.8 648.9 899.1 649.3 900.4 649.6 901.7 649.9 902.9 650 904.2 650 905.4 650.1 906.6 650.1 907.9 650.1 909.1 650.1 910.3 650.2 911.6 650.2 912.8 650.2 914 650.2 915.3 650.2 916.5 650.3 917.7 650.3 919 650.3 920.2 650.4 921.4 650.5 922.6 650.6 923.9 650.8 925.1 651 926.2 651.2 927.3 651.7 928.3 652.4 929.3 653.1 930.2 653.9 931.1 654.8 931.8 655.8 932.5 656.9 933.1 658 933.8 659.1 934.4 660.2 935.2 661.2 936 662.1 936.9 662.9 937.8 663.8 938.6 664.7 939.5 665.5 940.6 666.2 941.7 666.8 942.8 667.3 944 667.8 945.1 668.3 946.3 668.8 947.6 669.2 948.8 669.6 950.1 669.9 951.4 670 952.6 669.9 953.8 669.6 955 669.1 956.1 668.6 957.3 668.3 958.5 668.1 959.7 668.1 961 668.1 962.2 668.1 963.4 668.1 964.6 668.1 965.8 668.1 967.1 668.1 968.3 668.1 969.5 668.1 970.7 668.1 971.9 668.1 973.2 668.1 974.4 668.1 975.6 668.1 976.8 668.1 978 668.1 979.2 668.2 980.4 668.7 981.4 669.5 982.3 670.4 983.1 671.4 983.8 672.5 984.5 673.6 985.3 674.5 986.3 675.3 987.4 676 988.6 676.6 989.7 677.3 990.3 677.6" stroke="#d0463e" stroke-width="2" fill="none" stroke-linejoin="round"/></g><rect x="741" y="581.7" width="249.3" height="102.2" fill="none" stroke="#4a4a4a" stroke-width="1.2"/><path d="M741 683.9v-4M753.5 683.9v-2.5M765.9 683.9v-4M778.4 683.9v-2.5M790.9 683.9v-4M803.3 683.9v-2.5M815.8 683.9v-4M828.3 683.9v-2.5M840.7 683.9v-4M853.2 683.9v-2.5M865.6 683.9v-4M878.1 683.9v-2.5M890.6 683.9v-4M903 683.9v-2.5M915.5 683.9v-4M928 683.9v-2.5M940.4 683.9v-4M952.9 683.9v-2.5M965.4 683.9v-4M977.8 683.9v-2.5M990.3 683.9v-4M741 683.9h4M741 658.4h2.5M741 632.9h4M741 607.4h2.5M741 581.9h4M990.3 682.2h-2.5M990.3 673.7h-2.5M990.3 665.2h-4M990.3 656.7h-2.5M990.3 648.2h-2.5M990.3 639.7h-2.5M990.3 631.2h-4M990.3 622.7h-2.5M990.3 614.2h-2.5M990.3 605.7h-2.5M990.3 597.2h-4M990.3 588.7h-2.5" stroke="#4a4a4a" stroke-width="1" fill="none"/><text x="737.5" y="698.1" text-anchor="middle" font-size="16.3" fill="#3c3c3c" >−5</text><text x="763.4" y="698.1" text-anchor="middle" font-size="16.3" fill="#3c3c3c" >−4</text><text x="788.4" y="698.1" text-anchor="middle" font-size="16.3" fill="#3c3c3c" >−3</text><text x="813.3" y="698.1" text-anchor="middle" font-size="16.3" fill="#3c3c3c" >−2</text><text x="838.2" y="698.1" text-anchor="middle" font-size="16.3" fill="#3c3c3c" >−1</text><text x="865.6" y="698.1" text-anchor="middle" font-size="16.3" fill="#3c3c3c" >0</text><text x="890.6" y="698.1" text-anchor="middle" font-size="16.3" fill="#3c3c3c" >1</text><text x="915.5" y="698.1" text-anchor="middle" font-size="16.3" fill="#3c3c3c" >2</text><text x="940.4" y="698.1" text-anchor="middle" font-size="16.3" fill="#3c3c3c" >3</text><text x="965.4" y="698.1" text-anchor="middle" font-size="16.3" fill="#3c3c3c" >4</text><text x="988.8" y="698.1" text-anchor="middle" font-size="16.3" fill="#3c3c3c" >5</text><text x="738" y="589.3" text-anchor="end" font-size="16.5" fill="#3c3c3c" >2</text><text x="738" y="636.2" text-anchor="end" font-size="16.5" fill="#3c3c3c" >1</text><text x="738" y="683.1" text-anchor="end" font-size="16.5" fill="#3c3c3c" >0</text><text x="995.3" y="602.1" text-anchor="start" font-size="16" fill="#3c3c3c" >4</text><text x="995.3" y="635.9" text-anchor="start" font-size="16" fill="#3c3c3c" >0</text><text x="995.3" y="670.2" text-anchor="start" font-size="16" fill="#3c3c3c" >−4</text><text x="765.7" y="594.7" text-anchor="middle" font-size="13.5" fill="#3c3c3c" >−4</text><text x="797.8" y="594.7" text-anchor="middle" font-size="13.5" fill="#3c3c3c" >−4</text><text x="832" y="594.7" text-anchor="middle" font-size="13.5" fill="#3c3c3c" >−4</text><text x="852.5" y="600.3" text-anchor="middle" font-size="13.5" fill="#3c3c3c" >−3</text><text x="875.2" y="610" text-anchor="middle" font-size="13.5" fill="#3c3c3c" >−2</text><text x="917" y="646" text-anchor="middle" font-size="13.5" fill="#3c3c3c" >2</text><text x="964.8" y="663.4" text-anchor="middle" font-size="13.5" fill="#3c3c3c" >4</text><text x="949.5" y="609.5" text-anchor="middle" font-size="16.3" fill="#3c3c3c"><tspan font-style="italic">B</tspan> = 18 T</text><clipPath id="cf3"><rect x="741.5" y="708.6" width="249.5" height="103.1"/></clipPath><rect x="759.7" y="726" width="20.9" height="85.7" fill="#d9dff0"/><rect x="809.2" y="742.5" width="12.5" height="69.2" fill="#d9dff0"/><rect x="853.3" y="760.2" width="18.1" height="51.5" fill="#d9dff0"/><rect x="903.7" y="778.2" width="28.1" height="33.5" fill="#d9dff0"/><rect x="951.8" y="795.2" width="38.5" height="16.5" fill="#d9dff0"/><g clip-path="url(#cf3)"><path d="M749.7 702 749.8 703.2 749.9 704.4 749.9 705.6 750 706.8 750.1 708 750.2 709.2 750.3 710.4 750.4 711.6 750.5 712.9 750.6 714.1 750.7 715.3 750.8 716.5 750.9 717.7 751 718.9 751.1 720.1 751.2 721.3 751.2 722.5 751.3 723.7 751.3 724.9 751.4 726.1 751.5 727.3 751.5 728.5 751.6 729.7 751.6 730.9 751.7 732.1 751.7 733.3 751.8 734.5 751.8 735.7 751.9 736.9 752 738.1 752 739.3 752.1 740.5 752.1 741.7 752.2 742.9 752.2 744.1 752.3 745.3 752.3 746.5 752.4 747.7 752.5 748.9 752.5 750.1 752.6 751.3 752.7 752.5 752.8 753.7 752.8 754.9 752.9 756.1 753 757.3 753.1 758.6 753.2 759.8 753.2 761 753.3 762.2 753.4 763.4 753.5 764.6 753.6 765.8 753.6 767 753.7 768.2 753.8 769.4 753.9 770.6 754 771.8 754 773 754.1 774.2 754.2 775.4 754.3 776.6 754.4 777.8 754.4 779 754.5 780.2 754.6 781.4 754.8 782.6 754.9 783.8 755 785.1 755.1 786.3 755.2 787.5 755.4 788.7 755.5 789.9 755.6 791.1 755.7 792.3 755.9 793.6 756 794.8 756.1 796 756.2 797.2 756.3 798.4 756.5 799.6 756.7 800.8 756.9 802 757.2 803.3 757.5 804.5 757.7 805.7 758 806.9 758.3 808.1 758.8 809.2 759.6 810.2 760.6 811.1 761.8 811.5 763 811.6 764.2 811.6 765.4 811.6 766.7 811.6 767.9 811.5 769.1 811.5 770.3 811.5 771.6 811.5 772.8 811.4 774 811.4 775.3 811.4 776.5 811.3 777.7 811.3 778.9 811.3 780.1 811 781 810.4 781.9 809.5 782.7 808.7 783.3 807.6 783.7 806.5 784.1 805.3 784.4 804.1 784.8 803 785.1 801.8 785.5 800.6 785.8 799.4 786.2 798.3 786.6 797.1 787 795.9 787.3 794.8 787.7 793.7 788.1 792.5 788.5 791.4 788.9 790.2 789.2 789.1 789.6 787.9 790.1 786.8 790.7 785.7 791.5 784.7 792.4 783.7 793.3 783.1 794.4 783.3 795.5 783.9 796.4 784.8 797.1 785.8 797.8 786.9 798.4 788 799 789.1 799.6 790.1 800.2 791.2 800.9 792.2 801.6 793.2 802.2 794.2 802.9 795.2 803.6 796.2 804.2 797.3 804.8 798.3 805.3 799.4 805.9 800.5 806.4 801.6 807 802.7 807.7 803.8 808.5 804.8 809.4 805.8 810.4 806.7 811.6 807.2 812.7 807.1 813.7 806.4 814.7 805.6 815.4 804.6 815.9 803.4 816.3 802.2 816.7 801 817.1 799.8 817.5 798.6 817.9 797.4 818.2 796.2 818.5 795 818.7 793.9 818.9 792.7 819.2 791.5 819.4 790.3 819.6 789.1 819.8 787.9 820 786.7 820.3 785.5 820.5 784.4 820.7 783.2 820.9 782 821.1 780.8 821.3 779.6 821.5 778.4 821.7 777.2 821.8 776 822 774.8 822.2 773.6 822.3 772.5 822.5 771.3 822.7 770.1 822.8 768.9 823 767.7 823.1 766.5 823.3 765.3 823.5 764.1 823.6 762.9 823.8 761.7 824 760.5 824.1 759.3 824.3 758.2 824.4 757 824.6 755.8 824.8 754.6 824.9 753.4 825.1 752.2 825.3 751 825.4 749.8 825.6 748.6 825.7 747.4 825.9 746.2 826.1 745 826.2 743.8 826.4 742.7 826.6 741.5 826.7 740.3 826.9 739.1 827 737.9 827.2 736.7 827.4 735.5 827.6 734.3 827.9 733.1 828.1 731.9 828.4 730.7 828.6 729.5 828.8 728.3 829.1 727.1 829.3 725.9 829.6 724.7 829.8 723.5 830.1 722.3 830.4 721.1 830.9 720 831.5 718.9 832.1 717.8 832.7 716.8 833.5 716 834.5 715.7 835.6 715.8 836.6 716.4 837.4 717.3 838.2 718.4 838.9 719.5 839.4 720.7 839.8 721.8 840.2 723 840.5 724.2 840.9 725.4 841.3 726.6 841.6 727.7 842 728.9 842.3 730.1 842.6 731.3 842.9 732.5 843.1 733.7 843.4 734.9 843.7 736.1 843.9 737.3 844.2 738.5 844.5 739.7 844.7 740.9 845 742.1 845.3 743.3 845.5 744.5 845.8 745.7 846.1 746.9 846.3 748.1 846.6 749.3 846.9 750.5 847.1 751.7 847.4 752.9 847.7 754.1 847.9 755.3 848.2 756.5 848.5 757.8 848.7 759 849 760.2 849.3 761.4 849.5 762.6 849.8 763.8 850.1 765 850.4 766.2 850.7 767.4 851.1 768.5 851.4 769.7 851.8 770.9 852.2 772.1 852.5 773.3 852.9 774.5 853.2 775.6 853.6 776.8 854 778 854.4 779.1 855 780.2 855.7 781.2 856.3 782.2 857 783.2 857.7 784.2 858.6 784.9 859.7 785.1 860.7 784.6 861.7 783.9 862.6 783 863.5 782.1 864.2 781.1 864.8 780.1 865.4 778.9 865.9 777.8 866.4 776.7 866.9 775.6 867.4 774.4 867.9 773.3 868.3 772.2 868.7 771 869 769.8 869.3 768.7 869.6 767.5 869.9 766.3 870.2 765.2 870.5 764 870.8 762.8 871.1 761.7 871.4 760.5 871.7 759.3 872.1 758.1 872.5 757 873 755.8 873.4 754.6 873.9 753.4 874.4 752.3 874.9 751.1 875.3 749.9 875.9 748.8 876.6 747.7 877.5 746.8 878.5 745.9 879.6 745 880.6 744.4 881.8 743.9 882.9 743.6 884 743.5 884.9 744 885.8 744.8 886.6 745.7 887.2 746.7 887.7 747.8 888.1 749 888.6 750.1 889 751.3 889.4 752.4 889.8 753.6 890.2 754.7 890.4 755.9 890.6 757.1 890.8 758.3 891.1 759.5 891.3 760.7 891.5 761.9 891.7 763.1 892 764.2 892.2 765.4 892.4 766.6 892.6 767.8 892.9 769 893.1 770.2 893.3 771.4 893.5 772.6 893.7 773.7 894 774.9 894.2 776.1 894.4 777.3 894.6 778.5 894.9 779.7 895.1 780.9 895.3 782.1 895.5 783.2 895.7 784.4 896 785.6 896.3 786.8 896.6 788 896.9 789.1 897.2 790.3 897.6 791.5 897.9 792.6 898.3 793.8 898.6 795 898.9 796.2 899.3 797.3 899.6 798.5 899.9 799.7 900.3 800.8 900.7 802 901.2 803.1 901.6 804.3 902 805.4 902.5 806.5 903 807.6 903.7 808.5 904.6 809.3 905.6 809.9 906.7 810.3 907.9 810.4 909.1 810.6 910.3 810.7 911.5 810.8 912.7 810.9 913.9 810.9 915.2 810.9 916.4 810.9 917.6 810.9 918.8 810.9 920 810.9 921.3 810.9 922.5 810.9 923.7 810.9 924.9 810.9 926.2 810.8 927.4 810.6 928.6 810.4 929.8 810.1 931.1 809.9 932.3 809.6 933.5 809.3 934.5 808.8 935.5 808 936.3 807.1 937.3 806.3 938.5 805.8 939.8 805.7 941.1 805.5 942.2 804.8 943.2 804.2 944.2 804.4 945 805.2 945.8 806.2 946.6 807.2 947.5 808.1 948.4 808.9 949.3 809.7 950.5 810.2 951.7 810.6 953 810.9 954.2 811.2 955.4 811.3 956.6 811.3 957.9 811.3 959.1 811.3 960.3 811.3 961.5 811.3 962.7 811.3 964 811.3 965.2 811.3 966.4 811.3 967.6 811.3 968.9 811.3 970.1 811.3 971.3 811.3 972.5 811.3 973.7 811.3 975 811.3 976.2 811.3 977.4 811.3 978.6 811.3 979.8 811.3 981 811.2 982.1 810.9 982.9 810.1 983.6 809 984.3 807.9 984.9 806.8 985.3 805.7 985.6 804.5 985.8 803.3 986.1 802.1 986.3 800.9 986.5 799.7 986.7 798.5 986.9 797.3 987.2 796.2 987.4 795 987.6 793.8 987.8 792.6 988.1 791.4 988.3 790.2 988.5 789 988.6 787.8 988.8 786.6 989 785.3 989.2 784.1 989.3 782.9 989.5 781.7 989.7 780.5 989.9 779.2 990 778 990.2 776.8 990.4 775.5 990.6 774.3 990.7 773 990.9 771.7 991.1 770.5 991.3 769.2" stroke="#1f1f1f" stroke-width="1.6" fill="none" stroke-linejoin="round"/><path d="M741.7 750.1 742.3 749 742.9 747.9 743.6 746.9 744.2 745.8 744.7 744.7 745.2 743.5 745.7 742.4 746.1 741.3 746.4 740.1 746.8 739 747.2 737.8 747.6 736.7 748 735.5 748.3 734.4 748.7 733.2 749.2 732.1 749.7 731 750.2 729.9 750.7 728.8 751.3 727.7 752 726.8 752.9 726.1 754.1 725.6 755.4 725.3 756.7 725.2 757.9 725.1 759.2 725.1 760.4 725.1 761.6 725.2 762.8 725.2 764 725.2 765.2 725.2 766.4 725.2 767.6 725.2 768.8 725.3 770.1 725.3 771.3 725.3 772.5 725.3 773.7 725.3 774.9 725.3 776.1 725.4 777.3 725.4 778.5 725.4 779.7 725.4 781 725.4 782.2 725.4 783.4 725.5 784.6 725.6 785.7 726 786.9 726.6 788 727.3 789.1 728.1 790.1 728.9 791.1 729.7 792 730.5 792.9 731.3 793.9 732.1 794.8 732.9 795.8 733.7 796.7 734.4 797.7 735.1 798.7 735.9 799.7 736.6 800.7 737.3 801.7 738 802.7 738.7 803.8 739.3 804.9 739.9 806 740.4 807.2 740.9 808.4 741.4 809.7 741.8 810.9 742.1 812.1 742.2 813.4 742.3 814.6 742.4 815.9 742.5 817.1 742.5 818.4 742.6 819.6 742.7 820.9 742.9 822.1 743.1 823.3 743.4 824.5 743.7 825.6 744.1 826.7 744.5 827.8 745.1 828.8 745.8 829.8 746.5 830.8 747.1 831.8 747.8 832.8 748.5 833.8 749.3 834.8 750 835.8 750.8 836.8 751.5 837.8 752.3 838.8 753 839.8 753.7 840.9 754.4 842 755 843.2 755.6 844.3 756.1 845.5 756.7 846.6 757.3 847.8 757.8 848.9 758.2 850.1 758.6 851.3 758.9 852.5 759.1 853.8 759.4 855 759.5 856.2 759.6 857.5 759.6 858.7 759.6 860 759.7 861.2 759.7 862.5 759.7 863.7 759.8 865 759.9 866.2 760.2 867.4 760.5 868.6 760.9 869.8 761.3 871 761.9 872.2 762.4 873.4 762.9 874.4 763.6 875.4 764.3 876.3 765.1 877.3 765.9 878.2 766.6 879.1 767.4 880.1 768.2 881 769 881.9 769.8 882.9 770.6 883.8 771.5 884.8 772.3 885.7 773.1 886.7 773.9 887.6 774.7 888.7 775.4 889.9 775.9 891.1 776.4 892.3 776.9 893.5 777.3 894.7 777.6 896 777.7 897.2 777.8 898.5 777.9 899.7 777.9 901 778 902.2 778.1 903.5 778.1 904.7 778.2 905.9 778.1 907.2 778.1 908.4 778.1 909.6 778.1 910.9 778 912.1 778 913.3 778 914.6 777.9 915.8 777.9 917 777.9 918.3 777.8 919.5 777.9 920.8 777.9 922 778.1 923.2 778.3 924.5 778.6 925.7 778.8 926.9 779 928.1 779.4 929.1 780 930.2 780.7 931.1 781.5 932.1 782.3 932.9 783.2 933.8 784.1 934.6 785 935.4 785.9 936.2 786.9 937 787.8 937.8 788.7 938.7 789.6 939.7 790.4 940.7 791.1 941.7 791.9 942.7 792.7 943.7 793.4 944.8 793.9 946 794.2 947.2 794.5 948.4 794.8 949.6 795 950.8 795.2 952 795.2 953.2 795.2 954.5 795.2 955.7 795.2 956.9 795.2 958.1 795.2 959.3 795.2 960.5 795.2 961.8 795.2 963 795.2 964.2 795.2 965.4 795.2 966.6 795.2 967.8 795.2 969.1 795.2 970.3 795.2 971.5 795.2 972.7 795.2 973.9 795.2 975.1 795.2 976.4 795.2 977.6 795.2 978.8 795.2 980 795.2 981.2 795.2 982.4 795.2 983.7 795.3 984.8 795.5 986 795.8 987.1 796.3 988.3 796.7 989.5 797.3 990.7 797.9 991.3 798.2" stroke="#d0463e" stroke-width="2" fill="none" stroke-linejoin="round"/></g><rect x="741.5" y="708.6" width="249.5" height="103.1" fill="none" stroke="#4a4a4a" stroke-width="1.2"/><path d="M741.5 811.7v-4M754 811.7v-2.5M766.5 811.7v-4M778.9 811.7v-2.5M791.4 811.7v-4M803.9 811.7v-2.5M816.4 811.7v-4M828.8 811.7v-2.5M841.3 811.7v-4M853.8 811.7v-2.5M866.2 811.7v-4M878.7 811.7v-2.5M891.2 811.7v-4M903.7 811.7v-2.5M916.1 811.7v-4M928.6 811.7v-2.5M941.1 811.7v-4M953.6 811.7v-2.5M966 811.7v-4M978.5 811.7v-2.5M991 811.7v-4M741.5 788.4h2.5M741.5 763.5h4M741.5 738.7h2.5M741.5 713.8h4M991 803.2h-2.5M991 794.6h-4M991 786h-2.5M991 777.4h-2.5M991 768.8h-2.5M991 760.2h-4M991 751.6h-2.5M991 743h-2.5M991 734.4h-2.5M991 725.8h-4M991 717.2h-2.5" stroke="#4a4a4a" stroke-width="1" fill="none"/><text x="738" y="825.9" text-anchor="middle" font-size="16.3" fill="#3c3c3c" >−5</text><text x="764" y="825.9" text-anchor="middle" font-size="16.3" fill="#3c3c3c" >−4</text><text x="788.9" y="825.9" text-anchor="middle" font-size="16.3" fill="#3c3c3c" >−3</text><text x="813.9" y="825.9" text-anchor="middle" font-size="16.3" fill="#3c3c3c" >−2</text><text x="838.8" y="825.9" text-anchor="middle" font-size="16.3" fill="#3c3c3c" >−1</text><text x="866.2" y="825.9" text-anchor="middle" font-size="16.3" fill="#3c3c3c" >0</text><text x="891.2" y="825.9" text-anchor="middle" font-size="16.3" fill="#3c3c3c" >1</text><text x="916.1" y="825.9" text-anchor="middle" font-size="16.3" fill="#3c3c3c" >2</text><text x="941.1" y="825.9" text-anchor="middle" font-size="16.3" fill="#3c3c3c" >3</text><text x="966" y="825.9" text-anchor="middle" font-size="16.3" fill="#3c3c3c" >4</text><text x="989.5" y="825.9" text-anchor="middle" font-size="16.3" fill="#3c3c3c" >5</text><text x="738.5" y="719.1" text-anchor="end" font-size="16.5" fill="#3c3c3c" >2</text><text x="738.5" y="767.3" text-anchor="end" font-size="16.5" fill="#3c3c3c" >1</text><text x="738.5" y="804.1" text-anchor="end" font-size="16.5" fill="#3c3c3c" >0</text><text x="996" y="730.8" text-anchor="start" font-size="16" fill="#3c3c3c" >4</text><text x="996" y="764.9" text-anchor="start" font-size="16" fill="#3c3c3c" >0</text><text x="996" y="799.3" text-anchor="start" font-size="16" fill="#3c3c3c" >−4</text><text x="769.7" y="722" text-anchor="middle" font-size="13.5" fill="#3c3c3c" >−4</text><text x="812.8" y="737.1" text-anchor="middle" font-size="13.5" fill="#3c3c3c" >−2</text><text x="861.3" y="756.1" text-anchor="middle" font-size="13.5" fill="#3c3c3c" >0</text><text x="917.1" y="773.2" text-anchor="middle" font-size="13.5" fill="#3c3c3c" >2</text><text x="967.6" y="790.2" text-anchor="middle" font-size="13.5" fill="#3c3c3c" >4</text><text x="954.2" y="727.7" text-anchor="middle" font-size="16.3" fill="#3c3c3c"><tspan font-style="italic">B</tspan> = 7 T</text><path d="M938.8 743.1H956.2" stroke="#d0463e" stroke-width="2"/><path d="M938.8 760.5H956.2" stroke="#1f1f1f" stroke-width="1.5"/><text x="961" y="747" font-size="15" fill="#3c3c3c" font-style="italic">σ<tspan dy="4" font-size="11">xx</tspan></text><text x="961" y="764.3" font-size="15" fill="#3c3c3c" font-style="italic">σ<tspan dy="4" font-size="11">xy</tspan></text><text x="865.5" y="851.5" text-anchor="middle" font-size="16.3" fill="#3c3c3c">Filling fraction</text><text transform="translate(711.5 641.5) rotate(-90)" text-anchor="middle" font-size="18.5" fill="#3c3c3c"><tspan font-style="italic">σ</tspan><tspan font-style="italic" dy="4" font-size="12.5">xx</tspan><tspan dy="-4"> (e</tspan><tspan dy="-6" font-size="11">2</tspan><tspan dy="6">/</tspan><tspan font-style="italic">h</tspan>)</text><text transform="translate(1029.5 636) rotate(90)" text-anchor="middle" font-size="18.5" fill="#3c3c3c"><tspan font-style="italic">σ</tspan><tspan font-style="italic" dy="4" font-size="12.5">xy</tspan><tspan dy="-4"> (e</tspan><tspan dy="-6" font-size="11">2</tspan><tspan dy="6">/</tspan><tspan font-style="italic">h</tspan>)</text></g>
</svg>
</body></html>
